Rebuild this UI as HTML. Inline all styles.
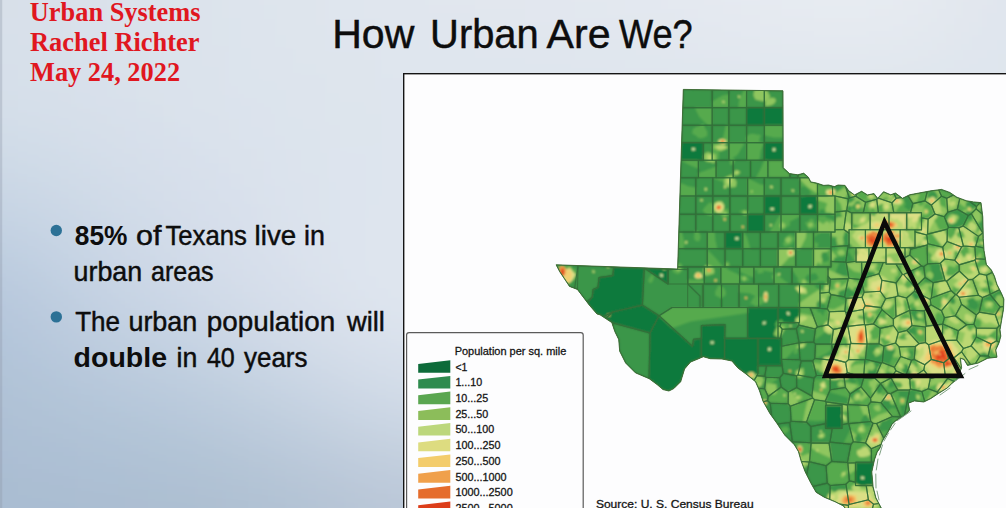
<!DOCTYPE html>
<html><head><meta charset="utf-8"><title>How Urban Are We?</title>
<style>
html,body{margin:0;padding:0;}
body{width:1006px;height:508px;overflow:hidden;position:relative;font-family:"Liberation Sans",sans-serif;
background:#dde3ea;}
svg{position:absolute;left:0;top:0;}
</style></head><body>
<svg width="1006" height="508" viewBox="0 0 1006 508">
<defs><filter id="bgblur" filterUnits="userSpaceOnUse" x="-400" y="-400" width="1900" height="1400"><feGaussianBlur stdDeviation="48"/></filter></defs>
<g filter="url(#bgblur)">
<rect x="-350" y="-350" width="101" height="101" fill="rgb(216,224,233)"/>
<rect x="-250" y="-350" width="101" height="101" fill="rgb(216,224,233)"/>
<rect x="-150" y="-350" width="101" height="101" fill="rgb(216,224,233)"/>
<rect x="-50" y="-350" width="101" height="101" fill="rgb(216,224,233)"/>
<rect x="50" y="-350" width="101" height="101" fill="rgb(218,225,234)"/>
<rect x="150" y="-350" width="101" height="101" fill="rgb(220,227,236)"/>
<rect x="250" y="-350" width="101" height="101" fill="rgb(223,229,237)"/>
<rect x="350" y="-350" width="101" height="101" fill="rgb(225,230,238)"/>
<rect x="450" y="-350" width="101" height="101" fill="rgb(226,231,239)"/>
<rect x="550" y="-350" width="101" height="101" fill="rgb(227,232,240)"/>
<rect x="650" y="-350" width="101" height="101" fill="rgb(229,233,241)"/>
<rect x="750" y="-350" width="101" height="101" fill="rgb(232,236,242)"/>
<rect x="850" y="-350" width="101" height="101" fill="rgb(232,236,242)"/>
<rect x="950" y="-350" width="101" height="101" fill="rgb(224,229,237)"/>
<rect x="1050" y="-350" width="101" height="101" fill="rgb(224,229,237)"/>
<rect x="1150" y="-350" width="101" height="101" fill="rgb(224,229,237)"/>
<rect x="1250" y="-350" width="101" height="101" fill="rgb(224,229,237)"/>
<rect x="-350" y="-250" width="101" height="101" fill="rgb(216,224,233)"/>
<rect x="-250" y="-250" width="101" height="101" fill="rgb(216,224,233)"/>
<rect x="-150" y="-250" width="101" height="101" fill="rgb(216,224,233)"/>
<rect x="-50" y="-250" width="101" height="101" fill="rgb(216,224,233)"/>
<rect x="50" y="-250" width="101" height="101" fill="rgb(218,225,234)"/>
<rect x="150" y="-250" width="101" height="101" fill="rgb(220,227,236)"/>
<rect x="250" y="-250" width="101" height="101" fill="rgb(223,229,237)"/>
<rect x="350" y="-250" width="101" height="101" fill="rgb(225,230,238)"/>
<rect x="450" y="-250" width="101" height="101" fill="rgb(226,231,239)"/>
<rect x="550" y="-250" width="101" height="101" fill="rgb(227,232,240)"/>
<rect x="650" y="-250" width="101" height="101" fill="rgb(229,233,241)"/>
<rect x="750" y="-250" width="101" height="101" fill="rgb(232,236,242)"/>
<rect x="850" y="-250" width="101" height="101" fill="rgb(232,236,242)"/>
<rect x="950" y="-250" width="101" height="101" fill="rgb(224,229,237)"/>
<rect x="1050" y="-250" width="101" height="101" fill="rgb(224,229,237)"/>
<rect x="1150" y="-250" width="101" height="101" fill="rgb(224,229,237)"/>
<rect x="1250" y="-250" width="101" height="101" fill="rgb(224,229,237)"/>
<rect x="-350" y="-150" width="101" height="101" fill="rgb(216,224,233)"/>
<rect x="-250" y="-150" width="101" height="101" fill="rgb(216,224,233)"/>
<rect x="-150" y="-150" width="101" height="101" fill="rgb(216,224,233)"/>
<rect x="-50" y="-150" width="101" height="101" fill="rgb(216,224,233)"/>
<rect x="50" y="-150" width="101" height="101" fill="rgb(218,225,234)"/>
<rect x="150" y="-150" width="101" height="101" fill="rgb(220,227,236)"/>
<rect x="250" y="-150" width="101" height="101" fill="rgb(223,229,237)"/>
<rect x="350" y="-150" width="101" height="101" fill="rgb(225,230,238)"/>
<rect x="450" y="-150" width="101" height="101" fill="rgb(226,231,239)"/>
<rect x="550" y="-150" width="101" height="101" fill="rgb(227,232,240)"/>
<rect x="650" y="-150" width="101" height="101" fill="rgb(229,233,241)"/>
<rect x="750" y="-150" width="101" height="101" fill="rgb(232,236,242)"/>
<rect x="850" y="-150" width="101" height="101" fill="rgb(232,236,242)"/>
<rect x="950" y="-150" width="101" height="101" fill="rgb(224,229,237)"/>
<rect x="1050" y="-150" width="101" height="101" fill="rgb(224,229,237)"/>
<rect x="1150" y="-150" width="101" height="101" fill="rgb(224,229,237)"/>
<rect x="1250" y="-150" width="101" height="101" fill="rgb(224,229,237)"/>
<rect x="-350" y="-50" width="101" height="101" fill="rgb(216,224,233)"/>
<rect x="-250" y="-50" width="101" height="101" fill="rgb(216,224,233)"/>
<rect x="-150" y="-50" width="101" height="101" fill="rgb(216,224,233)"/>
<rect x="-50" y="-50" width="101" height="101" fill="rgb(216,224,233)"/>
<rect x="50" y="-50" width="101" height="101" fill="rgb(218,225,234)"/>
<rect x="150" y="-50" width="101" height="101" fill="rgb(220,227,236)"/>
<rect x="250" y="-50" width="101" height="101" fill="rgb(223,229,237)"/>
<rect x="350" y="-50" width="101" height="101" fill="rgb(225,230,238)"/>
<rect x="450" y="-50" width="101" height="101" fill="rgb(226,231,239)"/>
<rect x="550" y="-50" width="101" height="101" fill="rgb(227,232,240)"/>
<rect x="650" y="-50" width="101" height="101" fill="rgb(229,233,241)"/>
<rect x="750" y="-50" width="101" height="101" fill="rgb(232,236,242)"/>
<rect x="850" y="-50" width="101" height="101" fill="rgb(232,236,242)"/>
<rect x="950" y="-50" width="101" height="101" fill="rgb(224,229,237)"/>
<rect x="1050" y="-50" width="101" height="101" fill="rgb(224,229,237)"/>
<rect x="1150" y="-50" width="101" height="101" fill="rgb(224,229,237)"/>
<rect x="1250" y="-50" width="101" height="101" fill="rgb(224,229,237)"/>
<rect x="-350" y="50" width="101" height="101" fill="rgb(214,224,234)"/>
<rect x="-250" y="50" width="101" height="101" fill="rgb(214,224,234)"/>
<rect x="-150" y="50" width="101" height="101" fill="rgb(214,224,234)"/>
<rect x="-50" y="50" width="101" height="101" fill="rgb(214,224,234)"/>
<rect x="50" y="50" width="101" height="101" fill="rgb(217,225,235)"/>
<rect x="150" y="50" width="101" height="101" fill="rgb(219,227,236)"/>
<rect x="250" y="50" width="101" height="101" fill="rgb(221,228,237)"/>
<rect x="350" y="50" width="101" height="101" fill="rgb(222,229,237)"/>
<rect x="450" y="50" width="101" height="101" fill="rgb(222,229,237)"/>
<rect x="550" y="50" width="101" height="101" fill="rgb(222,229,237)"/>
<rect x="650" y="50" width="101" height="101" fill="rgb(222,229,237)"/>
<rect x="750" y="50" width="101" height="101" fill="rgb(222,229,237)"/>
<rect x="850" y="50" width="101" height="101" fill="rgb(222,229,237)"/>
<rect x="950" y="50" width="101" height="101" fill="rgb(222,229,237)"/>
<rect x="1050" y="50" width="101" height="101" fill="rgb(222,229,237)"/>
<rect x="1150" y="50" width="101" height="101" fill="rgb(222,229,237)"/>
<rect x="1250" y="50" width="101" height="101" fill="rgb(222,229,237)"/>
<rect x="-350" y="150" width="101" height="101" fill="rgb(200,213,228)"/>
<rect x="-250" y="150" width="101" height="101" fill="rgb(200,213,228)"/>
<rect x="-150" y="150" width="101" height="101" fill="rgb(200,213,228)"/>
<rect x="-50" y="150" width="101" height="101" fill="rgb(200,213,228)"/>
<rect x="50" y="150" width="101" height="101" fill="rgb(208,219,232)"/>
<rect x="150" y="150" width="101" height="101" fill="rgb(215,223,235)"/>
<rect x="250" y="150" width="101" height="101" fill="rgb(220,227,237)"/>
<rect x="350" y="150" width="101" height="101" fill="rgb(222,229,238)"/>
<rect x="450" y="150" width="101" height="101" fill="rgb(222,229,238)"/>
<rect x="550" y="150" width="101" height="101" fill="rgb(222,229,238)"/>
<rect x="650" y="150" width="101" height="101" fill="rgb(222,229,238)"/>
<rect x="750" y="150" width="101" height="101" fill="rgb(222,229,238)"/>
<rect x="850" y="150" width="101" height="101" fill="rgb(222,229,238)"/>
<rect x="950" y="150" width="101" height="101" fill="rgb(222,229,238)"/>
<rect x="1050" y="150" width="101" height="101" fill="rgb(222,229,238)"/>
<rect x="1150" y="150" width="101" height="101" fill="rgb(222,229,238)"/>
<rect x="1250" y="150" width="101" height="101" fill="rgb(222,229,238)"/>
<rect x="-350" y="250" width="101" height="101" fill="rgb(180,198,220)"/>
<rect x="-250" y="250" width="101" height="101" fill="rgb(180,198,220)"/>
<rect x="-150" y="250" width="101" height="101" fill="rgb(180,198,220)"/>
<rect x="-50" y="250" width="101" height="101" fill="rgb(180,198,220)"/>
<rect x="50" y="250" width="101" height="101" fill="rgb(197,210,227)"/>
<rect x="150" y="250" width="101" height="101" fill="rgb(208,218,232)"/>
<rect x="250" y="250" width="101" height="101" fill="rgb(218,225,236)"/>
<rect x="350" y="250" width="101" height="101" fill="rgb(225,231,240)"/>
<rect x="450" y="250" width="101" height="101" fill="rgb(225,231,240)"/>
<rect x="550" y="250" width="101" height="101" fill="rgb(225,231,240)"/>
<rect x="650" y="250" width="101" height="101" fill="rgb(225,231,240)"/>
<rect x="750" y="250" width="101" height="101" fill="rgb(225,231,240)"/>
<rect x="850" y="250" width="101" height="101" fill="rgb(225,231,240)"/>
<rect x="950" y="250" width="101" height="101" fill="rgb(225,231,240)"/>
<rect x="1050" y="250" width="101" height="101" fill="rgb(225,231,240)"/>
<rect x="1150" y="250" width="101" height="101" fill="rgb(225,231,240)"/>
<rect x="1250" y="250" width="101" height="101" fill="rgb(225,231,240)"/>
<rect x="-350" y="350" width="101" height="101" fill="rgb(175,193,213)"/>
<rect x="-250" y="350" width="101" height="101" fill="rgb(175,193,213)"/>
<rect x="-150" y="350" width="101" height="101" fill="rgb(175,193,213)"/>
<rect x="-50" y="350" width="101" height="101" fill="rgb(175,193,213)"/>
<rect x="50" y="350" width="101" height="101" fill="rgb(180,198,217)"/>
<rect x="150" y="350" width="101" height="101" fill="rgb(186,203,221)"/>
<rect x="250" y="350" width="101" height="101" fill="rgb(198,211,226)"/>
<rect x="350" y="350" width="101" height="101" fill="rgb(210,220,232)"/>
<rect x="450" y="350" width="101" height="101" fill="rgb(210,220,232)"/>
<rect x="550" y="350" width="101" height="101" fill="rgb(210,220,232)"/>
<rect x="650" y="350" width="101" height="101" fill="rgb(210,220,232)"/>
<rect x="750" y="350" width="101" height="101" fill="rgb(210,220,232)"/>
<rect x="850" y="350" width="101" height="101" fill="rgb(210,220,232)"/>
<rect x="950" y="350" width="101" height="101" fill="rgb(210,220,232)"/>
<rect x="1050" y="350" width="101" height="101" fill="rgb(210,220,232)"/>
<rect x="1150" y="350" width="101" height="101" fill="rgb(210,220,232)"/>
<rect x="1250" y="350" width="101" height="101" fill="rgb(210,220,232)"/>
<rect x="-350" y="450" width="101" height="101" fill="rgb(169,188,209)"/>
<rect x="-250" y="450" width="101" height="101" fill="rgb(169,188,209)"/>
<rect x="-150" y="450" width="101" height="101" fill="rgb(169,188,209)"/>
<rect x="-50" y="450" width="101" height="101" fill="rgb(169,188,209)"/>
<rect x="50" y="450" width="101" height="101" fill="rgb(170,189,209)"/>
<rect x="150" y="450" width="101" height="101" fill="rgb(172,190,208)"/>
<rect x="250" y="450" width="101" height="101" fill="rgb(177,193,211)"/>
<rect x="350" y="450" width="101" height="101" fill="rgb(185,198,215)"/>
<rect x="450" y="450" width="101" height="101" fill="rgb(185,198,215)"/>
<rect x="550" y="450" width="101" height="101" fill="rgb(185,198,215)"/>
<rect x="650" y="450" width="101" height="101" fill="rgb(185,198,215)"/>
<rect x="750" y="450" width="101" height="101" fill="rgb(185,198,215)"/>
<rect x="850" y="450" width="101" height="101" fill="rgb(185,198,215)"/>
<rect x="950" y="450" width="101" height="101" fill="rgb(185,198,215)"/>
<rect x="1050" y="450" width="101" height="101" fill="rgb(185,198,215)"/>
<rect x="1150" y="450" width="101" height="101" fill="rgb(185,198,215)"/>
<rect x="1250" y="450" width="101" height="101" fill="rgb(185,198,215)"/>
<rect x="-350" y="550" width="101" height="101" fill="rgb(169,188,209)"/>
<rect x="-250" y="550" width="101" height="101" fill="rgb(169,188,209)"/>
<rect x="-150" y="550" width="101" height="101" fill="rgb(169,188,209)"/>
<rect x="-50" y="550" width="101" height="101" fill="rgb(169,188,209)"/>
<rect x="50" y="550" width="101" height="101" fill="rgb(170,189,209)"/>
<rect x="150" y="550" width="101" height="101" fill="rgb(172,190,208)"/>
<rect x="250" y="550" width="101" height="101" fill="rgb(177,193,211)"/>
<rect x="350" y="550" width="101" height="101" fill="rgb(185,198,215)"/>
<rect x="450" y="550" width="101" height="101" fill="rgb(185,198,215)"/>
<rect x="550" y="550" width="101" height="101" fill="rgb(185,198,215)"/>
<rect x="650" y="550" width="101" height="101" fill="rgb(185,198,215)"/>
<rect x="750" y="550" width="101" height="101" fill="rgb(185,198,215)"/>
<rect x="850" y="550" width="101" height="101" fill="rgb(185,198,215)"/>
<rect x="950" y="550" width="101" height="101" fill="rgb(185,198,215)"/>
<rect x="1050" y="550" width="101" height="101" fill="rgb(185,198,215)"/>
<rect x="1150" y="550" width="101" height="101" fill="rgb(185,198,215)"/>
<rect x="1250" y="550" width="101" height="101" fill="rgb(185,198,215)"/>
<rect x="-350" y="650" width="101" height="101" fill="rgb(169,188,209)"/>
<rect x="-250" y="650" width="101" height="101" fill="rgb(169,188,209)"/>
<rect x="-150" y="650" width="101" height="101" fill="rgb(169,188,209)"/>
<rect x="-50" y="650" width="101" height="101" fill="rgb(169,188,209)"/>
<rect x="50" y="650" width="101" height="101" fill="rgb(170,189,209)"/>
<rect x="150" y="650" width="101" height="101" fill="rgb(172,190,208)"/>
<rect x="250" y="650" width="101" height="101" fill="rgb(177,193,211)"/>
<rect x="350" y="650" width="101" height="101" fill="rgb(185,198,215)"/>
<rect x="450" y="650" width="101" height="101" fill="rgb(185,198,215)"/>
<rect x="550" y="650" width="101" height="101" fill="rgb(185,198,215)"/>
<rect x="650" y="650" width="101" height="101" fill="rgb(185,198,215)"/>
<rect x="750" y="650" width="101" height="101" fill="rgb(185,198,215)"/>
<rect x="850" y="650" width="101" height="101" fill="rgb(185,198,215)"/>
<rect x="950" y="650" width="101" height="101" fill="rgb(185,198,215)"/>
<rect x="1050" y="650" width="101" height="101" fill="rgb(185,198,215)"/>
<rect x="1150" y="650" width="101" height="101" fill="rgb(185,198,215)"/>
<rect x="1250" y="650" width="101" height="101" fill="rgb(185,198,215)"/>
<rect x="-350" y="750" width="101" height="101" fill="rgb(169,188,209)"/>
<rect x="-250" y="750" width="101" height="101" fill="rgb(169,188,209)"/>
<rect x="-150" y="750" width="101" height="101" fill="rgb(169,188,209)"/>
<rect x="-50" y="750" width="101" height="101" fill="rgb(169,188,209)"/>
<rect x="50" y="750" width="101" height="101" fill="rgb(170,189,209)"/>
<rect x="150" y="750" width="101" height="101" fill="rgb(172,190,208)"/>
<rect x="250" y="750" width="101" height="101" fill="rgb(177,193,211)"/>
<rect x="350" y="750" width="101" height="101" fill="rgb(185,198,215)"/>
<rect x="450" y="750" width="101" height="101" fill="rgb(185,198,215)"/>
<rect x="550" y="750" width="101" height="101" fill="rgb(185,198,215)"/>
<rect x="650" y="750" width="101" height="101" fill="rgb(185,198,215)"/>
<rect x="750" y="750" width="101" height="101" fill="rgb(185,198,215)"/>
<rect x="850" y="750" width="101" height="101" fill="rgb(185,198,215)"/>
<rect x="950" y="750" width="101" height="101" fill="rgb(185,198,215)"/>
<rect x="1050" y="750" width="101" height="101" fill="rgb(185,198,215)"/>
<rect x="1150" y="750" width="101" height="101" fill="rgb(185,198,215)"/>
<rect x="1250" y="750" width="101" height="101" fill="rgb(185,198,215)"/>
</g>
<rect x="0" y="0" width="2.2" height="508" fill="#8e99a8" fill-opacity="0.35"/>
<text x="29.80" y="21.0" font-family="Liberation Serif, serif" font-weight="bold" font-size="27" fill="#e0171f" textLength="170.70" lengthAdjust="spacingAndGlyphs">Urban Systems</text>
<text x="30.00" y="50.8" font-family="Liberation Serif, serif" font-weight="bold" font-size="27" fill="#e0171f" textLength="169.48" lengthAdjust="spacingAndGlyphs">Rachel Richter</text>
<text x="30.00" y="80.8" font-family="Liberation Serif, serif" font-weight="bold" font-size="27" fill="#e0171f" textLength="150.09" lengthAdjust="spacingAndGlyphs">May 24, 2022</text>
<text x="332.23" y="48.2" font-family="Liberation Sans, sans-serif" font-weight="normal" font-size="41.5" fill="#0d0d0d" textLength="82.15" lengthAdjust="spacingAndGlyphs" stroke="#0d0d0d" stroke-width="0.45">How</text>
<text x="430.12" y="48.2" font-family="Liberation Sans, sans-serif" font-weight="normal" font-size="41.5" fill="#0d0d0d" textLength="108.58" lengthAdjust="spacingAndGlyphs" stroke="#0d0d0d" stroke-width="0.45">Urban</text>
<text x="546.60" y="48.2" font-family="Liberation Sans, sans-serif" font-weight="normal" font-size="41.5" fill="#0d0d0d" textLength="63.97" lengthAdjust="spacingAndGlyphs" stroke="#0d0d0d" stroke-width="0.45">Are</text>
<text x="619.00" y="48.2" font-family="Liberation Sans, sans-serif" font-weight="normal" font-size="41.5" fill="#0d0d0d" textLength="73.74" lengthAdjust="spacingAndGlyphs" stroke="#0d0d0d" stroke-width="0.45">We?</text>
<text x="74.80" y="245.0" font-family="Liberation Sans, sans-serif" font-weight="bold" font-size="27.2" fill="#0d0d0d" textLength="52.67" lengthAdjust="spacingAndGlyphs">85%</text>
<text x="136.08" y="245.0" font-family="Liberation Sans, sans-serif" font-weight="normal" font-size="27.2" fill="#0d0d0d" textLength="25.42" lengthAdjust="spacingAndGlyphs" stroke="#0d0d0d" stroke-width="0.45">of</text>
<text x="165.40" y="245.0" font-family="Liberation Sans, sans-serif" font-weight="normal" font-size="27.2" fill="#0d0d0d" textLength="81.46" lengthAdjust="spacingAndGlyphs" stroke="#0d0d0d" stroke-width="0.45">Texans</text>
<text x="254.58" y="245.0" font-family="Liberation Sans, sans-serif" font-weight="normal" font-size="27.2" fill="#0d0d0d" textLength="41.56" lengthAdjust="spacingAndGlyphs" stroke="#0d0d0d" stroke-width="0.45">live</text>
<text x="304.01" y="245.0" font-family="Liberation Sans, sans-serif" font-weight="normal" font-size="27.2" fill="#0d0d0d" textLength="20.89" lengthAdjust="spacingAndGlyphs" stroke="#0d0d0d" stroke-width="0.45">in</text>
<text x="73.61" y="280.8" font-family="Liberation Sans, sans-serif" font-weight="normal" font-size="27.2" fill="#0d0d0d" textLength="68.59" lengthAdjust="spacingAndGlyphs" stroke="#0d0d0d" stroke-width="0.45">urban</text>
<text x="150.98" y="280.8" font-family="Liberation Sans, sans-serif" font-weight="normal" font-size="27.2" fill="#0d0d0d" textLength="62.67" lengthAdjust="spacingAndGlyphs" stroke="#0d0d0d" stroke-width="0.45">areas</text>
<text x="75.20" y="330.8" font-family="Liberation Sans, sans-serif" font-weight="normal" font-size="27.2" fill="#0d0d0d" textLength="44.87" lengthAdjust="spacingAndGlyphs" stroke="#0d0d0d" stroke-width="0.45">The</text>
<text x="128.41" y="330.8" font-family="Liberation Sans, sans-serif" font-weight="normal" font-size="27.2" fill="#0d0d0d" textLength="68.90" lengthAdjust="spacingAndGlyphs" stroke="#0d0d0d" stroke-width="0.45">urban</text>
<text x="206.88" y="330.8" font-family="Liberation Sans, sans-serif" font-weight="normal" font-size="27.2" fill="#0d0d0d" textLength="128.27" lengthAdjust="spacingAndGlyphs" stroke="#0d0d0d" stroke-width="0.45">population</text>
<text x="347.00" y="330.8" font-family="Liberation Sans, sans-serif" font-weight="normal" font-size="27.2" fill="#0d0d0d" textLength="37.84" lengthAdjust="spacingAndGlyphs" stroke="#0d0d0d" stroke-width="0.45">will</text>
<text x="73.55" y="366.6" font-family="Liberation Sans, sans-serif" font-weight="bold" font-size="27.2" fill="#0d0d0d" textLength="93.58" lengthAdjust="spacingAndGlyphs">double</text>
<text x="176.52" y="366.6" font-family="Liberation Sans, sans-serif" font-weight="normal" font-size="27.2" fill="#0d0d0d" textLength="20.78" lengthAdjust="spacingAndGlyphs" stroke="#0d0d0d" stroke-width="0.45">in</text>
<text x="206.90" y="366.6" font-family="Liberation Sans, sans-serif" font-weight="normal" font-size="27.2" fill="#0d0d0d" textLength="27.91" lengthAdjust="spacingAndGlyphs" stroke="#0d0d0d" stroke-width="0.45">40</text>
<text x="244.00" y="366.6" font-family="Liberation Sans, sans-serif" font-weight="normal" font-size="27.2" fill="#0d0d0d" textLength="63.47" lengthAdjust="spacingAndGlyphs" stroke="#0d0d0d" stroke-width="0.45">years</text>
<circle cx="56.3" cy="230.5" r="5.7" fill="#2c7196"/><circle cx="56.3" cy="316.9" r="5.7" fill="#2c7196"/>
<rect x="403.7" y="73.7" width="620" height="460" fill="#fdfdfe" stroke="#141414" stroke-width="1.4"/>
<defs><filter id="soft" x="-5%" y="-5%" width="110%" height="110%"><feGaussianBlur stdDeviation="0.45"/></filter><filter id="soft2" x="-5%" y="-5%" width="110%" height="110%"><feGaussianBlur stdDeviation="1.0"/></filter></defs><defs><clipPath id="tx"><polygon points="683.3,89.4 783.0,90.8 783.2,167.7 789.5,173.6 797.8,174.8 803.7,173.2 808.4,177.2 810.8,181.9 816.7,183.1 823.8,185.4 828.5,185.0 834.4,186.6 838.0,185.0 845.0,185.4 848.6,190.6 854.5,194.9 861.6,191.3 867.5,194.9 874.0,193.6 877.7,198.3 883.6,191.7 890.7,194.8 895.4,193.0 902.5,198.3 909.6,194.8 919.0,193.0 930.9,190.8 941.5,189.4 949.8,192.4 956.9,197.2 966.3,200.7 973.4,201.9 981.0,202.6 982.8,217.0 983.3,238.5 984.0,250.3 986.4,264.5 991.4,270.0 994.5,276.3 996.9,284.2 1001.6,293.6 1003.9,299.1 1003.5,309.4 1001.6,320.4 1000.0,329.8 1000.8,336.1 999.2,342.4 995.8,350.0 997.0,357.2 987.6,358.3 978.1,363.1 967.5,365.4 964.0,359.5 960.4,358.3 961.6,367.8 956.9,379.6 952.1,383.2 947.4,387.9 938.0,393.8 930.9,398.5 923.8,402.0 914.3,400.9 908.4,403.2 909.6,410.3 904.9,415.0 895.4,421.0 891.9,424.5 888.3,431.6 882.4,441.0 880.0,448.0 877.2,452.0 874.5,459.7 871.8,471.9 873.1,486.8 875.9,497.7 881.3,508.0 884.0,520.0 840.0,520.0 845.0,508.0 843.3,505.9 835.1,501.8 824.2,497.2 816.1,492.3 810.7,482.8 805.2,471.9 801.1,461.0 798.4,451.5 794.3,444.7 784.8,435.2 776.7,423.0 769.9,413.5 763.0,401.3 759.4,390.5 755.5,381.7 745.7,373.8 737.8,367.9 731.9,361.0 722.0,359.0 710.2,358.7 703.3,356.7 700.4,358.0 690.6,362.0 684.6,368.9 680.7,381.7 673.8,388.6 668.9,391.0 663.0,389.6 657.1,384.6 649.2,378.7 635.4,372.8 625.6,363.0 619.7,351.2 618.7,339.4 614.8,331.5 611.8,322.6 600.0,314.8 597.0,314.0 589.2,305.0 577.4,289.4 569.5,286.4 559.7,271.7 556.1,264.8 677.6,269.0 680.7,170.0"/></clipPath></defs>
<polygon points="683.3,89.4 783.0,90.8 783.2,167.7 789.5,173.6 797.8,174.8 803.7,173.2 808.4,177.2 810.8,181.9 816.7,183.1 823.8,185.4 828.5,185.0 834.4,186.6 838.0,185.0 845.0,185.4 848.6,190.6 854.5,194.9 861.6,191.3 867.5,194.9 874.0,193.6 877.7,198.3 883.6,191.7 890.7,194.8 895.4,193.0 902.5,198.3 909.6,194.8 919.0,193.0 930.9,190.8 941.5,189.4 949.8,192.4 956.9,197.2 966.3,200.7 973.4,201.9 981.0,202.6 982.8,217.0 983.3,238.5 984.0,250.3 986.4,264.5 991.4,270.0 994.5,276.3 996.9,284.2 1001.6,293.6 1003.9,299.1 1003.5,309.4 1001.6,320.4 1000.0,329.8 1000.8,336.1 999.2,342.4 995.8,350.0 997.0,357.2 987.6,358.3 978.1,363.1 967.5,365.4 964.0,359.5 960.4,358.3 961.6,367.8 956.9,379.6 952.1,383.2 947.4,387.9 938.0,393.8 930.9,398.5 923.8,402.0 914.3,400.9 908.4,403.2 909.6,410.3 904.9,415.0 895.4,421.0 891.9,424.5 888.3,431.6 882.4,441.0 880.0,448.0 877.2,452.0 874.5,459.7 871.8,471.9 873.1,486.8 875.9,497.7 881.3,508.0 884.0,520.0 840.0,520.0 845.0,508.0 843.3,505.9 835.1,501.8 824.2,497.2 816.1,492.3 810.7,482.8 805.2,471.9 801.1,461.0 798.4,451.5 794.3,444.7 784.8,435.2 776.7,423.0 769.9,413.5 763.0,401.3 759.4,390.5 755.5,381.7 745.7,373.8 737.8,367.9 731.9,361.0 722.0,359.0 710.2,358.7 703.3,356.7 700.4,358.0 690.6,362.0 684.6,368.9 680.7,381.7 673.8,388.6 668.9,391.0 663.0,389.6 657.1,384.6 649.2,378.7 635.4,372.8 625.6,363.0 619.7,351.2 618.7,339.4 614.8,331.5 611.8,322.6 600.0,314.8 597.0,314.0 589.2,305.0 577.4,289.4 569.5,286.4 559.7,271.7 556.1,264.8 677.6,269.0 680.7,170.0" fill="#3a9648"/>
<g clip-path="url(#tx)">
<g filter="url(#soft2)">
<rect x="540" y="80" width="470" height="440" fill="#3a9648"/>
<g stroke="#33703a" stroke-width="0.85" stroke-linejoin="round">
<polygon points="712.2,107.6 712.2,89.8 683.3,89.4 682.7,107.6" fill="#3a9648"/>
<polygon points="712.2,107.6 728.9,107.6 728.9,90.0 712.2,89.8" fill="#3a9648"/>
<polygon points="728.9,107.6 746.6,107.6 746.6,90.3 728.9,90.0" fill="#3a9648"/>
<polygon points="746.6,107.6 764.3,107.6 764.3,90.5 746.6,90.3" fill="#3a9648"/>
<polygon points="764.3,107.6 783.0,107.6 783.0,90.8 764.3,90.5" fill="#3a9648"/>
<polygon points="712.2,125.3 712.2,107.6 682.7,107.6 682.1,125.3" fill="#3a9648"/>
<polygon points="712.2,107.6 712.2,125.3 728.9,125.3 728.9,107.6" fill="#3a9648"/>
<polygon points="728.9,107.6 728.9,125.3 746.6,125.3 746.6,107.6" fill="#3a9648"/>
<polygon points="746.6,107.6 746.6,125.3 764.3,125.3 764.3,107.6" fill="#0e7a3c"/>
<polygon points="764.3,107.6 764.3,125.3 783.1,125.3 783.0,107.6" fill="#0e7a3c"/>
<polygon points="712.2,142.6 712.2,125.3 682.1,125.3 681.6,142.6" fill="#3a9648"/>
<polygon points="712.2,125.3 712.2,142.6 728.9,142.6 728.9,125.3" fill="#3a9648"/>
<polygon points="728.9,125.3 728.9,142.6 746.6,142.6 746.6,125.3" fill="#3a9648"/>
<polygon points="746.6,125.3 746.6,142.6 764.3,142.6 764.3,125.3" fill="#3a9648"/>
<polygon points="764.3,125.3 764.3,142.6 783.1,142.6 783.1,125.3" fill="#3a9648"/>
<polygon points="703.3,160.3 703.3,142.6 681.6,142.6 681.0,160.3" fill="#0e7a3c"/>
<polygon points="703.3,142.6 703.3,160.3 712.2,160.3 712.2,142.6" fill="#3a9648"/>
<polygon points="712.2,142.6 712.2,160.3 728.9,160.3 728.9,142.6" fill="#3a9648"/>
<polygon points="728.9,142.6 728.9,160.3 746.6,160.3 746.6,142.6" fill="#3a9648"/>
<polygon points="746.6,142.6 746.6,160.3 764.3,160.3 764.3,142.6" fill="#3a9648"/>
<polygon points="764.3,142.6 764.3,160.3 783.2,160.3 783.1,142.6" fill="#0e7a3c"/>
<polygon points="698.4,177.8 698.4,160.3 681.0,160.3 680.7,170.0 680.5,177.8" fill="#3a9648"/>
<polygon points="698.4,160.3 698.4,177.8 716.1,177.8 716.1,160.3" fill="#3a9648"/>
<polygon points="716.1,160.3 716.1,177.8 733.2,177.8 733.2,160.3" fill="#3a9648"/>
<polygon points="733.2,160.3 733.2,177.8 750.5,177.8 750.5,160.3" fill="#3a9648"/>
<polygon points="750.5,160.3 750.5,177.8 767.9,177.8 767.9,160.3" fill="#3a9648"/>
<polygon points="767.9,160.3 767.9,177.8 790.0,177.8 790.0,173.7 789.5,173.6 783.2,167.7 783.2,160.3" fill="#56aa4e"/>
<polygon points="695.8,196.0 695.8,177.8 680.5,177.8 679.9,196.0" fill="#3a9648"/>
<polygon points="695.8,177.8 695.8,196.0 712.8,196.0 712.8,177.8" fill="#3a9648"/>
<polygon points="712.8,177.8 712.8,196.0 729.9,196.0 729.9,177.8" fill="#3a9648"/>
<polygon points="729.9,177.8 729.9,196.0 747.6,196.0 747.6,177.8" fill="#3a9648"/>
<polygon points="747.6,177.8 747.6,196.0 764.3,196.0 764.3,177.8" fill="#3a9648"/>
<polygon points="764.3,177.8 764.3,196.0 781.0,196.0 781.0,177.8" fill="#3a9648"/>
<polygon points="781.0,177.8 781.0,196.0 799.8,196.0 799.8,177.8" fill="#3a9648"/>
<polygon points="799.8,177.8 799.8,196.0 817.5,196.0 817.5,183.4 816.7,183.1 810.8,181.9 808.7,177.8" fill="#56aa4e"/>
<polygon points="695.8,214.3 695.8,196.0 679.9,196.0 679.3,214.3" fill="#3a9648"/>
<polygon points="695.8,196.0 695.8,214.3 712.8,214.3 712.8,196.0" fill="#3a9648"/>
<polygon points="712.8,196.0 712.8,214.3 729.9,214.3 729.9,196.0" fill="#3a9648"/>
<polygon points="729.9,196.0 729.9,214.3 747.6,214.3 747.6,196.0" fill="#3a9648"/>
<polygon points="747.6,196.0 747.6,214.3 764.3,214.3 764.3,196.0" fill="#3a9648"/>
<polygon points="764.3,196.0 764.3,214.3 781.0,214.3 781.0,196.0" fill="#0e7a3c"/>
<polygon points="781.0,196.0 781.0,214.3 799.8,214.3 799.8,196.0" fill="#3a9648"/>
<polygon points="799.8,196.0 799.8,214.3 817.5,214.3 817.5,196.0" fill="#0e7a3c"/>
<polygon points="817.5,196.0 817.5,214.3 835.0,214.3 835.0,196.0" fill="#56aa4e"/>
<polygon points="695.8,232.0 695.8,214.3 679.3,214.3 678.8,232.0" fill="#3a9648"/>
<polygon points="695.8,214.3 695.8,232.0 712.8,232.0 712.8,214.3" fill="#3a9648"/>
<polygon points="712.8,214.3 712.8,232.0 729.9,232.0 729.9,214.3" fill="#3a9648"/>
<polygon points="729.9,214.3 729.9,232.0 747.6,232.0 747.6,214.3" fill="#3a9648"/>
<polygon points="747.6,214.3 747.6,232.0 764.3,232.0 764.3,214.3" fill="#0e7a3c"/>
<polygon points="764.3,214.3 764.3,232.0 781.0,232.0 781.0,214.3" fill="#3a9648"/>
<polygon points="781.0,214.3 781.0,232.0 799.8,232.0 799.8,214.3" fill="#3a9648"/>
<polygon points="799.8,214.3 799.8,232.0 817.5,232.0 817.5,214.3" fill="#3a9648"/>
<polygon points="817.5,214.3 817.5,232.0 835.0,232.0 835.0,214.3" fill="#56aa4e"/>
<polygon points="707.2,248.7 707.2,232.0 678.8,232.0 678.2,248.7" fill="#3a9648"/>
<polygon points="707.2,232.0 707.2,248.7 725.0,248.7 725.0,232.0" fill="#3a9648"/>
<polygon points="725.0,232.0 725.0,248.7 742.7,248.7 742.7,232.0" fill="#0e7a3c"/>
<polygon points="742.7,232.0 742.7,248.7 760.4,248.7 760.4,232.0" fill="#3a9648"/>
<polygon points="760.4,232.0 760.4,248.7 778.1,248.7 778.1,232.0" fill="#3a9648"/>
<polygon points="778.1,232.0 778.1,248.7 795.8,248.7 795.8,232.0" fill="#3a9648"/>
<polygon points="795.8,232.0 795.8,248.7 813.5,248.7 813.5,232.0" fill="#56aa4e"/>
<polygon points="813.5,232.0 813.5,248.7 831.0,248.7 831.0,232.0" fill="#56aa4e"/>
<polygon points="707.2,266.9 707.2,248.7 678.2,248.7 677.7,266.9" fill="#3a9648"/>
<polygon points="707.2,248.7 707.2,266.9 725.0,266.9 725.0,248.7" fill="#3a9648"/>
<polygon points="725.0,248.7 725.0,266.9 742.7,266.9 742.7,248.7" fill="#3a9648"/>
<polygon points="742.7,248.7 742.7,266.9 760.4,266.9 760.4,248.7" fill="#3a9648"/>
<polygon points="760.4,248.7 760.4,266.9 778.1,266.9 778.1,248.7" fill="#3a9648"/>
<polygon points="778.1,248.7 778.1,266.9 795.8,266.9 795.8,248.7" fill="#56aa4e"/>
<polygon points="795.8,248.7 795.8,266.9 813.5,266.9 813.5,248.7" fill="#3a9648"/>
<polygon points="813.5,248.7 813.5,266.9 831.0,266.9 831.0,248.7" fill="#56aa4e"/>
<polygon points="668.0,284.0 687.7,284.0 687.7,266.9 677.7,266.9 677.6,269.0 668.0,268.7" fill="#3a9648"/>
<polygon points="687.7,266.9 687.7,284.0 704.3,284.0 704.3,266.9" fill="#3a9648"/>
<polygon points="704.3,266.9 704.3,284.0 720.8,284.0 720.8,266.9" fill="#3a9648"/>
<polygon points="720.8,266.9 720.8,284.0 739.7,284.0 739.7,266.9" fill="#3a9648"/>
<polygon points="739.7,266.9 739.7,284.0 753.9,284.0 753.9,266.9" fill="#3a9648"/>
<polygon points="753.9,266.9 753.9,284.0 774.0,284.0 774.0,266.9" fill="#3a9648"/>
<polygon points="774.0,266.9 774.0,284.0 792.0,284.0 792.0,266.9" fill="#3a9648"/>
<polygon points="792.0,266.9 792.0,284.0 810.0,284.0 810.0,266.9" fill="#3a9648"/>
<polygon points="810.0,266.9 810.0,284.0 828.0,284.0 828.0,266.9" fill="#56aa4e"/>
<polygon points="687.7,284.0 687.7,307.5 703.1,307.5 703.1,284.0" fill="#3a9648"/>
<polygon points="703.1,284.0 703.1,307.5 721.5,307.5 721.5,284.0" fill="#3a9648"/>
<polygon points="721.5,284.0 721.5,307.5 739.0,307.5 739.0,284.0" fill="#3a9648"/>
<polygon points="739.0,284.0 739.0,307.5 758.6,307.5 758.6,284.0" fill="#3a9648"/>
<polygon points="758.6,284.0 758.6,307.5 778.7,307.5 778.7,284.0" fill="#3a9648"/>
<polygon points="778.7,284.0 778.7,307.5 799.5,307.5 799.5,284.0" fill="#3a9648"/>
<polygon points="799.5,284.0 799.5,307.5 820.0,307.5 820.0,284.0" fill="#56aa4e"/>
<polygon points="578.0,265.6 556.1,264.8 559.7,271.7 569.5,286.4 577.4,289.4 577.5,289.5" fill="#3a9648"/>
<polygon points="574.6,288.3 577.4,289.4 587.9,303.3 592.2,297.2 593.1,289.4 598.0,287.4 599.0,277.6 612.8,275.6 613.8,267.0 578.0,265.6" fill="#3a9648"/>
<polygon points="612.8,275.6 599.0,277.6 598.0,287.4 593.1,289.4 592.2,297.2 586.7,301.7 589.2,305.0 597.0,314.0 600.0,314.8 602.9,316.7 613.0,312.0 642.4,305.1 644.3,268.0 613.8,267.0" fill="#0e7a3c"/>
<polygon points="668.0,284.0 668.0,269.3 644.3,268.0" fill="#0e7a3c"/>
<polygon points="642.4,305.1 659.0,315.7 672.0,307.5 700.0,307.5 700.0,296.0 687.7,284.0 687.7,269.5 668.0,269.3 668.0,284.0 644.3,268.0" fill="#3a9648"/>
<polygon points="613.0,312.0 606.0,318.0 613.0,323.0 650.0,333.0 659.0,315.7 642.4,305.1" fill="#0e7a3c"/>
<polygon points="612.8,325.5 614.8,331.5 618.7,339.4 619.7,351.2 625.6,363.0 635.4,372.8 649.1,378.6 650.0,333.0 613.0,323.0" fill="#3a9648"/>
<polygon points="649.1,378.6 649.2,378.7 657.1,384.6 663.0,389.6 668.9,391.0 673.8,388.6 680.7,381.7 684.6,368.9 690.6,362.0 700.4,358.0 701.4,357.6 701.4,338.4 693.5,339.4 692.5,346.3 659.0,315.7 650.0,333.0" fill="#0e7a3c"/>
<polygon points="692.5,346.3 693.5,339.4 701.4,338.4 701.4,325.6 725.0,324.6 724.5,338.4 747.6,338.4 747.6,307.5 672.0,307.5 659.0,315.7" fill="#3a9648"/>
<polygon points="701.4,357.6 703.3,356.7 710.2,358.7 722.0,359.0 724.5,359.5 725.0,324.6 701.4,325.6" fill="#0e7a3c"/>
<polygon points="724.5,359.5 731.9,361.0 737.8,367.9 745.7,373.8 754.0,380.5 757.9,374.0 757.9,338.4 724.5,338.4" fill="#0e7a3c"/>
<polygon points="757.9,365.6 781.5,365.6 781.5,338.4 757.9,338.4" fill="#0e7a3c"/>
<polygon points="747.6,338.4 778.0,338.4 778.0,307.5 747.6,307.5" fill="#0e7a3c"/>
<polygon points="778.0,322.6 799.5,322.6 799.5,307.5 778.0,307.5" fill="#0e7a3c"/>
<polygon points="825.6,428.4 842.0,428.4 842.0,405.3 825.6,405.3" fill="#0e7a3c"/>
<polygon points="851.8,229.8 870.1,229.8 870.1,212.7 851.8,212.7" fill="#8fc65e"/>
<polygon points="870.1,229.8 889.0,229.8 889.0,212.7 870.1,212.7" fill="#dcdf85"/>
<polygon points="889.0,229.8 906.7,229.8 906.7,212.7 889.0,212.7" fill="#dcdf85"/>
<polygon points="906.7,229.8 921.5,229.8 921.5,212.7 906.7,212.7" fill="#bcd873"/>
<polygon points="849.0,247.6 865.4,247.6 865.4,229.8 849.0,229.8" fill="#bcd873"/>
<polygon points="865.4,247.6 882.5,247.6 882.5,229.8 865.4,229.8" fill="#dcdf85"/>
<polygon points="882.5,247.6 900.2,247.6 900.2,229.8 882.5,229.8" fill="#dcdf85"/>
<polygon points="900.2,247.6 915.0,247.6 915.0,229.8 900.2,229.8" fill="#bcd873"/>
<polygon points="856.0,262.0 869.0,262.0 869.0,247.6 856.0,247.6" fill="#bcd873"/>
<polygon points="869.0,262.5 886.0,262.5 886.0,247.6 869.0,247.6" fill="#bcd873"/>
<polygon points="886.0,264.0 905.0,264.0 905.0,247.6 886.0,247.6" fill="#bcd873"/>
<polygon points="855.5,485.5 873.0,485.5 871.8,471.9 873.9,462.4 855.5,462.4" fill="#0e7a3c"/>
<polygon points="798.2,174.7 797.8,174.8 790.0,173.7 790.0,177.8 797.7,177.8" fill="#3a9648"/>
<polygon points="797.7,177.8 808.7,177.8 808.4,177.2 803.7,173.2 798.2,174.7" fill="#56aa4e"/>
<polygon points="832.7,195.5 832.4,186.1 828.5,185.0 823.8,185.4 817.5,183.4 817.5,195.9 832.2,195.9" fill="#56aa4e"/>
<polygon points="834.6,195.9 835.0,195.9 835.0,196.0 835.0,196.0 835.0,196.0 835.0,196.0 835.0,196.0 835.0,196.0 835.0,196.0 835.0,196.0 835.0,196.0 835.0,196.0 835.0,196.0 835.0,196.0 835.0,196.0 835.0,196.0 835.0,196.0 835.0,196.0 835.0,196.0 848.5,198.9 849.3,198.0 845.5,186.1 845.0,185.4 838.0,185.0 834.4,186.6 832.4,186.1 832.7,195.5" fill="#56aa4e"/>
<polygon points="855.8,196.2 857.2,193.5 854.5,194.9 848.6,190.6 845.5,186.1 849.3,198.0" fill="#56aa4e"/>
<polygon points="877.6,198.2 874.0,193.6 867.5,194.9 861.6,191.3 857.2,193.5 855.8,196.2 865.6,202.3 876.7,199.3" fill="#8fc65e"/>
<polygon points="891.9,202.8 896.2,198.3 893.9,193.6 890.7,194.8 883.6,191.7 878.0,197.9" fill="#56aa4e"/>
<polygon points="896.2,198.3 901.4,197.5 895.4,193.0 893.9,193.6" fill="#8fc65e"/>
<polygon points="908.3,196.3 912.8,203.6 924.9,200.9 927.2,191.5 919.0,193.0 909.6,194.8 908.3,195.4" fill="#8fc65e"/>
<polygon points="938.7,189.8 930.9,190.8 927.2,191.5 924.9,200.9 931.4,205.2 941.6,196.2" fill="#56aa4e"/>
<polygon points="946.7,198.2 953.4,194.9 949.8,192.4 941.5,189.4 938.7,189.8 941.6,196.2" fill="#56aa4e"/>
<polygon points="976.5,206.5 980.0,202.5 973.4,201.9 969.1,201.2" fill="#56aa4e"/>
<polygon points="846.3,210.9 846.7,210.6 848.5,198.9 835.0,196.0 835.0,212.0" fill="#56aa4e"/>
<polygon points="865.6,202.3 855.8,196.2 849.3,198.0 848.5,198.9 846.7,210.6 851.8,212.9 851.8,212.7 851.8,212.7 851.8,212.7 851.8,212.7 851.8,212.7 851.8,212.7 851.8,212.7 851.8,212.7 851.8,212.7 851.8,212.7 851.8,212.7 851.8,212.7 851.8,212.7 851.8,212.7 851.8,212.7 851.8,212.7 851.8,212.6 863.3,212.6" fill="#56aa4e"/>
<polygon points="876.7,199.3 865.6,202.3 863.3,212.6 876.6,212.6 878.4,212.1" fill="#8fc65e"/>
<polygon points="891.9,202.8 878.0,197.9 877.7,198.3 877.6,198.2 876.7,199.3 878.4,212.1 878.9,212.6 893.8,212.6" fill="#8fc65e"/>
<polygon points="912.8,203.6 908.3,196.3 905.6,196.8 902.5,198.3 901.4,197.5 896.2,198.3 891.9,202.8 893.8,212.6 910.5,212.6" fill="#56aa4e"/>
<polygon points="924.9,200.9 912.8,203.6 910.5,212.6 921.5,212.6 921.5,212.7 921.5,212.7 921.5,212.7 921.5,212.7 921.5,212.7 921.5,212.7 921.5,212.7 921.5,212.7 921.5,212.7 921.5,212.7 921.5,212.7 921.5,212.7 921.5,212.7 921.5,212.7 921.5,212.7 921.5,212.7 921.5,217.9 928.1,219.0 934.9,214.0 931.4,205.2" fill="#56aa4e"/>
<polygon points="931.4,205.2 934.9,214.0 944.3,216.8 947.7,212.3 946.7,198.2 941.6,196.2" fill="#8fc65e"/>
<polygon points="947.7,212.3 957.4,209.2 959.8,198.3 956.9,197.2 953.4,194.9 946.7,198.2" fill="#8fc65e"/>
<polygon points="976.1,208.8 976.5,206.5 969.1,201.2 966.3,200.7 959.8,198.3 957.4,209.2 968.3,215.4 971.3,213.7" fill="#56aa4e"/>
<polygon points="982.4,214.1 981.0,202.6 980.0,202.5 976.5,206.5 976.1,208.8" fill="#56aa4e"/>
<polygon points="843.8,229.5 846.3,210.9 835.0,212.0 835.0,229.7" fill="#56aa4e"/>
<polygon points="843.8,229.5 849.0,233.2 849.0,229.8 849.0,229.8 849.0,229.8 849.0,229.8 849.0,229.8 849.0,229.8 849.0,229.8 849.0,229.8 849.0,229.8 849.0,229.8 849.0,229.8 849.0,229.8 849.0,229.8 849.0,229.8 849.0,229.8 849.0,229.8 849.0,229.8 851.8,229.8 851.8,212.9 846.7,210.6 846.3,210.9" fill="#8fc65e"/>
<polygon points="927.6,234.1 928.1,219.0 921.5,217.9 921.5,229.8 921.5,229.8 921.5,229.8 921.5,229.8 921.5,229.8 921.5,229.8 921.5,229.8 921.5,229.8 921.5,229.8 921.5,229.8 921.5,229.8 921.5,229.8 921.5,229.8 921.5,229.8 921.5,229.8 921.5,229.8 921.5,229.9 915.0,229.9 915.0,231.9 926.8,235.0" fill="#8fc65e"/>
<polygon points="947.4,229.1 948.5,227.3 944.3,216.8 934.9,214.0 928.1,219.0 927.6,234.1" fill="#8fc65e"/>
<polygon points="944.3,216.8 948.5,227.3 958.8,227.7 963.1,225.9 968.3,215.4 957.4,209.2 947.7,212.3" fill="#56aa4e"/>
<polygon points="968.3,215.4 963.1,225.9 978.5,236.4 982.8,232.9 971.3,213.7" fill="#8fc65e"/>
<polygon points="982.8,232.9 983.2,232.7 982.8,217.0 982.4,214.1 976.1,208.8 971.3,213.7" fill="#56aa4e"/>
<polygon points="848.1,245.6 849.0,244.8 849.0,233.2 843.8,229.5 835.0,229.7 835.0,232.0 835.0,232.0 835.0,232.0 835.0,232.0 835.0,232.0 835.0,232.0 835.0,232.0 835.0,232.0 835.0,232.0 835.0,232.0 835.0,232.0 835.0,232.0 835.0,232.0 835.0,232.0 835.0,232.0 835.0,232.0 835.0,232.1 831.0,232.1 831.0,246.8" fill="#56aa4e"/>
<polygon points="927.1,245.1 927.9,243.8 926.8,235.0 915.0,231.9 915.0,247.6 915.0,247.6 915.0,247.6 915.0,247.6 915.0,247.6 915.0,247.6 915.0,247.6 915.0,247.6 915.0,247.6 915.0,247.6 915.0,247.6 915.0,247.6 915.0,247.6 915.0,247.6 915.0,247.6 915.0,247.6 915.0,247.7 909.9,247.7 910.7,249.1" fill="#8fc65e"/>
<polygon points="947.1,241.5 947.4,229.1 927.6,234.1 926.8,235.0 927.9,243.8 942.7,247.2" fill="#8fc65e"/>
<polygon points="961.6,246.9 963.4,246.0 958.8,227.7 948.5,227.3 947.4,229.1 947.1,241.5" fill="#8fc65e"/>
<polygon points="975.7,246.1 978.5,236.4 963.1,225.9 958.8,227.7 963.4,246.0 974.9,246.9" fill="#8fc65e"/>
<polygon points="982.8,232.9 978.5,236.4 975.7,246.1 983.9,248.0 983.3,238.5 983.2,232.7" fill="#8fc65e"/>
<polygon points="845.8,262.1 848.1,245.6 831.0,246.8 831.0,261.4" fill="#56aa4e"/>
<polygon points="848.1,245.6 845.8,262.1 846.2,262.5 856.0,261.3 856.0,247.7 849.0,247.7 849.0,247.6 849.0,247.6 849.0,247.6 849.0,247.6 849.0,247.6 849.0,247.6 849.0,247.6 849.0,247.6 849.0,247.6 849.0,247.6 849.0,247.6 849.0,247.6 849.0,247.6 849.0,247.6 849.0,247.6 849.0,247.6 849.0,244.8" fill="#56aa4e"/>
<polygon points="909.9,247.7 905.0,247.7 905.0,257.6 909.8,254.9 910.7,249.1" fill="#8fc65e"/>
<polygon points="909.8,254.9 921.6,266.0 923.8,266.6 927.5,263.9 927.1,245.1 910.7,249.1" fill="#56aa4e"/>
<polygon points="944.8,259.0 942.7,247.2 927.9,243.8 927.1,245.1 927.5,263.9 940.4,263.2" fill="#8fc65e"/>
<polygon points="954.7,260.3 961.6,246.9 947.1,241.5 942.7,247.2 944.8,259.0" fill="#8fc65e"/>
<polygon points="959.1,264.9 975.1,260.1 975.7,258.8 974.9,246.9 963.4,246.0 961.6,246.9 954.7,260.3" fill="#8fc65e"/>
<polygon points="975.7,246.1 974.9,246.9 975.7,258.8 985.5,259.3 984.0,250.3 983.9,248.0" fill="#8fc65e"/>
<polygon points="619.5,267.0 602.8,266.4 602.8,266.5 613.8,267.0 619.5,267.1" fill="#3a9648"/>
<polygon points="637.2,267.6 619.5,267.0 619.5,267.1 637.1,267.7" fill="#3a9648"/>
<polygon points="650.8,268.3 668.0,269.2 668.0,268.7 650.8,268.1" fill="#3a9648"/>
<polygon points="845.8,262.1 831.0,261.4 831.0,266.9 831.0,266.9 831.0,266.9 831.0,266.9 831.0,266.9 831.0,266.9 831.0,266.9 831.0,266.9 831.0,266.9 831.0,266.9 831.0,266.9 831.0,266.9 831.0,266.9 831.0,266.9 831.0,266.9 831.0,266.9 831.0,266.9 828.0,266.9 828.0,276.4 830.3,279.2 848.2,278.6 848.8,278.2 846.2,262.5" fill="#56aa4e"/>
<polygon points="862.0,278.5 861.6,262.4 861.3,262.1 856.0,262.1 856.0,262.0 856.0,262.0 856.0,262.0 856.0,262.0 856.0,262.0 856.0,262.0 856.0,262.0 856.0,262.0 856.0,262.0 856.0,262.0 856.0,262.0 856.0,262.0 856.0,262.0 856.0,262.0 856.0,262.0 856.0,262.0 856.0,261.3 846.2,262.5 848.8,278.2 860.9,279.6" fill="#8fc65e"/>
<polygon points="883.2,262.6 869.0,262.6 869.0,262.5 869.0,262.5 869.0,262.5 869.0,262.5 869.0,262.5 869.0,262.5 869.0,262.5 869.0,262.5 869.0,262.5 869.0,262.5 869.0,262.5 869.0,262.5 869.0,262.5 869.0,262.5 869.0,262.5 869.0,262.5 869.0,262.1 866.5,262.1 861.6,262.4 862.0,278.5 878.9,273.8" fill="#56aa4e"/>
<polygon points="881.9,280.2 896.1,282.9 902.3,274.2 896.0,264.1 886.0,264.1 886.0,264.0 886.0,264.0 886.0,264.0 886.0,264.0 886.0,264.0 886.0,264.0 886.0,264.0 886.0,264.0 886.0,264.0 886.0,264.0 886.0,264.0 886.0,264.0 886.0,264.0 886.0,264.0 886.0,264.0 886.0,264.0 886.0,262.6 883.2,262.6 878.9,273.8" fill="#56aa4e"/>
<polygon points="905.0,257.6 905.0,264.0 905.0,264.0 905.0,264.0 905.0,264.0 905.0,264.0 905.0,264.0 905.0,264.0 905.0,264.0 905.0,264.0 905.0,264.0 905.0,264.0 905.0,264.0 905.0,264.0 905.0,264.0 905.0,264.0 905.0,264.0 905.0,264.1 896.0,264.1 902.3,274.2 903.6,274.5 921.6,266.0 909.8,254.9" fill="#56aa4e"/>
<polygon points="921.6,266.0 903.6,274.5 915.0,287.4 925.1,277.5 923.8,266.6" fill="#56aa4e"/>
<polygon points="940.4,263.2 927.5,263.9 923.8,266.6 925.1,277.5 933.2,282.6 945.0,280.4" fill="#56aa4e"/>
<polygon points="959.3,271.0 959.1,264.9 954.7,260.3 944.8,259.0 940.4,263.2 945.0,280.4 946.6,281.3" fill="#8fc65e"/>
<polygon points="968.5,279.6 972.6,279.4 979.4,273.8 975.1,260.1 959.1,264.9 959.3,271.0" fill="#8fc65e"/>
<polygon points="992.5,272.3 991.4,270.0 986.4,264.5 985.5,259.3 975.7,258.8 975.1,260.1 979.4,273.8 986.5,275.3" fill="#8fc65e"/>
<polygon points="830.3,279.2 828.0,276.4 828.0,284.0 828.0,284.0 828.0,284.0 828.0,284.0 828.0,284.0 828.0,284.0 828.0,284.0 828.0,284.0 828.0,284.0 828.0,284.0 828.0,284.0 828.0,284.0 828.0,284.0 828.0,284.0 828.0,284.0 828.0,284.0 828.0,284.1 820.0,284.1 820.0,293.1 829.3,292.3" fill="#56aa4e"/>
<polygon points="844.6,296.9 848.2,278.6 830.3,279.2 829.3,292.3 830.9,294.6" fill="#56aa4e"/>
<polygon points="864.1,292.2 860.9,279.6 848.8,278.2 848.2,278.6 844.6,296.9 846.0,298.4 862.0,297.2" fill="#56aa4e"/>
<polygon points="862.0,278.5 860.9,279.6 864.1,292.2 880.3,291.2 881.9,280.2 878.9,273.8" fill="#8fc65e"/>
<polygon points="880.3,291.2 885.6,298.8 895.3,297.0 898.1,295.8 896.1,282.9 881.9,280.2" fill="#8fc65e"/>
<polygon points="896.1,282.9 898.1,295.8 906.6,298.0 914.4,291.3 915.0,287.4 903.6,274.5 902.3,274.2" fill="#8fc65e"/>
<polygon points="925.1,277.5 915.0,287.4 914.4,291.3 930.3,299.5 931.3,298.1 933.2,282.6" fill="#56aa4e"/>
<polygon points="945.0,280.4 933.2,282.6 931.3,298.1 951.1,290.7 946.6,281.3" fill="#8fc65e"/>
<polygon points="951.1,290.7 955.5,294.5 956.4,294.6 968.5,279.6 959.3,271.0 946.6,281.3" fill="#8fc65e"/>
<polygon points="956.4,294.6 959.2,297.3 978.5,295.2 972.6,279.4 968.5,279.6" fill="#8fc65e"/>
<polygon points="990.0,294.4 990.2,294.2 986.5,275.3 979.4,273.8 972.6,279.4 978.5,295.2 982.6,297.6" fill="#8fc65e"/>
<polygon points="990.2,294.2 999.6,289.7 996.9,284.2 994.5,276.3 992.5,272.3 986.5,275.3" fill="#8fc65e"/>
<polygon points="827.2,308.9 830.9,294.6 829.3,292.3 820.0,293.1 820.0,307.5 820.0,307.5 820.0,307.5 820.0,307.5 820.0,307.5 820.0,307.5 820.0,307.5 820.0,307.5 820.0,307.5 820.0,307.5 820.0,307.5 820.0,307.5 820.0,307.5 820.0,307.5 820.0,307.5 820.0,307.5 820.0,307.6 809.8,307.6 810.1,307.8" fill="#56aa4e"/>
<polygon points="846.0,298.4 844.6,296.9 830.9,294.6 827.2,308.9 829.4,311.8 844.9,311.1" fill="#56aa4e"/>
<polygon points="865.2,305.6 862.0,297.2 846.0,298.4 844.9,311.1 846.0,312.5 863.2,309.5" fill="#8fc65e"/>
<polygon points="881.2,307.6 885.6,298.8 880.3,291.2 864.1,292.2 862.0,297.2 865.2,305.6" fill="#8fc65e"/>
<polygon points="893.3,319.1 896.0,316.8 895.3,297.0 885.6,298.8 881.2,307.6 881.9,309.7" fill="#8fc65e"/>
<polygon points="909.8,310.2 906.6,298.0 898.1,295.8 895.3,297.0 896.0,316.8" fill="#8fc65e"/>
<polygon points="931.0,304.7 930.3,299.5 914.4,291.3 906.6,298.0 909.8,310.2 909.8,310.2 924.3,310.9" fill="#56aa4e"/>
<polygon points="951.1,290.7 931.3,298.1 930.3,299.5 931.0,304.7 941.5,310.7 955.5,294.5" fill="#8fc65e"/>
<polygon points="955.5,294.5 941.5,310.7 944.4,317.7 955.3,315.7 961.5,304.2 959.2,297.3 956.4,294.6" fill="#56aa4e"/>
<polygon points="982.6,297.6 978.5,295.2 959.2,297.3 961.5,304.2 976.3,314.9 979.3,312.1" fill="#56aa4e"/>
<polygon points="995.3,314.7 1000.1,306.9 990.0,294.4 982.6,297.6 979.3,312.1" fill="#56aa4e"/>
<polygon points="1003.6,306.5 1003.9,299.1 1001.6,293.6 999.6,289.7 990.2,294.2 990.0,294.4 1000.1,306.9" fill="#56aa4e"/>
<polygon points="612.7,325.4 612.9,323.0 606.0,318.0 606.0,318.0 606.0,318.0 606.0,318.0 606.0,318.0 606.0,318.0 606.0,318.0 606.0,318.0 606.0,318.0 606.0,318.0 606.0,318.0 606.0,318.0 606.0,318.0 606.0,318.0 606.0,318.0 606.0,318.0 606.0,318.0 606.0,318.0 606.0,318.0 612.7,312.2 602.9,316.7 611.8,322.6" fill="#3a9648"/>
<polygon points="780.0,326.3 781.1,322.7 778.0,322.7 778.0,326.0" fill="#3a9648"/>
<polygon points="780.0,326.3 782.2,329.2 796.3,328.7 798.8,325.1 798.7,322.7 781.1,322.7" fill="#3a9648"/>
<polygon points="809.8,307.6 799.5,307.6 799.5,322.6 799.5,322.6 799.5,322.6 799.5,322.6 799.5,322.6 799.5,322.6 799.5,322.6 799.5,322.6 799.5,322.6 799.5,322.6 799.5,322.6 799.5,322.6 799.5,322.6 799.5,322.6 799.5,322.6 799.5,322.6 799.5,322.7 798.7,322.7 798.8,325.1 815.4,329.0 817.4,327.0 810.1,307.8" fill="#56aa4e"/>
<polygon points="817.4,327.0 827.9,324.9 829.4,311.8 827.2,308.9 810.1,307.8" fill="#56aa4e"/>
<polygon points="844.9,311.1 829.4,311.8 827.9,324.9 833.4,329.4 847.9,326.5 847.9,326.4 846.0,312.5" fill="#8fc65e"/>
<polygon points="846.0,312.5 847.9,326.4 864.5,324.5 863.2,309.5" fill="#8fc65e"/>
<polygon points="864.5,324.5 865.3,325.0 873.5,323.9 881.9,309.7 881.2,307.6 865.2,305.6 863.2,309.5" fill="#8fc65e"/>
<polygon points="873.5,323.9 880.1,328.4 893.4,325.5 893.3,319.1 881.9,309.7" fill="#8fc65e"/>
<polygon points="906.9,330.4 912.0,325.5 909.8,310.2 909.8,310.2 896.0,316.8 893.3,319.1 893.4,325.5 898.3,332.5" fill="#8fc65e"/>
<polygon points="924.3,310.9 909.8,310.2 912.0,325.5 925.4,327.0 926.2,326.1" fill="#56aa4e"/>
<polygon points="942.7,324.0 944.4,317.7 941.5,310.7 931.0,304.7 924.3,310.9 926.2,326.1 942.7,324.1" fill="#8fc65e"/>
<polygon points="966.7,324.8 955.3,315.7 944.4,317.7 942.7,324.0 958.3,330.8" fill="#8fc65e"/>
<polygon points="961.5,304.2 955.3,315.7 966.7,324.8 973.9,324.3 976.3,314.9" fill="#8fc65e"/>
<polygon points="976.3,314.9 973.9,324.3 976.3,328.0 996.9,328.3 999.1,325.9 995.3,314.7 979.3,312.1" fill="#8fc65e"/>
<polygon points="999.1,325.9 1000.7,325.8 1001.6,320.4 1003.5,309.4 1003.6,306.5 1000.1,306.9 995.3,314.7" fill="#8fc65e"/>
<polygon points="780.0,326.3 778.0,326.0 778.0,338.3 780.5,338.3 782.2,329.2" fill="#3a9648"/>
<polygon points="796.3,328.7 782.2,329.2 780.5,338.3 781.5,338.3 781.5,338.4 781.5,338.4 781.5,338.4 781.5,338.4 781.5,338.4 781.5,338.4 781.5,338.4 781.5,338.4 781.5,338.4 781.5,338.4 781.5,338.4 781.5,338.4 781.5,338.4 781.5,338.4 781.5,338.4 781.5,338.4 781.5,346.2 799.0,342.7 799.1,342.6" fill="#3a9648"/>
<polygon points="796.3,328.7 799.1,342.6 813.7,342.1 815.4,329.0 798.8,325.1" fill="#3a9648"/>
<polygon points="815.4,329.0 813.7,342.1 815.5,344.1 831.5,344.0 833.4,329.4 827.9,324.9 817.4,327.0" fill="#56aa4e"/>
<polygon points="831.8,344.3 850.1,344.4 851.0,343.4 847.9,326.5 833.4,329.4 831.5,344.0" fill="#8fc65e"/>
<polygon points="847.9,326.4 847.9,326.5 851.0,343.4 867.1,344.0 867.1,344.0 865.3,325.0 864.5,324.5" fill="#bcd873"/>
<polygon points="865.3,325.0 867.1,344.0 879.0,343.7 880.1,328.4 873.5,323.9" fill="#8fc65e"/>
<polygon points="898.3,332.5 893.4,325.5 880.1,328.4 879.0,343.7 883.9,346.2 895.6,343.0" fill="#8fc65e"/>
<polygon points="915.3,346.5 919.0,343.6 906.9,330.4 898.3,332.5 895.6,343.0 899.1,346.9" fill="#8fc65e"/>
<polygon points="912.0,325.5 906.9,330.4 919.0,343.6 925.4,342.5 925.4,327.0" fill="#56aa4e"/>
<polygon points="942.7,324.1 926.2,326.1 925.4,327.0 925.4,342.5 928.6,344.7 942.4,340.1" fill="#8fc65e"/>
<polygon points="942.9,340.5 956.7,340.1 958.3,330.8 942.7,324.0 942.7,324.1 942.4,340.1" fill="#8fc65e"/>
<polygon points="963.4,348.4 971.1,345.9 976.4,337.0 976.3,328.0 973.9,324.3 966.7,324.8 958.3,330.8 956.7,340.1" fill="#8fc65e"/>
<polygon points="976.4,337.0 991.1,344.0 996.7,340.8 996.9,328.3 976.3,328.0" fill="#8fc65e"/>
<polygon points="996.7,340.8 999.2,342.2 1000.8,336.1 1000.0,329.8 1000.7,325.8 999.1,325.9 996.9,328.3" fill="#8fc65e"/>
<polygon points="799.0,342.7 781.5,346.2 781.5,359.3 799.9,359.7" fill="#3a9648"/>
<polygon points="812.7,360.7 814.7,358.5 815.5,344.1 813.7,342.1 799.1,342.6 799.0,342.7 799.9,359.7 801.2,360.9" fill="#3a9648"/>
<polygon points="833.2,359.1 831.8,344.3 831.5,344.0 815.5,344.1 814.7,358.5 831.7,360.1" fill="#56aa4e"/>
<polygon points="845.6,362.4 848.5,359.6 850.1,344.4 831.8,344.3 833.2,359.1" fill="#56aa4e"/>
<polygon points="851.0,343.4 850.1,344.4 848.5,359.6 864.9,359.8 865.5,359.2 867.1,344.0" fill="#8fc65e"/>
<polygon points="879.0,343.7 867.1,344.0 867.1,344.0 865.5,359.2 881.3,363.1 882.3,362.6 883.9,346.2" fill="#56aa4e"/>
<polygon points="895.6,343.0 883.9,346.2 882.3,362.6 894.4,367.2 900.6,356.4 899.1,346.9" fill="#56aa4e"/>
<polygon points="900.6,356.4 911.6,360.2 914.2,359.4 915.3,346.5 899.1,346.9" fill="#56aa4e"/>
<polygon points="924.8,364.7 931.3,359.4 928.6,344.7 925.4,342.5 919.0,343.6 915.3,346.5 914.2,359.4" fill="#bcd873"/>
<polygon points="928.6,344.7 931.3,359.4 943.7,362.7 948.7,358.6 942.9,340.5 942.4,340.1" fill="#dcdf85"/>
<polygon points="948.7,358.6 954.0,357.7 961.6,351.8 963.4,348.4 956.7,340.1 942.9,340.5" fill="#bcd873"/>
<polygon points="961.6,351.8 970.7,364.7 975.2,363.7 980.3,355.7 971.1,345.9 963.4,348.4" fill="#8fc65e"/>
<polygon points="980.3,355.7 988.2,356.0 991.1,344.0 976.4,337.0 971.1,345.9" fill="#8fc65e"/>
<polygon points="988.2,356.0 990.1,358.0 997.0,357.2 995.8,350.0 999.2,342.4 999.2,342.2 996.7,340.8 991.1,344.0" fill="#8fc65e"/>
<polygon points="766.5,365.7 757.9,365.7 757.9,374.0 757.9,374.0 757.9,374.0 757.9,374.0 757.9,374.0 757.9,374.0 757.0,375.6 764.8,376.2" fill="#3a9648"/>
<polygon points="781.5,361.5 781.5,365.6 781.5,365.6 781.5,365.6 781.5,365.6 781.5,365.6 781.5,365.6 781.5,365.6 781.5,365.6 781.5,365.6 781.5,365.6 781.5,365.6 781.5,365.6 781.5,365.6 781.5,365.6 781.5,365.6 781.5,365.6 781.5,365.7 766.5,365.7 764.8,376.2 765.9,377.3 779.7,377.8 783.3,373.3" fill="#3a9648"/>
<polygon points="796.6,375.9 798.0,375.0 801.2,360.9 799.9,359.7 781.5,359.3 781.5,361.5 783.3,373.3" fill="#3a9648"/>
<polygon points="812.7,360.7 801.2,360.9 798.0,375.0 814.0,378.0 816.4,375.5" fill="#3a9648"/>
<polygon points="827.0,375.5 831.7,360.1 814.7,358.5 812.7,360.7 816.4,375.5" fill="#56aa4e"/>
<polygon points="845.6,362.4 833.2,359.1 831.7,360.1 827.0,375.5 830.1,378.5 844.0,376.7 847.3,372.5" fill="#bcd873"/>
<polygon points="864.9,359.8 848.5,359.6 845.6,362.4 847.3,372.5 863.6,377.8" fill="#56aa4e"/>
<polygon points="874.8,378.2 881.3,363.1 865.5,359.2 864.9,359.8 863.6,377.8 863.7,377.9" fill="#56aa4e"/>
<polygon points="891.0,377.9 895.9,370.7 894.4,367.2 882.3,362.6 881.3,363.1 874.8,378.2 880.5,383.6" fill="#56aa4e"/>
<polygon points="894.4,367.2 895.9,370.7 905.9,375.3 911.6,360.2 900.6,356.4" fill="#56aa4e"/>
<polygon points="924.8,364.7 914.2,359.4 911.6,360.2 905.9,375.3 909.8,379.4 923.8,369.9" fill="#8fc65e"/>
<polygon points="930.3,378.5 945.2,375.3 943.7,362.7 931.3,359.4 924.8,364.7 923.8,369.9" fill="#bcd873"/>
<polygon points="948.7,358.6 943.7,362.7 945.2,375.3 947.7,378.4 954.5,381.4 956.9,379.6 961.2,368.8 954.0,357.7" fill="#bcd873"/>
<polygon points="961.2,368.8 961.6,367.8 960.4,358.3 964.0,359.5 967.5,365.4 970.7,364.7 961.6,351.8 954.0,357.7" fill="#8fc65e"/>
<polygon points="975.2,363.7 978.1,363.1 987.6,358.3 990.1,358.0 988.2,356.0 980.3,355.7" fill="#56aa4e"/>
<polygon points="764.8,376.2 757.0,375.6 754.1,380.6 755.5,381.7 758.4,388.3 764.6,388.8 765.9,377.3" fill="#3a9648"/>
<polygon points="779.7,377.8 765.9,377.3 764.6,388.8 768.2,396.5 781.1,387.0" fill="#3a9648"/>
<polygon points="796.6,375.9 783.3,373.3 779.7,377.8 781.1,387.0 788.3,392.0 796.7,387.4" fill="#3a9648"/>
<polygon points="814.0,378.0 798.0,375.0 796.6,375.9 796.7,387.4 811.8,396.0" fill="#3a9648"/>
<polygon points="814.6,399.7 825.2,401.2 830.2,389.8 830.1,378.5 827.0,375.5 816.4,375.5 814.0,378.0 811.8,396.0 812.7,398.1" fill="#56aa4e"/>
<polygon points="830.1,378.5 830.2,389.8 845.4,387.5 844.0,376.7" fill="#56aa4e"/>
<polygon points="863.7,377.9 863.6,377.8 847.3,372.5 844.0,376.7 845.4,387.5 850.1,394.0 861.1,386.8" fill="#56aa4e"/>
<polygon points="880.5,383.6 874.8,378.2 863.7,377.9 861.1,386.8 870.5,398.1 880.6,383.9" fill="#56aa4e"/>
<polygon points="890.8,393.5 897.7,390.1 891.0,377.9 880.5,383.6 880.6,383.9 887.7,393.1" fill="#56aa4e"/>
<polygon points="905.9,375.3 895.9,370.7 891.0,377.9 897.7,390.1 909.6,390.0 910.5,389.1 909.8,379.4" fill="#8fc65e"/>
<polygon points="909.8,379.4 910.5,389.1 922.0,391.6 928.3,388.7 930.3,378.5 923.8,369.9" fill="#8fc65e"/>
<polygon points="928.3,388.7 937.2,392.1 947.7,378.4 945.2,375.3 930.3,378.5" fill="#8fc65e"/>
<polygon points="947.7,378.4 937.2,392.1 938.1,393.8 947.4,387.9 952.1,383.2 954.5,381.4" fill="#8fc65e"/>
<polygon points="881.2,402.8 892.5,416.5 900.7,417.0 890.8,393.5 887.7,393.1" fill="#56aa4e"/>
<polygon points="900.7,417.0 901.4,417.2 904.5,415.2 909.6,390.0 897.7,390.1 890.8,393.5" fill="#56aa4e"/>
<polygon points="910.5,389.1 909.6,390.0 904.5,415.2 904.9,415.0 909.6,410.3 908.4,403.2 914.3,400.9 923.8,402.0 924.7,401.6 922.0,391.6" fill="#56aa4e"/>
<polygon points="924.7,401.6 930.9,398.5 938.0,393.8 938.1,393.8 937.2,392.1 928.3,388.7 922.0,391.6" fill="#8fc65e"/>
<polygon points="876.6,423.5 883.9,438.6 888.3,431.6 891.9,424.5 895.4,421.0 901.4,417.2 900.7,417.0 892.5,416.5" fill="#56aa4e"/>
<polygon points="764.6,388.8 758.4,388.3 759.4,390.5 763.0,401.3 763.3,401.8 767.6,400.6 768.2,396.5" fill="#56aa4e"/>
<polygon points="781.1,387.0 768.2,396.5 767.6,400.6 770.2,403.2 788.1,403.7 788.3,392.0" fill="#56aa4e"/>
<polygon points="811.8,396.0 796.7,387.4 788.3,392.0 788.1,403.7 790.3,406.3 812.7,398.1" fill="#56aa4e"/>
<polygon points="850.1,394.0 845.4,387.5 830.2,389.8 825.2,401.2 826.0,401.9 847.5,404.9 848.0,404.5" fill="#56aa4e"/>
<polygon points="870.9,401.9 870.5,398.1 861.1,386.8 850.1,394.0 848.0,404.5 868.0,405.5" fill="#56aa4e"/>
<polygon points="880.6,383.9 870.5,398.1 870.9,401.9 881.2,402.8 887.7,393.1" fill="#56aa4e"/>
<polygon points="767.6,400.6 763.3,401.8 769.9,413.5 771.6,415.8 770.2,403.2" fill="#3a9648"/>
<polygon points="790.3,406.3 788.1,403.7 770.2,403.2 771.6,415.8 776.7,423.0 777.3,424.0 789.7,422.5 791.0,421.3" fill="#3a9648"/>
<polygon points="814.6,399.7 812.7,398.1 790.3,406.3 791.0,421.3 806.5,422.1" fill="#56aa4e"/>
<polygon points="826.0,401.9 825.2,401.2 814.6,399.7 806.5,422.1 810.9,426.5 825.6,423.6 825.6,405.3 825.6,405.3 825.6,405.3 825.6,405.3 825.6,405.3 825.6,405.3 825.6,405.3 825.6,405.3 825.6,405.3 825.6,405.3 825.6,405.3 825.6,405.3 825.6,405.3 825.6,405.3 825.6,405.3 825.6,405.3 825.6,405.2 826.2,405.2" fill="#3a9648"/>
<polygon points="847.5,404.9 826.0,401.9 826.2,405.2 842.0,405.2 842.0,405.3 842.0,405.3 842.0,405.3 842.0,405.3 842.0,405.3 842.0,405.3 842.0,405.3 842.0,405.3 842.0,405.3 842.0,405.3 842.0,405.3 842.0,405.3 842.0,405.3 842.0,405.3 842.0,405.3 842.0,405.3 842.0,424.8 848.4,423.4" fill="#56aa4e"/>
<polygon points="848.0,404.5 847.5,404.9 848.4,423.4 848.7,423.6 870.8,421.5 868.0,405.5" fill="#56aa4e"/>
<polygon points="870.8,421.5 873.0,423.2 876.6,423.5 892.5,416.5 881.2,402.8 870.9,401.9 868.0,405.5" fill="#56aa4e"/>
<polygon points="789.7,422.5 777.3,424.0 784.8,435.2 791.9,442.3 792.4,441.8" fill="#3a9648"/>
<polygon points="810.9,426.5 806.5,422.1 791.0,421.3 789.7,422.5 792.4,441.8 811.0,442.7" fill="#3a9648"/>
<polygon points="810.9,426.5 811.0,442.7 811.1,442.9 829.1,443.1 830.0,442.1 832.2,428.4 825.6,428.4 825.6,428.4 825.6,428.4 825.6,428.4 825.6,428.4 825.6,428.4 825.6,428.4 825.6,428.4 825.6,428.4 825.6,428.4 825.6,428.4 825.6,428.4 825.6,428.4 825.6,428.4 825.6,428.4 825.6,428.4 825.6,428.4 825.6,423.6" fill="#3a9648"/>
<polygon points="842.0,424.8 842.0,428.4 842.0,428.4 842.0,428.4 842.0,428.4 842.0,428.4 842.0,428.4 842.0,428.4 842.0,428.4 842.0,428.4 842.0,428.4 842.0,428.4 842.0,428.4 842.0,428.4 842.0,428.4 842.0,428.4 842.0,428.4 842.0,428.4 832.2,428.4 830.0,442.1 850.9,444.3 853.3,441.7 848.7,423.6 848.4,423.4" fill="#56aa4e"/>
<polygon points="848.7,423.6 853.3,441.7 865.5,443.0 873.0,423.2 870.8,421.5" fill="#56aa4e"/>
<polygon points="873.0,423.2 865.5,443.0 871.4,448.8 881.2,444.5 882.4,441.0 883.9,438.6 876.6,423.5" fill="#8fc65e"/>
<polygon points="792.4,441.8 791.9,442.3 794.3,444.7 798.4,451.5 801.1,461.0 801.3,461.5 809.2,462.0 809.6,461.8 811.1,442.9 811.0,442.7" fill="#56aa4e"/>
<polygon points="811.1,442.9 809.6,461.8 826.1,465.8 831.8,461.4 829.1,443.1" fill="#56aa4e"/>
<polygon points="829.1,443.1 831.8,461.4 847.4,462.5 850.9,444.3 830.0,442.1" fill="#3a9648"/>
<polygon points="847.4,462.5 847.8,463.0 855.5,462.8 855.5,462.4 855.5,462.4 855.5,462.4 855.5,462.4 855.5,462.4 855.5,462.4 855.5,462.4 855.5,462.4 855.5,462.4 855.5,462.4 855.5,462.4 855.5,462.4 855.5,462.4 855.5,462.4 855.5,462.4 855.5,462.4 855.5,462.3 871.4,462.3 871.4,448.8 865.5,443.0 853.3,441.7 850.9,444.3" fill="#56aa4e"/>
<polygon points="871.4,448.8 871.4,462.3 873.9,462.3 874.5,459.7 877.2,452.0 880.0,448.0 881.2,444.5" fill="#56aa4e"/>
<polygon points="801.3,461.5 805.2,471.9 806.7,474.9 809.2,462.0" fill="#3a9648"/>
<polygon points="826.1,465.8 809.6,461.8 809.2,462.0 806.7,474.9 810.7,482.8 812.8,486.5 827.2,483.1" fill="#3a9648"/>
<polygon points="849.4,480.9 847.8,463.0 847.4,462.5 831.8,461.4 826.1,465.8 827.2,483.1 830.2,485.5 845.9,484.2" fill="#56aa4e"/>
<polygon points="847.8,463.0 849.4,480.9 855.5,482.1 855.5,462.8" fill="#56aa4e"/>
<polygon points="830.2,485.5 827.2,483.1 812.8,486.5 816.1,492.3 824.2,497.2 829.7,499.5" fill="#3a9648"/>
<polygon points="845.9,484.2 830.2,485.5 829.7,499.5 835.1,501.8 839.5,504.0 848.4,505.4 849.1,504.5" fill="#56aa4e"/>
<polygon points="868.4,499.8 866.2,485.6 855.5,485.6 855.5,485.5 855.5,485.5 855.5,485.5 855.5,485.5 855.5,485.5 855.5,485.5 855.5,485.5 855.5,485.5 855.5,485.5 855.5,485.5 855.5,485.5 855.5,485.5 855.5,485.5 855.5,485.5 855.5,485.5 855.5,485.5 855.5,482.1 849.4,480.9 845.9,484.2 849.1,504.5" fill="#8fc65e"/>
<polygon points="868.4,499.8 873.5,504.2 878.9,503.5 875.9,497.7 873.1,486.8 873.0,485.6 866.2,485.6" fill="#8fc65e"/>
<polygon points="839.5,504.0 843.3,505.9 845.0,508.0 840.0,520.0 848.6,520.0 848.4,505.4" fill="#56aa4e"/>
<polygon points="848.4,505.4 848.6,520.0 869.6,520.0 873.5,504.2 868.4,499.8 849.1,504.5" fill="#56aa4e"/>
<polygon points="873.5,504.2 869.6,520.0 884.0,520.0 881.3,508.0 878.9,503.5" fill="#56aa4e"/>
</g>
<g><polygon points="712.2,107.6 728.9,107.6 728.9,94.3 722.5,95.5 712.2,101.5" fill="#56aa4e"/>
<polygon points="738.3,107.6 746.6,107.6 746.6,90.3 743.8,90.2 739.2,100.1" fill="#56aa4e"/>
<polygon points="712.2,125.3 712.2,107.6 694.7,107.6 699.2,116.7 707.7,125.3" fill="#56aa4e"/>
<polygon points="721.3,142.6 728.9,142.6 728.9,125.3 725.8,125.3 723.8,134.2" fill="#56aa4e"/>
<polygon points="764.3,125.3 764.3,135.5 774.0,137.6 783.1,137.4 783.1,125.3" fill="#56aa4e"/>
<polygon points="712.2,142.6 712.2,160.3 718.7,160.3 719.4,149.8 719.4,142.6" fill="#56aa4e"/>
<polygon points="728.9,142.6 728.9,160.3 729.2,160.3 737.4,155.1 744.9,142.6" fill="#56aa4e"/>
<polygon points="746.6,142.6 746.6,160.3 759.4,160.3 760.8,150.5 764.3,142.6" fill="#56aa4e"/>
<polygon points="698.4,168.8 698.4,160.3 681.0,160.3 681.0,160.7 691.2,165.7" fill="#56aa4e"/>
<polygon points="698.4,173.1 698.4,177.8 716.1,177.8 716.1,166.5 705.6,170.5" fill="#56aa4e"/>
<polygon points="755.8,177.8 767.9,177.8 767.9,160.3 764.3,160.3 760.7,168.8" fill="#56aa4e"/>
<polygon points="695.8,196.0 695.8,187.4 688.1,186.3 680.3,182.8 679.9,196.0" fill="#56aa4e"/>
<polygon points="712.8,177.8 712.8,178.1 723.2,182.1 729.9,185.8 729.9,177.8" fill="#56aa4e"/>
<polygon points="747.6,178.0 747.6,196.0 764.3,196.0 764.3,184.7 760.3,184.4" fill="#56aa4e"/>
<polygon points="799.8,177.8 799.8,179.6 808.0,187.3 817.5,193.7 817.5,183.4 816.7,183.1 810.8,181.9 808.7,177.8" fill="#8fc65e"/>
<polygon points="817.5,196.0 817.5,200.2 825.3,202.5 835.0,208.8 835.0,196.0" fill="#8fc65e"/>
<polygon points="825.8,214.3 835.0,214.3 835.0,196.0 830.5,196.0 825.6,208.1" fill="#8fc65e"/>
<polygon points="769.9,232.0 781.0,232.0 781.0,214.3 780.4,214.3 772.2,227.5" fill="#56aa4e"/>
<polygon points="781.0,214.3 781.0,226.6 784.4,224.5 799.8,216.4 799.8,214.3" fill="#56aa4e"/>
<polygon points="823.5,232.0 835.0,232.0 835.0,214.3 834.5,214.3 828.6,226.2" fill="#8fc65e"/>
<polygon points="817.5,220.5 817.5,232.0 832.7,232.0 826.5,225.9" fill="#8fc65e"/>
<polygon points="681.9,232.0 678.8,232.0 678.2,248.7 683.5,248.7 684.5,242.7" fill="#56aa4e"/>
<polygon points="707.2,232.0 707.2,248.7 717.4,248.7 715.4,240.6 714.7,232.0" fill="#56aa4e"/>
<polygon points="742.7,232.0 742.7,248.7 750.3,248.7 747.0,236.9 743.6,232.0" fill="#56aa4e"/>
<polygon points="795.8,232.0 795.8,248.7 800.2,248.7 805.7,238.1 806.3,232.0" fill="#8fc65e"/>
<polygon points="816.9,248.7 831.0,248.7 831.0,232.0 820.3,232.0 819.5,239.4" fill="#3a9648"/>
<polygon points="707.2,249.2 707.2,266.9 723.3,266.9 715.4,257.8" fill="#56aa4e"/>
<polygon points="778.1,248.7 778.1,266.9 780.4,266.9 788.7,258.1 795.0,248.7" fill="#8fc65e"/>
<polygon points="813.5,248.7 813.5,266.9 815.1,266.9 823.1,253.7 831.0,248.8 831.0,248.7" fill="#8fc65e"/>
<polygon points="687.7,279.2 687.7,284.0 704.3,284.0 704.3,279.8 694.0,280.1" fill="#56aa4e"/>
<polygon points="720.8,266.9 720.8,284.0 739.7,284.0 739.7,275.0 729.6,270.6 724.3,266.9" fill="#56aa4e"/>
<polygon points="739.7,266.9 739.7,271.7 749.0,276.0 753.9,277.6 753.9,266.9" fill="#56aa4e"/>
<polygon points="753.9,266.9 753.9,269.5 765.8,270.9 774.0,272.4 774.0,266.9" fill="#56aa4e"/>
<polygon points="774.0,271.7 774.0,284.0 789.2,284.0 782.8,279.3" fill="#56aa4e"/>
<polygon points="792.0,266.9 792.0,269.7 798.7,279.5 800.8,284.0 810.0,284.0 810.0,266.9" fill="#56aa4e"/>
<polygon points="739.0,284.0 739.0,292.4 749.7,293.2 758.6,298.1 758.6,284.0" fill="#56aa4e"/>
<polygon points="799.5,303.0 799.5,307.5 820.0,307.5 820.0,289.0 812.3,294.1" fill="#8fc65e"/>
<polygon points="571.9,265.4 556.1,264.8 559.7,271.7 569.2,286.0 571.5,276.1" fill="#56aa4e"/>
<polygon points="747.6,312.9 747.6,307.5 672.0,307.5 659.0,315.7 672.5,328.0 690.7,321.5" fill="#56aa4e"/>
<polygon points="851.8,229.8 870.1,229.8 870.1,224.7 861.3,226.8 851.8,223.2" fill="#56aa4e"/>
<polygon points="851.8,229.8 870.1,229.8 870.1,224.2 863.4,226.7 851.8,228.7" fill="#bcd873"/>
<polygon points="921.5,216.4 921.5,212.7 906.7,212.7 906.7,217.6 913.5,217.6" fill="#dcdf85"/>
<polygon points="849.0,247.6 860.0,247.6 859.0,236.9 859.4,229.8 849.0,229.8" fill="#8fc65e"/>
<polygon points="865.4,247.6 882.5,247.6 882.5,232.2 873.4,237.5 865.4,240.5" fill="#bcd873"/>
<polygon points="900.2,247.6 901.3,247.6 910.4,243.7 915.0,240.1 915.0,229.8 900.2,229.8" fill="#8fc65e"/>
<polygon points="900.2,247.6 908.6,247.6 907.7,238.7 902.8,229.8 900.2,229.8" fill="#dcdf85"/>
<polygon points="856.0,262.0 869.0,262.0 869.0,254.1 857.5,254.9 856.0,255.4" fill="#dcdf85"/>
<polygon points="869.0,257.3 869.0,247.6 856.0,247.6 856.0,249.8 863.6,252.6" fill="#dcdf85"/>
<polygon points="886.0,256.6 886.0,247.6 869.0,247.6 869.0,250.9 878.9,255.0" fill="#8fc65e"/>
<polygon points="886.0,264.0 905.0,264.0 905.0,252.1 897.7,252.8 886.0,249.9" fill="#8fc65e"/>
<polygon points="886.0,264.0 905.0,264.0 905.0,254.9 895.9,257.2 886.0,257.2" fill="#dcdf85"/>
<polygon points="834.6,195.9 835.0,195.9 835.0,196.0 835.0,196.0 835.0,196.0 835.0,196.0 835.0,196.0 835.0,196.0 835.0,196.0 835.0,196.0 835.0,196.0 835.0,196.0 835.0,196.0 835.0,196.0 835.0,196.0 835.0,196.0 835.0,196.0 835.0,196.0 835.0,196.0 848.5,198.9 849.3,198.0 845.7,186.8 841.1,189.9 832.6,194.4 832.7,195.5" fill="#8fc65e"/>
<polygon points="844.2,185.4 838.0,185.0 834.4,186.6 832.4,186.1 832.6,193.8 836.8,191.6" fill="#3a9648"/>
<polygon points="873.3,193.7 867.5,194.9 861.6,191.3 857.2,193.5 855.8,196.2 863.7,201.1 867.6,197.7" fill="#56aa4e"/>
<polygon points="894.6,195.1 893.9,193.6 890.7,194.8 883.6,191.7 878.0,197.9 881.2,199.0 892.9,195.2" fill="#8fc65e"/>
<polygon points="891.9,202.8 896.2,198.3 893.9,193.6 892.2,194.2 886.3,199.7 885.9,200.7" fill="#8fc65e"/>
<polygon points="914.5,203.2 924.9,200.9 927.2,191.5 920.7,192.7 918.6,198.4" fill="#56aa4e"/>
<polygon points="926.7,193.6 924.9,200.9 929.5,203.9 928.3,196.5" fill="#8fc65e"/>
<polygon points="938.7,189.8 931.3,190.7 933.7,196.3 933.2,203.5 941.6,196.2" fill="#8fc65e"/>
<polygon points="847.5,205.1 848.5,198.9 835.0,196.0 835.0,197.3 839.1,200.8" fill="#8fc65e"/>
<polygon points="846.3,210.9 846.7,210.6 848.5,198.9 840.1,197.1 840.0,200.4 842.4,211.3" fill="#8fc65e"/>
<polygon points="854.3,196.6 849.3,198.0 848.5,198.9 846.7,210.6 850.3,212.2 851.3,208.7" fill="#3a9648"/>
<polygon points="865.6,202.3 855.8,196.2 849.3,198.0 848.5,198.9 847.5,205.5 855.6,207.0 864.2,208.5" fill="#8fc65e"/>
<polygon points="869.9,201.1 865.6,202.3 863.3,212.6 870.1,212.6 868.6,206.7" fill="#56aa4e"/>
<polygon points="881.2,199.0 878.0,197.9 877.7,198.3 877.6,198.2 876.7,199.3 878.4,212.1 878.9,212.6 883.7,212.6 881.3,206.2" fill="#56aa4e"/>
<polygon points="891.9,202.8 878.0,197.9 877.7,198.3 877.6,198.2 876.7,199.3 878.2,210.8 882.4,207.2 891.9,202.9" fill="#bcd873"/>
<polygon points="905.8,196.7 905.6,196.8 902.5,198.3 901.4,197.5 896.2,198.3 891.9,202.8 893.8,212.6 894.8,212.6 899.6,206.0" fill="#8fc65e"/>
<polygon points="912.8,203.6 908.3,196.3 905.6,196.8 902.5,198.3 901.4,197.5 898.4,198.0 906.1,203.7 911.6,208.5" fill="#3a9648"/>
<polygon points="924.3,201.1 912.8,203.6 910.5,212.6 921.5,212.6 921.5,212.7 921.5,212.7 921.5,212.7 921.5,212.7 921.5,212.7 921.5,212.7 921.5,212.7 921.5,212.7 921.5,212.7 921.5,212.7 921.5,212.7 921.5,212.7 921.5,212.7 921.5,212.7 921.5,212.7 921.5,212.7 921.5,217.1 923.2,212.5" fill="#8fc65e"/>
<polygon points="924.9,200.9 912.8,203.6 910.5,212.6 917.4,212.6 921.2,208.0 926.9,202.2" fill="#8fc65e"/>
<polygon points="947.4,208.9 946.7,198.2 941.6,196.2 934.5,202.4 944.4,207.3" fill="#56aa4e"/>
<polygon points="931.4,205.2 934.9,214.0 944.2,216.7 941.0,211.0 938.9,198.5" fill="#bcd873"/>
<polygon points="950.3,196.4 946.7,198.2 947.4,208.7 949.7,199.6" fill="#bcd873"/>
<polygon points="976.1,208.8 976.3,207.9 965.2,209.7 961.6,211.6 968.3,215.4 971.3,213.7" fill="#8fc65e"/>
<polygon points="976.1,208.8 976.5,206.5 969.1,201.2 966.3,200.7 959.8,198.3 958.7,203.1 967.7,208.9 972.5,212.5" fill="#8fc65e"/>
<polygon points="843.8,229.5 845.7,215.4 838.5,218.2 835.0,218.2 835.0,229.7" fill="#8fc65e"/>
<polygon points="843.8,229.5 846.3,210.9 840.9,211.4 842.5,216.9 843.2,229.6" fill="#8fc65e"/>
<polygon points="843.8,229.5 849.0,233.2 849.0,229.8 849.0,229.8 849.0,229.8 849.0,229.8 849.0,229.8 849.0,229.8 849.0,229.8 849.0,229.8 849.0,229.8 849.0,229.8 849.0,229.8 849.0,229.8 849.0,229.8 849.0,229.8 849.0,229.8 849.0,229.8 849.0,229.8 851.8,229.8 851.8,225.1 847.0,222.0 844.9,221.3" fill="#bcd873"/>
<polygon points="927.6,234.1 927.6,232.9 925.8,232.4 915.0,230.6 915.0,231.9 926.8,235.0" fill="#56aa4e"/>
<polygon points="927.7,231.6 928.1,219.0 921.5,217.9 921.5,229.2 922.8,230.0" fill="#bcd873"/>
<polygon points="937.0,214.6 934.9,214.0 928.1,219.0 927.7,232.4 934.4,220.5" fill="#bcd873"/>
<polygon points="945.1,218.8 944.3,216.8 934.9,214.0 928.1,219.0 928.1,219.5 936.8,218.6" fill="#bcd873"/>
<polygon points="959.5,227.4 963.1,225.9 968.3,215.4 957.9,209.5 956.4,214.7" fill="#3a9648"/>
<polygon points="944.3,216.8 948.5,227.3 958.8,227.7 960.1,227.1 959.0,222.4 958.1,209.6 957.4,209.2 947.7,212.3" fill="#3a9648"/>
<polygon points="968.3,215.4 963.1,225.9 965.0,227.2 969.7,222.5 974.3,218.7 971.3,213.7" fill="#56aa4e"/>
<polygon points="980.3,234.9 982.8,232.9 975.8,221.1 977.8,228.3" fill="#bcd873"/>
<polygon points="982.8,232.9 983.2,232.7 982.8,217.0 982.4,214.1 981.2,213.0 981.0,213.9 978.2,225.2" fill="#3a9648"/>
<polygon points="982.8,218.2 982.8,217.0 982.4,214.1 976.1,208.8 973.7,211.3 981.3,216.9" fill="#8fc65e"/>
<polygon points="849.0,236.1 849.0,233.2 843.8,229.5 835.0,229.7 835.0,232.0 835.0,232.0 835.0,232.0 835.0,232.0 835.0,232.0 835.0,232.0 835.0,232.0 835.0,232.0 835.0,232.0 835.0,232.0 835.0,232.0 835.0,232.0 835.0,232.0 835.0,232.0 835.0,232.0 835.0,232.0 835.0,232.1 831.0,232.1 831.0,235.9 841.0,237.9" fill="#8fc65e"/>
<polygon points="848.1,245.6 849.0,244.8 849.0,233.2 845.2,230.5 843.3,237.1 838.7,246.3" fill="#3a9648"/>
<polygon points="926.9,235.5 926.8,235.0 915.0,231.9 915.0,245.9 917.4,244.6" fill="#bcd873"/>
<polygon points="941.8,230.5 927.6,234.1 926.8,235.0 927.9,243.8 942.7,247.2 943.8,245.8 942.2,239.1" fill="#56aa4e"/>
<polygon points="947.1,241.5 947.4,229.1 931.7,233.0 934.9,237.1 942.8,247.1" fill="#bcd873"/>
<polygon points="961.6,246.9 963.4,246.0 961.9,240.2 954.8,238.6 947.3,235.3 947.1,241.5" fill="#bcd873"/>
<polygon points="961.6,246.9 963.4,246.0 958.8,227.7 951.2,227.4 953.6,236.2 952.2,243.4" fill="#bcd873"/>
<polygon points="976.0,244.9 978.5,236.4 963.1,225.9 958.8,227.7 959.4,230.0 966.6,237.4" fill="#bcd873"/>
<polygon points="975.7,246.1 978.5,236.4 973.6,233.1 970.8,234.8 961.6,239.0 963.4,246.0 974.9,246.9" fill="#bcd873"/>
<polygon points="845.8,262.1 846.8,254.6 838.5,259.7 836.9,261.7" fill="#3a9648"/>
<polygon points="831.0,250.3 831.0,261.4 841.1,261.9 838.6,258.9" fill="#8fc65e"/>
<polygon points="846.6,256.3 845.8,262.1 846.2,262.5 853.2,261.6 849.7,259.3" fill="#8fc65e"/>
<polygon points="847.6,249.2 845.8,262.1 846.2,262.5 854.5,261.4 848.4,250.7" fill="#3a9648"/>
<polygon points="944.8,259.0 944.7,258.5 937.9,258.3 927.3,254.9 927.5,263.9 940.4,263.2" fill="#bcd873"/>
<polygon points="927.2,250.4 927.5,263.9 939.1,263.2 930.5,253.5" fill="#56aa4e"/>
<polygon points="954.7,260.3 960.3,249.4 954.3,249.6 943.6,252.1 944.8,259.0" fill="#bcd873"/>
<polygon points="954.7,260.3 961.6,246.9 958.6,245.8 950.0,249.0 943.9,253.9 944.8,259.0" fill="#bcd873"/>
<polygon points="959.1,264.9 970.8,261.4 968.4,251.3 968.4,246.4 963.4,246.0 961.6,246.9 954.7,260.3" fill="#56aa4e"/>
<polygon points="959.1,264.9 967.6,262.4 964.6,259.0 959.4,251.2 954.7,260.3" fill="#bcd873"/>
<polygon points="975.7,246.1 974.9,246.9 975.7,258.8 976.3,258.8 977.4,256.2 983.6,247.9" fill="#56aa4e"/>
<polygon points="982.0,259.1 985.5,259.3 984.0,250.3 983.9,248.0 978.0,246.6 980.8,251.2" fill="#56aa4e"/>
<polygon points="845.8,262.1 839.9,261.8 835.6,271.7 833.4,279.1 848.2,278.6 848.8,278.2 846.2,262.5" fill="#3a9648"/>
<polygon points="828.0,269.4 828.0,276.4 830.3,279.2 848.2,278.6 848.8,278.2 848.6,277.1 842.9,276.0" fill="#8fc65e"/>
<polygon points="862.0,278.5 861.9,272.9 853.9,271.2 846.7,265.5 848.8,278.2 860.9,279.6" fill="#56aa4e"/>
<polygon points="870.6,262.6 869.0,262.6 869.0,262.5 869.0,262.5 869.0,262.5 869.0,262.5 869.0,262.5 869.0,262.5 869.0,262.5 869.0,262.5 869.0,262.5 869.0,262.5 869.0,262.5 869.0,262.5 869.0,262.5 869.0,262.5 869.0,262.5 869.0,262.5 869.0,262.1 866.5,262.1 861.6,262.4 862.0,278.5 865.1,277.7 868.4,271.5" fill="#8fc65e"/>
<polygon points="866.9,262.1 866.5,262.1 861.6,262.4 862.0,278.5 878.9,273.8 879.5,272.5 871.3,265.4" fill="#8fc65e"/>
<polygon points="899.6,269.8 896.0,264.1 886.0,264.1 886.0,264.0 886.0,264.0 886.0,264.0 886.0,264.0 886.0,264.0 886.0,264.0 886.0,264.0 886.0,264.0 886.0,264.0 886.0,264.0 886.0,264.0 886.0,264.0 886.0,264.0 886.0,264.0 886.0,264.0 886.0,264.0 886.0,262.6 883.2,262.6 880.3,270.3 885.1,270.7" fill="#3a9648"/>
<polygon points="881.9,280.2 894.5,282.6 895.5,275.6 897.6,266.6 896.0,264.1 886.0,264.1 886.0,264.0 886.0,264.0 886.0,264.0 886.0,264.0 886.0,264.0 886.0,264.0 886.0,264.0 886.0,264.0 886.0,264.0 886.0,264.0 886.0,264.0 886.0,264.0 886.0,264.0 886.0,264.0 886.0,264.0 886.0,264.0 886.0,262.6 883.2,262.6 878.9,273.8" fill="#8fc65e"/>
<polygon points="905.0,257.6 905.0,264.0 905.0,264.0 905.0,264.0 905.0,264.0 905.0,264.0 905.0,264.0 905.0,264.0 905.0,264.0 905.0,264.0 905.0,264.0 905.0,264.0 905.0,264.0 905.0,264.0 905.0,264.0 905.0,264.0 905.0,264.0 905.0,264.1 902.1,264.1 902.1,266.0 900.6,271.4 902.3,274.2 903.6,274.5 921.6,266.0 909.8,254.9" fill="#8fc65e"/>
<polygon points="904.3,274.2 921.6,266.0 913.8,258.6 911.2,262.8" fill="#8fc65e"/>
<polygon points="905.6,276.8 915.0,287.4 925.1,277.5 924.8,274.9 913.5,276.8" fill="#8fc65e"/>
<polygon points="921.6,266.0 903.6,274.5 905.5,276.7 914.3,273.0 924.0,267.7 923.8,266.6" fill="#3a9648"/>
<polygon points="940.4,263.2 929.1,263.8 931.2,268.7 931.4,281.5 933.2,282.6 945.0,280.4" fill="#3a9648"/>
<polygon points="929.8,280.5 933.2,282.6 945.0,280.4 941.8,268.5 934.9,276.6" fill="#3a9648"/>
<polygon points="959.3,271.0 959.1,264.9 957.4,263.1 952.9,270.5 943.7,275.9 945.0,280.4 946.6,281.3" fill="#56aa4e"/>
<polygon points="943.1,260.6 940.4,263.2 945.0,280.4 946.6,281.3 952.6,276.4 949.1,270.0" fill="#bcd873"/>
<polygon points="972.4,279.4 972.6,279.4 979.4,273.8 976.2,263.4 972.7,274.5" fill="#bcd873"/>
<polygon points="968.5,279.6 972.6,279.4 979.4,273.8 978.8,271.7 967.7,274.6 961.2,272.8" fill="#bcd873"/>
<polygon points="988.0,266.3 986.4,264.5 985.5,259.3 975.7,258.8 975.1,260.1 979.4,273.8 986.5,275.3 987.0,275.0" fill="#56aa4e"/>
<polygon points="820.0,287.9 820.0,293.1 829.3,292.3 829.5,289.7 827.4,289.1" fill="#8fc65e"/>
<polygon points="844.6,296.9 847.6,281.9 837.8,288.7 829.4,290.6 829.3,292.3 830.9,294.6" fill="#8fc65e"/>
<polygon points="853.9,278.8 848.8,278.2 848.2,278.6 844.6,296.9 846.0,298.4 852.7,297.9 853.3,290.4" fill="#8fc65e"/>
<polygon points="846.8,286.0 844.6,296.9 846.0,298.4 861.2,297.3 849.9,288.5" fill="#3a9648"/>
<polygon points="869.7,291.8 880.3,291.2 881.9,280.2 880.5,277.2 874.6,286.4" fill="#56aa4e"/>
<polygon points="885.6,298.8 895.3,297.0 898.1,295.8 896.1,282.9 889.6,281.7 888.7,292.6" fill="#bcd873"/>
<polygon points="911.1,294.1 914.4,291.3 915.0,287.4 903.6,274.5 902.3,274.2 900.0,277.5 909.2,291.8" fill="#bcd873"/>
<polygon points="917.3,285.2 915.0,287.4 914.4,291.3 928.2,298.5 924.4,291.8" fill="#8fc65e"/>
<polygon points="914.8,289.0 914.4,291.3 930.3,299.5 931.3,298.1 933.2,282.6 929.7,280.4 922.9,285.3" fill="#8fc65e"/>
<polygon points="945.0,280.4 941.7,281.0 941.5,283.8 938.0,295.6 951.1,290.7 946.6,281.3" fill="#bcd873"/>
<polygon points="945.0,280.4 938.1,281.7 943.2,288.7 944.0,293.4 951.1,290.7 946.6,281.3" fill="#bcd873"/>
<polygon points="965.3,283.6 968.5,279.6 959.3,271.0 951.4,277.4 955.0,278.6" fill="#bcd873"/>
<polygon points="956.4,294.6 959.2,297.3 970.5,296.1 966.4,286.3 965.7,283.1" fill="#bcd873"/>
<polygon points="990.0,294.4 990.2,294.2 990.1,294.0 979.1,291.4 976.8,290.6 978.5,295.2 982.6,297.6" fill="#bcd873"/>
<polygon points="987.7,281.8 986.5,275.3 979.4,273.8 973.2,278.8 979.2,281.7" fill="#bcd873"/>
<polygon points="990.2,294.2 998.0,290.5 993.0,287.3 987.7,281.4" fill="#bcd873"/>
<polygon points="992.3,293.2 999.6,289.7 996.9,284.2 995.4,279.4 995.0,280.1" fill="#bcd873"/>
<polygon points="830.4,293.9 829.3,292.3 820.0,293.1 820.0,300.9 822.6,300.2" fill="#8fc65e"/>
<polygon points="827.3,308.7 827.2,308.9 829.4,311.8 844.9,311.1 845.5,303.7 833.7,309.5" fill="#8fc65e"/>
<polygon points="856.2,297.7 846.0,298.4 844.9,311.1 846.0,312.5 852.5,311.3 853.1,304.2" fill="#56aa4e"/>
<polygon points="872.9,291.6 864.1,292.2 862.0,297.2 865.2,305.6 879.3,307.3 874.8,298.1" fill="#bcd873"/>
<polygon points="893.3,319.1 896.0,316.8 895.5,302.6 888.6,309.5 885.2,312.4" fill="#56aa4e"/>
<polygon points="909.8,310.2 906.6,298.0 898.1,295.8 896.4,296.5 900.2,302.4 906.7,311.7" fill="#bcd873"/>
<polygon points="909.8,310.2 909.3,308.1 903.7,307.9 895.6,306.9 896.0,316.8" fill="#bcd873"/>
<polygon points="922.4,295.4 914.4,291.3 906.6,298.0 908.4,304.8 914.4,302.1" fill="#8fc65e"/>
<polygon points="931.0,304.7 930.3,299.5 924.0,296.2 917.3,304.2 915.5,310.5 924.3,310.9" fill="#8fc65e"/>
<polygon points="932.8,305.8 941.5,310.7 945.7,305.8 945.5,305.9" fill="#bcd873"/>
<polygon points="949.7,291.3 931.3,298.1 930.3,299.5 931.0,304.7 939.7,309.7 948.4,296.1" fill="#56aa4e"/>
<polygon points="948.2,302.9 941.5,310.7 944.4,317.7 953.4,316.0 951.7,313.7" fill="#8fc65e"/>
<polygon points="955.5,294.5 947.5,303.7 950.1,306.5 956.1,314.1 961.5,304.2 959.2,297.3 956.4,294.6" fill="#8fc65e"/>
<polygon points="979.9,296.0 978.5,295.2 959.2,297.3 960.9,302.5 968.0,300.6" fill="#8fc65e"/>
<polygon points="982.6,297.6 978.5,295.2 959.2,297.3 961.5,304.2 964.5,306.4 974.8,300.5 982.2,299.3" fill="#8fc65e"/>
<polygon points="999.6,307.7 1000.1,306.9 990.0,294.4 982.6,297.6 982.4,298.6 993.2,302.9" fill="#3a9648"/>
<polygon points="1000.9,292.1 999.6,289.7 990.2,294.2 990.0,294.4 995.8,301.5 999.5,296.4" fill="#3a9648"/>
<polygon points="1003.6,306.5 1003.9,299.1 1003.3,297.7 999.3,298.9 994.3,299.7 1000.1,306.9" fill="#8fc65e"/>
<polygon points="780.0,326.3 782.2,329.2 788.9,328.9 788.4,327.0 787.0,322.7 781.1,322.7" fill="#56aa4e"/>
<polygon points="799.5,313.2 799.5,322.6 799.5,322.6 799.5,322.6 799.5,322.6 799.5,322.6 799.5,322.6 799.5,322.6 799.5,322.6 799.5,322.6 799.5,322.6 799.5,322.6 799.5,322.6 799.5,322.6 799.5,322.6 799.5,322.6 799.5,322.6 799.5,322.7 798.7,322.7 798.8,325.1 815.4,329.0 817.4,327.0 813.1,315.7 812.5,315.8" fill="#8fc65e"/>
<polygon points="844.9,311.1 829.4,311.8 828.7,317.9 839.4,321.2 846.9,319.5 846.0,312.5" fill="#bcd873"/>
<polygon points="835.6,311.5 829.4,311.8 828.7,318.1 834.1,313.9" fill="#bcd873"/>
<polygon points="846.0,312.5 846.8,318.3 853.8,316.8 863.8,316.6 863.2,309.5" fill="#bcd873"/>
<polygon points="880.4,312.2 881.9,309.7 881.2,307.6 865.2,305.6 863.2,309.5 863.6,313.6 869.3,313.3" fill="#56aa4e"/>
<polygon points="864.5,324.5 865.3,325.0 868.8,324.6 873.1,311.9 873.0,306.5 865.2,305.6 863.2,309.5" fill="#56aa4e"/>
<polygon points="873.5,323.9 880.1,328.4 887.8,326.7 886.5,319.2 887.4,314.2 881.9,309.7" fill="#56aa4e"/>
<polygon points="889.9,316.3 881.9,309.7 876.3,319.1 880.0,319.3" fill="#bcd873"/>
<polygon points="898.9,315.4 896.0,316.8 893.3,319.1 893.4,325.5 898.3,332.5 898.9,332.4 900.1,329.3" fill="#bcd873"/>
<polygon points="906.9,330.4 912.0,325.5 910.6,315.5 906.5,317.2 895.9,329.0 898.3,332.5" fill="#56aa4e"/>
<polygon points="916.3,310.5 909.8,310.2 912.0,325.5 919.5,326.3 918.8,315.5" fill="#8fc65e"/>
<polygon points="910.5,314.6 912.0,325.5 925.4,327.0 926.2,326.1 926.0,324.5 914.4,316.9" fill="#8fc65e"/>
<polygon points="957.5,311.5 955.3,315.7 960.3,319.7 960.0,317.4" fill="#bcd873"/>
<polygon points="998.1,322.9 995.3,314.7 979.3,312.1 976.4,314.8 985.2,319.7" fill="#56aa4e"/>
<polygon points="976.3,314.9 975.9,316.4 986.6,320.4 998.7,326.3 999.1,325.9 995.3,314.7 979.3,312.1" fill="#bcd873"/>
<polygon points="999.1,325.9 1000.7,325.8 1001.6,320.4 1002.0,318.0 999.9,319.6 997.5,321.0" fill="#bcd873"/>
<polygon points="813.8,340.7 813.7,342.1 815.5,344.1 831.5,344.0 833.4,329.4 832.1,328.3 825.4,332.3" fill="#3a9648"/>
<polygon points="849.8,337.2 847.9,326.5 834.7,329.1 840.6,331.7" fill="#bcd873"/>
<polygon points="831.8,344.3 838.8,344.3 843.1,337.8 848.8,331.7 847.9,326.5 833.4,329.4 831.5,344.0" fill="#bcd873"/>
<polygon points="848.7,330.9 851.0,343.4 867.1,344.0 867.1,344.0 866.5,338.3 864.7,337.2" fill="#8fc65e"/>
<polygon points="847.9,326.4 847.9,326.5 851.0,343.4 853.9,343.6 856.0,337.1 860.6,324.9" fill="#8fc65e"/>
<polygon points="865.3,325.0 866.5,337.7 874.2,332.9 879.9,330.5 880.1,328.4 873.5,323.9" fill="#bcd873"/>
<polygon points="865.3,325.0 866.3,335.5 871.6,332.6 879.7,328.1 873.5,323.9" fill="#bcd873"/>
<polygon points="880.0,329.9 879.0,343.7 883.9,346.2 888.6,344.9 885.4,340.7" fill="#bcd873"/>
<polygon points="898.3,332.5 894.2,326.7 890.3,332.6 883.6,346.1 883.9,346.2 895.6,343.0" fill="#bcd873"/>
<polygon points="915.3,346.5 919.0,343.6 906.9,330.4 898.3,332.5 897.5,335.6 900.5,343.3 900.2,346.9" fill="#bcd873"/>
<polygon points="913.2,337.3 906.9,330.4 898.3,332.5 895.6,343.0 899.1,346.9 899.9,346.9 908.0,341.6" fill="#bcd873"/>
<polygon points="942.7,324.1 926.2,326.1 925.4,327.0 925.4,336.2 932.2,337.0 942.5,336.4" fill="#bcd873"/>
<polygon points="925.4,329.2 925.4,342.5 928.6,344.7 939.6,341.0 931.8,337.7" fill="#bcd873"/>
<polygon points="951.7,340.3 956.7,340.1 958.3,330.8 957.1,330.3 952.2,338.1" fill="#56aa4e"/>
<polygon points="956.7,340.0 958.3,330.8 942.7,324.0 942.7,324.1 942.5,332.4 953.6,337.7" fill="#56aa4e"/>
<polygon points="976.4,336.0 976.3,328.0 973.9,324.3 966.7,324.8 958.3,330.8 967.8,333.5" fill="#bcd873"/>
<polygon points="963.4,348.4 971.1,345.9 976.4,337.0 976.3,328.0 973.9,324.3 967.1,324.8 962.7,341.4 961.6,346.1" fill="#bcd873"/>
<polygon points="995.6,341.4 996.7,340.8 996.9,328.3 976.3,328.0 976.4,333.9 985.3,338.5" fill="#bcd873"/>
<polygon points="984.4,340.8 991.1,344.0 996.7,340.8 996.9,328.4 988.2,335.8" fill="#56aa4e"/>
<polygon points="799.0,342.7 781.5,346.2 781.5,359.3 785.2,359.4 793.7,350.2 799.1,345.7" fill="#56aa4e"/>
<polygon points="833.2,359.1 832.3,349.2 826.5,353.2 815.9,358.6 831.7,360.1" fill="#3a9648"/>
<polygon points="845.6,362.4 848.5,359.6 849.6,349.1 842.7,352.2 832.7,354.1 833.2,359.1" fill="#8fc65e"/>
<polygon points="849.5,350.6 848.5,359.6 864.9,359.8 865.5,359.2 865.7,356.8 859.5,356.7" fill="#56aa4e"/>
<polygon points="851.0,343.4 850.1,344.4 848.5,359.6 859.1,359.7 857.3,353.4 855.7,343.6" fill="#bcd873"/>
<polygon points="865.7,357.3 865.5,359.2 881.3,363.1 882.3,362.6 883.9,346.2 880.4,344.5 871.7,351.8" fill="#3a9648"/>
<polygon points="879.0,343.7 867.1,344.0 867.1,344.0 865.5,359.2 876.4,361.9 879.2,357.7 881.0,344.8" fill="#3a9648"/>
<polygon points="895.6,343.0 883.9,346.2 882.5,361.2 893.4,357.1 900.2,357.2 900.6,356.4 899.1,346.9" fill="#8fc65e"/>
<polygon points="893.1,343.7 883.9,346.2 882.3,362.6 888.9,365.1 893.2,356.2" fill="#3a9648"/>
<polygon points="900.6,356.4 904.6,357.8 906.9,353.0 907.7,346.7 899.1,346.9" fill="#8fc65e"/>
<polygon points="928.6,345.0 928.6,344.7 925.4,342.5 919.0,343.6 915.3,346.5 914.4,357.8 920.7,350.1" fill="#8fc65e"/>
<polygon points="930.5,360.0 931.3,359.4 928.6,344.7 925.4,342.5 919.0,343.6 915.3,346.5 915.2,347.9 924.3,354.2" fill="#dcdf85"/>
<polygon points="948.7,358.6 954.0,357.7 961.6,351.8 963.4,348.4 960.5,344.7 952.0,348.3 945.4,348.4" fill="#dcdf85"/>
<polygon points="948.7,358.6 954.0,357.7 958.6,354.1 953.0,349.8 944.9,346.6" fill="#8fc65e"/>
<polygon points="976.9,361.1 980.3,355.7 971.1,345.9 963.6,348.3 971.1,356.9" fill="#bcd873"/>
<polygon points="980.3,355.7 988.2,356.0 989.7,349.7 980.0,347.9 971.7,344.9 971.1,345.9" fill="#bcd873"/>
<polygon points="986.0,341.6 976.4,337.0 971.1,345.9 975.7,350.8 978.7,347.7" fill="#bcd873"/>
<polygon points="988.2,356.0 990.1,358.0 997.0,357.2 995.8,350.0 996.5,348.4 993.4,347.0 990.4,346.7" fill="#56aa4e"/>
<polygon points="827.0,375.5 828.4,371.0 824.0,367.6 813.1,362.0 816.4,375.5" fill="#8fc65e"/>
<polygon points="837.0,377.6 844.0,376.7 847.3,372.5 845.9,363.8 838.4,375.3" fill="#dcdf85"/>
<polygon points="846.5,367.9 847.3,372.5 863.6,377.8 864.6,363.4 857.6,365.6" fill="#8fc65e"/>
<polygon points="873.0,361.1 865.5,359.2 864.9,359.8 863.6,377.8 863.7,377.9 868.6,378.0 872.9,368.0" fill="#8fc65e"/>
<polygon points="874.8,378.2 881.3,363.1 867.7,359.8 868.9,367.7 866.3,378.0" fill="#3a9648"/>
<polygon points="891.0,377.9 895.9,370.7 894.4,367.2 890.1,365.5 886.5,373.6 883.3,382.1" fill="#8fc65e"/>
<polygon points="888.1,364.8 882.3,362.6 881.3,363.1 874.8,378.2 880.5,383.6 882.8,382.4 887.0,369.0" fill="#8fc65e"/>
<polygon points="908.4,368.7 911.6,360.2 900.6,356.4 895.8,364.8 900.3,365.1" fill="#8fc65e"/>
<polygon points="894.9,368.3 895.9,370.7 905.9,375.3 909.6,365.6 903.1,368.4" fill="#8fc65e"/>
<polygon points="917.9,361.3 914.2,359.4 911.6,360.2 905.9,375.3 909.8,379.4 917.8,373.9 917.4,371.7" fill="#56aa4e"/>
<polygon points="908.8,367.7 905.9,375.3 909.8,379.4 911.1,378.5 909.8,371.7" fill="#56aa4e"/>
<polygon points="930.3,378.5 945.2,375.3 943.7,362.7 940.8,361.9 933.2,368.1 926.9,374.0" fill="#dcdf85"/>
<polygon points="936.1,360.6 931.3,359.4 924.8,364.7 923.8,369.9 928.0,375.4 931.3,367.7" fill="#dcdf85"/>
<polygon points="945.7,376.0 947.7,378.4 954.5,381.4 956.9,379.6 961.2,368.8 956.2,361.0 951.1,369.3" fill="#8fc65e"/>
<polygon points="948.7,358.6 943.7,362.7 944.3,367.7 952.8,371.0 960.6,370.4 961.2,368.8 954.0,357.7" fill="#8fc65e"/>
<polygon points="960.9,362.6 960.4,358.3 964.0,359.5 965.6,362.2 968.8,362.0 961.6,351.8 954.0,357.7 957.6,363.3 960.7,362.6" fill="#bcd873"/>
<polygon points="955.2,356.8 954.0,357.7 960.7,368.0 958.9,361.3" fill="#56aa4e"/>
<polygon points="778.8,377.8 765.9,377.3 764.6,388.8 765.0,389.6 772.1,383.5" fill="#56aa4e"/>
<polygon points="814.6,399.7 825.2,401.2 827.2,396.6 823.1,394.3 812.4,390.9 811.8,396.0 812.7,398.1" fill="#8fc65e"/>
<polygon points="830.1,378.5 830.2,389.8 839.7,388.4 837.3,383.6 833.1,378.1" fill="#3a9648"/>
<polygon points="863.7,377.9 863.6,377.8 854.1,374.7 854.3,375.2 860.7,387.0 861.1,386.8" fill="#3a9648"/>
<polygon points="844.8,382.7 845.4,387.5 850.1,394.0 860.5,387.2 853.9,384.0" fill="#8fc65e"/>
<polygon points="880.5,383.6 874.8,378.2 873.3,378.2 871.6,390.7 873.1,394.5 880.6,383.9" fill="#8fc65e"/>
<polygon points="894.9,385.0 891.0,377.9 880.5,383.6 880.6,383.9 882.8,386.8 889.4,385.9" fill="#8fc65e"/>
<polygon points="893.0,381.6 891.0,377.9 880.5,383.6 880.6,383.9 883.0,387.1 888.1,383.4" fill="#8fc65e"/>
<polygon points="905.9,375.3 895.9,370.7 891.6,377.0 896.3,384.1 898.0,390.0 909.6,390.0 910.5,389.1 909.8,379.4" fill="#bcd873"/>
<polygon points="909.8,379.4 910.5,389.1 919.7,391.1 918.8,387.7 915.0,375.9" fill="#bcd873"/>
<polygon points="915.1,390.1 922.0,391.6 928.3,388.7 930.3,378.5 923.8,369.9 916.2,375.0 915.3,389.0" fill="#bcd873"/>
<polygon points="928.3,388.7 937.2,392.1 943.5,383.8 937.1,384.2 928.6,387.1" fill="#56aa4e"/>
<polygon points="893.1,399.0 890.8,393.5 887.7,393.1 883.0,400.1 889.8,400.1" fill="#8fc65e"/>
<polygon points="881.2,402.8 884.4,406.6 892.2,408.1 897.1,408.4 890.8,393.5 887.7,393.1" fill="#3a9648"/>
<polygon points="901.6,417.1 904.5,415.2 909.6,390.0 898.4,390.0 899.9,403.5" fill="#3a9648"/>
<polygon points="918.2,401.3 923.8,402.0 924.7,401.6 922.0,391.6 910.8,389.1 916.7,397.1" fill="#8fc65e"/>
<polygon points="910.5,389.1 909.6,390.0 908.3,396.2 909.0,403.0 914.3,400.9 923.8,402.0 924.7,401.6 922.0,391.6" fill="#3a9648"/>
<polygon points="924.7,401.6 930.2,398.8 927.5,396.4 922.5,393.3" fill="#bcd873"/>
<polygon points="924.7,401.6 930.9,398.5 931.8,397.9 928.9,393.7 926.5,389.5 922.0,391.6" fill="#bcd873"/>
<polygon points="876.6,423.5 880.9,432.3 887.0,425.5 895.4,416.7 892.5,416.5" fill="#3a9648"/>
<polygon points="876.6,423.5 878.1,426.5 883.7,422.0 887.9,418.5" fill="#8fc65e"/>
<polygon points="790.6,390.8 788.3,392.0 788.1,403.7 790.3,406.3 798.6,403.3 796.5,398.7" fill="#8fc65e"/>
<polygon points="829.3,391.9 825.2,401.2 826.0,401.9 847.5,404.9 848.0,404.5 849.2,398.4 845.4,396.7" fill="#3a9648"/>
<polygon points="868.5,395.7 861.1,386.8 850.1,394.0 848.2,403.3 861.9,400.8" fill="#8fc65e"/>
<polygon points="876.8,389.2 870.5,398.1 870.9,401.9 881.2,402.8 885.1,396.9 881.3,394.4" fill="#8fc65e"/>
<polygon points="814.6,399.7 812.7,398.1 807.7,400.0 805.2,410.8 803.1,421.9 806.5,422.1" fill="#8fc65e"/>
<polygon points="826.0,401.9 825.2,401.2 814.6,399.7 807.2,420.2 816.3,421.1 825.6,420.6 825.6,405.3 825.6,405.3 825.6,405.3 825.6,405.3 825.6,405.3 825.6,405.3 825.6,405.3 825.6,405.3 825.6,405.3 825.6,405.3 825.6,405.3 825.6,405.3 825.6,405.3 825.6,405.3 825.6,405.3 825.6,405.3 825.6,405.2 826.2,405.2" fill="#56aa4e"/>
<polygon points="847.5,404.9 826.0,401.9 826.2,405.2 842.0,405.2 842.0,405.3 842.0,405.3 842.0,405.3 842.0,405.3 842.0,405.3 842.0,405.3 842.0,405.3 842.0,405.3 842.0,405.3 842.0,405.3 842.0,405.3 842.0,405.3 842.0,405.3 842.0,405.3 842.0,405.3 842.0,405.3 842.0,412.3 847.8,410.9" fill="#8fc65e"/>
<polygon points="865.8,422.0 870.8,421.5 868.0,405.5 859.7,405.1 864.4,416.5" fill="#8fc65e"/>
<polygon points="870.8,421.5 873.0,423.2 876.6,423.5 892.5,416.5 888.5,411.7 878.4,415.1 870.7,420.8" fill="#8fc65e"/>
<polygon points="842.0,424.8 842.0,428.4 842.0,428.4 842.0,428.4 842.0,428.4 842.0,428.4 842.0,428.4 842.0,428.4 842.0,428.4 842.0,428.4 842.0,428.4 842.0,428.4 842.0,428.4 842.0,428.4 842.0,428.4 842.0,428.4 842.0,428.4 842.0,428.4 832.2,428.4 830.0,442.1 843.5,443.5 847.5,435.3 850.3,430.0 848.7,423.6 848.4,423.4" fill="#3a9648"/>
<polygon points="850.2,429.5 853.3,441.7 865.5,443.0 865.6,442.6 856.3,434.9" fill="#8fc65e"/>
<polygon points="868.7,434.4 865.5,443.0 871.4,448.8 881.2,444.5 882.3,441.3 875.3,440.1" fill="#bcd873"/>
<polygon points="799.9,456.7 801.1,461.0 801.3,461.5 809.2,462.0 809.6,461.8 810.3,452.7 809.8,453.0" fill="#8fc65e"/>
<polygon points="811.1,442.9 810.7,447.8 820.5,453.6 831.4,458.5 829.1,443.1" fill="#8fc65e"/>
<polygon points="847.8,463.0 848.8,474.3 849.3,474.0 855.5,470.1 855.5,462.8" fill="#8fc65e"/>
<polygon points="839.2,484.8 830.2,485.5 829.7,499.5 834.0,501.3 838.1,491.4" fill="#8fc65e"/>
<polygon points="845.9,484.2 830.2,485.5 830.0,489.5 843.5,497.2 848.7,505.0 849.1,504.5" fill="#3a9648"/>
<polygon points="846.7,483.5 845.9,484.2 849.1,504.5 860.5,501.7 854.4,493.6" fill="#56aa4e"/>
<polygon points="855.5,485.6 855.5,485.6 855.5,485.5 855.5,485.5 855.5,485.5 855.5,485.5 855.5,485.5 855.5,485.5 855.5,485.5 855.5,485.5 855.5,485.5 855.5,485.5 855.5,485.5 855.5,485.5 855.5,485.5 855.5,485.5 855.5,485.5 855.5,485.5 855.5,482.1 849.4,480.9 845.9,484.2 849.1,504.5 852.6,503.7 854.9,491.6" fill="#56aa4e"/>
<polygon points="868.4,499.8 873.5,504.2 878.9,503.5 875.9,497.7 875.4,495.7 871.4,498.0 868.4,499.6" fill="#56aa4e"/>
<polygon points="878.4,502.4 875.9,497.7 873.1,486.8 873.0,485.6 866.2,485.6 867.9,496.6 869.8,497.1" fill="#bcd873"/>
<polygon points="873.2,505.5 869.6,520.0 875.5,520.0 875.3,516.3" fill="#8fc65e"/>
<polygon points="873.5,504.2 869.6,520.0 876.0,520.0 879.7,510.6 880.4,506.3 878.9,503.5" fill="#8fc65e"/>
<polygon points="724.0,101.1 725.0,101.9 724.4,103.0 723.2,103.1 722.3,102.4 722.1,101.4 722.9,100.6" fill="#bcd873"/>
<polygon points="739.4,97.9 738.3,97.7 737.8,96.8 737.8,95.6 739.2,95.6 740.5,96.2 740.3,97.3" fill="#bcd873"/>
<polygon points="770.3,96.3 768.0,99.7 764.2,101.5 760.1,100.7 755.3,99.5 753.3,94.9 754.4,90.2 759.6,89.6 762.9,87.6 767.3,88.5 768.1,92.7" fill="#8fc65e"/>
<polygon points="776.0,101.0 774.2,103.6 771.4,105.2 768.6,105.7 765.3,106.2 765.2,103.8 765.4,101.5 767.3,99.0 770.5,98.0 773.3,97.7 775.4,98.8" fill="#8fc65e"/>
<polygon points="692.1,133.5 692.9,129.1 696.2,126.7 699.3,125.7 703.8,123.5 705.1,128.2 707.2,131.5 707.1,136.1 702.8,137.9 698.9,138.3 696.1,135.7" fill="#56aa4e"/>
<polygon points="759.4,142.7 754.5,142.8 750.4,144.8 747.0,142.4 746.1,139.0 746.8,135.6 750.4,134.1 753.4,133.8 756.1,134.4 760.9,135.0 759.5,138.7" fill="#56aa4e"/>
<polygon points="692.0,148.0 693.8,147.7 694.8,148.5 695.5,149.8 693.8,150.5 692.2,150.6 691.7,149.4" fill="#d6eaa6"/>
<polygon points="715.7,160.6 714.2,163.6 710.2,162.1 707.0,161.8 703.9,159.4 703.5,156.0 705.1,153.3 708.1,152.1 711.3,153.6 715.5,154.1 716.2,157.6" fill="#8fc65e"/>
<polygon points="711.9,155.1 712.8,157.4 712.1,159.3 710.6,160.9 708.4,160.1 707.3,157.9 707.3,155.3 709.6,154.7" fill="#bcd873"/>
<polygon points="718.5,146.8 717.2,148.1 715.1,148.5 712.7,149.2 711.2,148.3 711.5,147.0 712.9,145.9 714.2,145.2 715.8,144.9 718.2,144.4 717.8,145.8" fill="#56aa4e"/>
<polygon points="714.1,145.4 715.1,144.5 716.4,145.2 716.7,146.6 716.1,147.8 715.0,148.6 713.8,147.9 713.7,146.5" fill="#8fc65e"/>
<polygon points="717.3,146.0 718.0,146.9 718.1,148.0 717.2,148.7 716.0,148.4 715.5,147.0 716.1,145.8" fill="#bcd873"/>
<circle cx="717.0" cy="147.2" r="0.9" fill="#f0a450"/>
<polygon points="772.9,148.3 774.5,148.1 775.4,148.8 775.6,150.0 774.4,151.3 772.8,151.1 772.5,149.8" fill="#d6eaa6"/>
<polygon points="732.8,158.9 734.4,158.4 735.0,160.4 734.2,162.4 733.5,163.9 732.5,164.5 731.1,165.2 730.0,164.1 729.6,162.0 730.7,160.3 731.3,158.0" fill="#56aa4e"/>
<polygon points="738.3,174.5 736.8,175.2 734.7,175.4 733.3,173.9 733.7,172.1 734.9,171.2 735.8,169.7 737.5,170.3 738.9,170.9 740.8,172.0 739.4,173.5" fill="#8fc65e"/>
<polygon points="736.6,173.7 735.6,173.5 735.3,172.4 736.1,171.6 737.0,171.3 737.8,171.6 738.0,172.6 737.6,173.7" fill="#bcd873"/>
<polygon points="706.4,187.7 707.1,188.9 706.9,190.2 705.8,190.9 704.7,190.2 704.5,188.9 705.1,187.6" fill="#bcd873"/>
<polygon points="724.1,182.6 724.2,179.5 725.7,177.2 728.2,175.9 732.0,174.4 734.4,178.1 736.7,182.1 735.9,186.7 731.7,187.6 728.4,186.9 724.1,187.3" fill="#8fc65e"/>
<polygon points="730.9,183.0 729.4,184.2 727.3,184.1 726.7,181.8 726.5,179.3 728.6,178.0 730.7,178.9 732.1,180.9" fill="#bcd873"/>
<polygon points="726.2,187.4 725.6,188.3 724.6,188.8 723.9,187.8 723.7,186.6 724.6,186.0 725.7,186.3" fill="#bcd873"/>
<polygon points="750.6,193.6 748.9,193.1 748.6,191.1 749.6,189.3 751.0,187.6 753.0,188.0 754.1,189.3 755.5,190.7 754.1,192.5 753.0,193.5 751.7,194.5" fill="#56aa4e"/>
<polygon points="752.4,190.3 753.2,190.9 753.1,192.0 752.4,192.9 751.2,193.0 750.5,192.1 750.6,190.8 751.5,190.3" fill="#8fc65e"/>
<polygon points="771.7,188.4 770.6,188.1 769.8,187.0 770.3,185.7 771.6,185.6 772.8,186.6 772.9,188.0" fill="#bcd873"/>
<polygon points="793.0,189.4 794.3,189.9 794.1,191.2 793.3,192.0 792.2,191.6 791.3,190.5 791.8,189.2" fill="#bcd873"/>
<polygon points="796.5,190.9 800.6,189.1 801.9,186.2 805.4,186.8 807.6,188.6 809.6,190.6 811.5,193.8 807.3,195.0 804.7,196.6 800.7,196.9 800.0,193.3" fill="#3a9648"/>
<polygon points="714.0,213.3 711.7,216.1 708.1,215.0 705.2,213.5 702.6,210.6 704.5,207.4 706.6,205.4 709.1,202.6 713.0,203.6 713.4,207.7 716.2,210.4" fill="#56aa4e"/>
<polygon points="699.9,200.4 700.6,199.2 702.1,198.7 702.7,199.7 703.0,200.9 701.8,201.4 700.8,201.2" fill="#bcd873"/>
<polygon points="723.1,218.6 721.2,216.3 721.3,213.6 719.7,210.4 722.2,208.2 725.2,209.1 728.2,208.5 729.0,211.4 729.7,214.0 727.8,215.9 725.8,217.0" fill="#56aa4e"/>
<polygon points="727.2,214.1 725.7,215.5 723.9,215.4 723.1,214.0 722.9,212.3 724.3,210.9 725.8,211.4 726.7,212.4" fill="#8fc65e"/>
<polygon points="748.2,211.0 748.7,212.7 748.4,213.9 746.9,214.5 745.2,215.7 742.7,214.3 741.5,213.0 739.0,211.4 741.2,210.5 743.2,210.2 745.6,209.9" fill="#56aa4e"/>
<polygon points="744.3,210.3 745.7,210.9 746.6,212.1 746.6,214.0 745.0,214.4 743.6,214.3 742.8,212.9 743.1,211.3" fill="#8fc65e"/>
<polygon points="771.6,207.7 773.2,207.7 774.3,208.8 773.5,209.9 772.1,210.2 770.6,209.9 770.1,208.4" fill="#d6eaa6"/>
<polygon points="811.8,206.6 810.7,208.0 809.3,207.9 808.1,207.1 808.8,205.5 810.3,204.8 811.6,205.2" fill="#d6eaa6"/>
<polygon points="822.7,209.2 824.0,209.7 825.4,211.3 823.9,213.8 823.1,216.3 821.4,216.3 820.1,215.9 817.8,215.8 818.7,212.6 819.6,210.2 821.3,209.5" fill="#3a9648"/>
<polygon points="724.0,220.6 723.2,219.3 723.8,218.2 724.9,218.0 726.1,218.6 725.9,219.8 725.3,220.9" fill="#bcd873"/>
<circle cx="724.8" cy="219.3" r="0.9" fill="#f0a450"/>
<polygon points="741.9,228.0 741.6,226.8 741.8,225.6 742.9,225.6 744.0,226.3 743.8,227.5 743.1,228.4" fill="#bcd873"/>
<circle cx="742.7" cy="226.9" r="0.9" fill="#f0a450"/>
<polygon points="770.9,226.6 769.9,226.4 769.6,225.3 770.2,224.1 771.5,224.0 772.1,224.9 771.8,226.0" fill="#bcd873"/>
<polygon points="775.1,230.0 774.6,226.5 777.6,223.7 779.7,221.3 783.2,220.3 787.5,219.7 789.8,222.2 789.9,225.6 785.9,227.8 783.1,229.5 778.7,231.9" fill="#56aa4e"/>
<polygon points="781.9,221.9 783.7,223.1 785.4,224.5 784.9,227.2 782.7,228.5 780.7,227.7 779.3,225.9 780.3,223.7" fill="#8fc65e"/>
<polygon points="809.1,230.2 807.8,227.4 806.5,225.5 805.0,222.4 808.5,221.5 810.6,218.6 813.7,219.8 814.3,222.8 816.8,225.2 815.0,228.2 811.9,228.7" fill="#56aa4e"/>
<polygon points="813.0,223.9 812.8,226.0 811.0,226.9 809.1,227.2 808.0,225.6 808.6,223.4 810.3,222.4 811.9,222.7" fill="#8fc65e"/>
<polygon points="826.4,217.5 824.1,215.8 824.8,214.2 824.9,212.4 827.9,212.8 831.0,213.0 832.5,215.1 833.4,216.7 832.6,217.8 832.1,219.5 829.1,218.8" fill="#3a9648"/>
<polygon points="826.9,229.5 825.2,227.6 822.6,227.6 821.8,225.3 824.0,223.9 824.8,222.3 826.7,221.4 829.0,222.0 829.6,224.3 830.3,226.4 828.4,227.7" fill="#8fc65e"/>
<polygon points="693.9,237.3 694.5,234.4 694.5,231.2 696.1,230.8 697.8,231.0 699.6,232.9 700.7,236.6 699.9,239.7 698.6,241.6 696.9,241.3 695.0,240.6" fill="#56aa4e"/>
<polygon points="687.4,241.6 687.5,242.7 687.0,243.6 685.8,243.9 684.8,242.7 685.1,241.4 686.2,240.7" fill="#bcd873"/>
<polygon points="734.9,239.2 735.2,237.7 736.9,237.0 738.5,237.5 738.6,238.8 738.0,240.0 736.4,239.8" fill="#d6eaa6"/>
<polygon points="791.7,244.5 788.4,245.7 784.9,246.7 783.0,244.5 784.1,240.9 784.9,238.0 787.4,236.0 790.4,233.9 792.1,236.1 795.2,237.2 794.0,241.0" fill="#56aa4e"/>
<polygon points="790.0,241.9 788.2,243.5 786.3,242.3 785.2,240.1 786.5,237.7 789.0,237.0 791.2,237.9 791.1,240.2" fill="#8fc65e"/>
<polygon points="822.0,236.6 820.7,239.1 819.8,241.5 817.5,243.2 815.3,242.7 814.7,240.5 814.3,238.6 815.1,236.5 816.7,235.0 818.9,233.6 820.4,235.1" fill="#3a9648"/>
<polygon points="727.3,267.3 725.8,267.2 725.2,265.6 724.6,264.1 725.2,262.8 726.0,261.6 727.6,261.0 728.8,262.5 729.8,264.1 729.9,266.1 728.2,266.4" fill="#56aa4e"/>
<polygon points="728.1,263.8 728.5,264.7 727.7,265.5 726.7,265.8 725.7,265.5 725.6,264.4 726.4,263.7 727.3,263.4" fill="#8fc65e"/>
<polygon points="826.8,253.1 828.2,256.2 829.2,259.5 827.6,261.3 826.1,261.7 824.6,261.8 822.4,261.5 822.5,258.3 821.3,255.2 822.2,252.4 824.5,252.3" fill="#3a9648"/>
<polygon points="821.5,264.5 820.0,264.1 819.1,262.7 818.0,261.9 817.9,260.0 818.1,258.0 819.3,257.4 820.4,257.4 821.8,258.0 822.4,260.2 821.6,262.0" fill="#8fc65e"/>
<polygon points="672.5,271.6 672.9,268.0 673.5,264.8 675.9,262.2 679.3,263.0 682.2,264.2 682.3,267.4 682.9,270.2 680.8,271.9 678.6,274.2 675.5,273.5" fill="#56aa4e"/>
<polygon points="679.3,271.3 677.2,271.1 676.2,269.2 675.5,267.0 677.1,265.7 679.0,266.1 680.2,267.6 680.6,269.6" fill="#8fc65e"/>
<polygon points="716.1,281.7 714.7,281.6 714.2,280.6 714.5,279.7 715.5,278.9 716.9,279.5 717.1,280.8" fill="#bcd873"/>
<circle cx="715.4" cy="280.4" r="0.9" fill="#f0a450"/>
<polygon points="739.4,279.2 739.4,277.7 739.8,276.1 742.7,275.6 746.0,276.0 748.0,277.5 749.0,278.9 749.0,280.4 746.9,281.3 744.2,280.7 741.6,280.5" fill="#56aa4e"/>
<polygon points="744.1,276.5 745.5,277.0 746.0,278.5 745.5,279.9 744.5,281.3 742.9,280.5 742.5,278.9 742.6,277.1" fill="#8fc65e"/>
<polygon points="762.9,273.2 760.6,272.9 759.1,273.7 757.1,273.2 757.4,271.1 758.0,269.8 758.1,267.7 760.1,267.6 762.2,267.7 762.2,269.9 763.6,271.3" fill="#56aa4e"/>
<polygon points="772.0,274.5 774.8,275.3 776.8,275.7 779.7,276.6 779.1,278.2 779.3,279.8 776.9,279.8 774.7,280.5 772.4,279.1 772.1,277.5 771.5,276.1" fill="#56aa4e"/>
<polygon points="780.2,274.9 779.4,275.6 778.0,275.5 777.3,274.4 778.1,273.4 779.3,273.0 780.5,273.7" fill="#bcd873"/>
<polygon points="808.8,280.8 808.4,283.4 806.4,285.2 803.8,287.8 800.4,287.0 799.8,283.6 797.1,280.6 800.1,277.9 803.2,276.9 806.5,275.4 808.5,278.0" fill="#56aa4e"/>
<polygon points="806.0,280.3 806.7,282.0 805.8,283.4 804.1,284.4 802.1,283.2 801.6,281.1 802.7,279.7 804.4,279.4" fill="#8fc65e"/>
<polygon points="807.3,275.0 810.8,273.9 815.4,272.9 817.1,275.3 818.8,277.4 817.1,279.9 813.0,281.0 809.5,281.8 806.2,281.1 805.0,279.2 805.8,277.1" fill="#3a9648"/>
<polygon points="721.0,298.8 718.6,296.9 715.3,295.4 715.3,291.2 717.0,288.6 718.3,285.1 721.4,286.1 724.0,288.1 725.8,291.6 725.6,295.6 723.0,297.0" fill="#56aa4e"/>
<polygon points="750.0,303.5 752.0,300.5 753.4,298.1 756.4,295.8 759.4,296.9 762.6,297.1 764.4,299.1 764.3,302.4 760.3,304.8 755.9,306.7 753.5,304.4" fill="#56aa4e"/>
<polygon points="747.0,299.2 745.8,299.1 744.6,298.6 744.8,297.4 745.4,296.6 746.7,296.7 747.2,298.0" fill="#bcd873"/>
<circle cx="745.9" cy="298.0" r="0.9" fill="#f0a450"/>
<polygon points="798.4,291.7 796.5,290.0 794.9,287.6 797.1,286.7 799.1,285.6 802.5,286.8 805.8,288.6 806.4,291.0 807.0,293.6 803.6,293.4 800.9,293.5" fill="#bcd873"/>
<polygon points="798.2,290.6 798.3,288.5 800.1,287.7 801.9,288.0 803.0,289.4 803.2,291.2 801.7,292.2 799.6,292.4" fill="#dcdf85"/>
<polygon points="566.0,272.5 566.6,269.4 569.4,267.6 572.9,268.3 576.7,269.7 576.4,273.8 576.6,277.2 574.7,280.4 570.9,281.0 567.0,279.6 565.9,275.6" fill="#56aa4e"/>
<polygon points="569.0,275.9 568.4,274.0 568.6,271.5 571.3,270.2 573.3,271.7 574.8,273.7 573.2,276.0 570.8,277.5" fill="#8fc65e"/>
<polygon points="568.3,269.7 567.8,268.7 568.7,267.6 570.0,267.5 570.8,268.4 570.5,269.6 569.3,270.1" fill="#bcd873"/>
<circle cx="569.3" cy="268.9" r="0.9" fill="#f0a450"/>
<polygon points="593.3,270.3 594.4,270.8 594.7,271.9 594.3,272.9 593.2,272.9 592.5,272.0 592.1,270.7" fill="#bcd873"/>
<polygon points="661.0,273.7 662.5,274.3 663.3,275.8 662.6,276.8 661.4,277.0 660.2,276.0 659.9,274.6" fill="#d6eaa6"/>
<polygon points="653.4,278.4 653.1,280.6 651.8,282.4 650.1,283.1 648.8,282.2 648.2,280.3 649.5,278.1 650.3,276.6 651.6,274.5 652.9,275.2 654.1,276.1" fill="#56aa4e"/>
<polygon points="711.3,341.2 712.8,341.3 714.0,342.1 713.5,343.4 712.0,344.0 710.6,343.3 710.3,342.2" fill="#d6eaa6"/>
<polygon points="769.6,347.3 770.6,348.1 771.2,349.6 770.1,350.7 768.9,350.9 767.8,349.7 768.4,348.1" fill="#d6eaa6"/>
<polygon points="763.8,324.4 762.6,323.9 762.8,322.5 764.0,321.4 765.5,321.4 765.8,322.7 765.2,323.9" fill="#d6eaa6"/>
<polygon points="789.8,314.8 788.5,315.2 787.3,314.5 786.5,313.1 787.2,311.9 788.7,312.0 789.5,313.3" fill="#d6eaa6"/>
<polygon points="864.4,222.2 862.5,223.4 860.7,223.1 858.3,223.3 859.7,220.7 859.5,219.0 861.3,217.7 863.4,216.1 865.6,216.2 866.0,218.3 866.1,220.3" fill="#bcd873"/>
<polygon points="864.5,219.5 863.8,220.7 863.0,221.6 861.4,221.8 860.7,220.6 860.9,219.5 861.7,218.6 863.3,218.5" fill="#dcdf85"/>
<polygon points="877.0,228.5 876.5,224.8 878.8,222.6 881.1,220.1 883.5,222.7 886.1,224.5 885.5,228.2 885.7,232.3 883.3,235.3 879.8,235.4 877.8,231.8" fill="#bcd873"/>
<polygon points="875.0,221.5 874.4,220.2 875.2,219.2 876.6,218.6 878.0,219.4 878.6,220.6 877.9,221.8 876.4,221.9" fill="#dcdf85"/>
<polygon points="891.8,228.2 888.3,229.5 889.7,225.8 890.1,222.5 893.4,220.4 896.0,218.9 898.5,218.6 898.4,221.3 897.6,224.0 896.3,227.2 893.5,228.6" fill="#bcd873"/>
<polygon points="916.1,226.6 916.4,223.6 918.3,221.6 920.3,220.2 921.9,221.6 922.6,223.4 923.5,225.4 922.7,228.3 920.7,229.8 919.0,228.7 916.5,229.4" fill="#8fc65e"/>
<polygon points="919.2,217.1 917.7,219.0 917.0,220.4 915.4,221.3 913.5,222.4 912.2,221.5 911.9,220.0 913.0,218.3 914.5,217.2 916.1,216.4 917.1,217.0" fill="#dcdf85"/>
<polygon points="856.5,248.7 854.5,247.1 852.6,245.1 854.5,243.6 855.7,242.3 857.9,242.1 860.0,243.1 862.2,244.4 861.8,246.3 861.0,247.9 859.3,249.3" fill="#8fc65e"/>
<polygon points="874.1,234.2 876.5,235.5 877.9,237.2 879.4,239.3 878.1,240.8 875.2,240.9 872.6,239.1 869.9,238.0 868.9,236.1 870.0,234.8 870.9,233.0" fill="#bcd873"/>
<polygon points="892.8,239.5 890.1,239.1 888.6,239.5 886.4,239.2 884.9,236.9 885.6,234.8 886.2,233.2 887.4,231.1 890.0,232.0 891.3,234.7 892.8,236.9" fill="#bcd873"/>
<polygon points="917.0,234.2 915.4,234.1 913.7,234.1 912.0,232.3 910.6,230.3 910.5,228.6 910.3,226.4 912.3,226.7 914.1,228.9 916.1,230.1 917.6,232.5" fill="#8fc65e"/>
<polygon points="908.3,233.8 908.5,236.4 907.3,238.6 905.4,239.7 903.5,239.2 902.6,237.2 902.2,235.2 902.1,232.5 903.6,230.1 905.7,231.6 906.9,232.5" fill="#dcdf85"/>
<polygon points="863.8,255.2 863.5,256.7 862.5,257.8 860.9,257.9 859.3,257.8 858.5,256.5 858.5,255.2 858.5,253.6 859.7,252.1 861.8,252.3 863.3,253.6" fill="#dcdf85"/>
<polygon points="859.6,255.7 859.6,254.3 860.7,254.1 861.7,254.3 862.2,255.4 861.9,256.5 861.0,256.9 859.9,257.0" fill="#dcdf85"/>
<polygon points="890.1,255.2 888.0,256.7 886.0,258.1 882.6,258.2 878.1,257.6 875.2,254.9 877.9,252.6 880.2,251.3 883.1,250.9 887.6,249.8 889.6,252.8" fill="#8fc65e"/>
<polygon points="900.7,260.6 898.8,263.1 896.0,262.4 893.7,262.3 892.1,260.0 890.0,256.9 891.1,253.3 893.9,251.6 896.9,251.7 898.5,254.8 899.2,257.3" fill="#8fc65e"/>
<polygon points="861.4,476.5 862.9,476.6 864.3,477.5 864.1,478.9 862.6,479.3 861.1,478.7 860.8,477.5" fill="#d6eaa6"/>
<polygon points="852.0,192.3 854.5,192.1 856.7,193.6 856.9,196.9 854.3,199.7 851.7,202.0 848.3,203.2 846.3,200.8 846.0,197.8 847.2,194.7 849.8,193.0" fill="#3a9648"/>
<polygon points="849.9,192.6 850.5,190.6 852.7,190.1 855.2,190.2 857.1,192.2 857.0,194.6 857.5,197.4 854.9,198.0 852.7,197.6 851.0,196.1 850.4,194.4" fill="#8fc65e"/>
<polygon points="851.9,193.3 852.8,192.1 854.0,192.4 854.8,193.4 854.8,194.9 853.7,196.2 852.3,195.8 851.3,194.8" fill="#bcd873"/>
<circle cx="853.2" cy="194.1" r="1.1" fill="#f2cf72"/>
<polygon points="864.8,196.1 868.0,196.9 870.4,196.1 873.9,197.8 875.2,200.3 876.2,202.8 873.5,203.3 871.0,203.8 868.4,201.4 865.4,200.1 863.8,197.8" fill="#56aa4e"/>
<polygon points="867.1,197.9 868.3,196.2 868.0,194.5 869.6,193.2 871.4,194.1 873.2,194.6 873.9,196.1 873.2,197.6 872.6,199.5 870.5,198.7 869.2,198.4" fill="#bcd873"/>
<polygon points="890.7,193.1 892.6,193.1 893.9,193.7 893.7,195.1 892.8,196.4 891.9,198.1 889.9,198.3 888.4,198.0 887.3,197.2 888.4,195.7 888.6,194.1" fill="#8fc65e"/>
<polygon points="889.6,196.3 889.0,195.0 889.9,194.0 891.2,193.9 892.2,195.1 892.6,196.5 891.6,197.3 890.3,197.4" fill="#bcd873"/>
<polygon points="897.6,197.8 895.2,199.8 894.3,197.3 891.9,196.1 893.5,193.9 895.4,192.9 897.1,190.8 898.6,192.8 901.4,193.1 900.1,195.5 900.4,198.0" fill="#56aa4e"/>
<polygon points="924.0,203.9 921.6,206.2 919.4,205.6 917.6,203.6 917.8,199.5 918.8,196.0 920.4,193.0 922.8,191.2 923.9,194.4 924.8,196.6 925.7,200.1" fill="#56aa4e"/>
<polygon points="930.5,202.5 928.7,200.1 927.0,196.3 929.4,193.5 931.6,191.2 934.4,191.3 936.7,193.6 938.0,197.1 936.2,200.0 935.0,202.4 932.9,203.0" fill="#3a9648"/>
<polygon points="929.3,200.6 929.1,199.6 929.8,198.2 931.2,197.0 932.7,196.5 934.0,196.9 934.6,198.2 933.1,199.9 932.1,201.3 930.7,201.9 929.7,201.5" fill="#8fc65e"/>
<polygon points="973.9,196.3 976.7,198.8 979.1,201.4 977.1,204.6 975.9,207.7 972.5,209.3 968.3,209.6 965.8,206.7 965.8,203.1 968.5,200.9 969.9,197.5" fill="#3a9648"/>
<polygon points="842.9,204.8 841.0,204.5 840.2,202.9 837.8,201.0 840.2,198.8 842.3,197.2 845.2,196.4 846.2,198.9 847.2,200.6 847.4,203.1 845.1,204.5" fill="#8fc65e"/>
<polygon points="855.8,201.4 858.9,200.9 860.7,203.0 861.5,205.1 861.9,207.5 860.4,210.1 857.4,211.9 854.6,210.6 852.7,208.6 852.4,205.9 854.5,204.0" fill="#3a9648"/>
<polygon points="857.1,209.8 855.9,208.3 855.4,206.8 855.4,205.2 856.4,203.9 858.1,204.0 859.5,204.1 861.3,204.8 861.9,206.7 860.0,207.8 858.9,208.7" fill="#8fc65e"/>
<polygon points="859.3,205.4 859.7,206.3 859.1,207.4 857.9,207.8 856.8,207.4 856.4,206.3 857.2,205.3 858.4,204.8" fill="#bcd873"/>
<circle cx="858.1" cy="206.3" r="1.4" fill="#f2cf72"/>
<polygon points="872.4,207.5 874.3,209.0 875.8,211.1 876.8,213.7 875.6,215.1 874.6,216.5 872.6,216.2 871.0,214.1 869.5,211.8 870.7,210.3 870.7,208.0" fill="#56aa4e"/>
<polygon points="871.3,207.8 869.8,207.0 868.2,205.4 870.1,203.4 871.0,201.2 873.0,201.5 875.5,200.8 876.8,202.7 875.7,205.0 874.8,206.8 873.2,208.3" fill="#bcd873"/>
<polygon points="873.5,202.8 874.1,204.2 874.0,205.5 873.2,207.1 871.8,206.3 870.5,205.3 871.1,203.5 872.2,202.8" fill="#dcdf85"/>
<polygon points="877.2,206.0 879.7,204.7 881.3,203.8 882.8,203.8 884.4,204.6 884.0,207.7 882.3,210.8 880.1,211.4 878.3,212.2 877.0,211.5 876.8,209.1" fill="#56aa4e"/>
<polygon points="885.2,209.9 883.5,208.5 882.5,206.4 883.5,204.3 885.3,203.2 887.2,203.0 889.1,203.7 889.2,205.7 890.3,207.4 888.5,208.4 887.4,210.4" fill="#bcd873"/>
<polygon points="887.7,205.6 888.1,206.6 887.9,207.7 886.8,208.2 885.5,207.5 885.5,206.2 885.9,205.4 886.7,205.0" fill="#dcdf85"/>
<polygon points="914.4,205.9 912.7,208.0 911.0,209.1 909.0,210.5 906.8,208.7 903.8,206.6 906.1,203.9 906.3,201.0 908.6,199.3 911.1,201.2 913.8,202.7" fill="#3a9648"/>
<polygon points="897.5,199.8 899.0,198.5 901.3,196.7 902.7,199.2 904.1,201.3 902.8,203.6 901.6,205.4 899.7,205.6 896.9,207.1 896.5,203.9 896.0,201.6" fill="#8fc65e"/>
<polygon points="900.5,204.2 899.2,203.8 898.0,202.9 897.9,201.1 899.1,200.1 900.4,200.4 901.7,201.3 901.6,203.1" fill="#bcd873"/>
<polygon points="927.5,214.0 925.7,214.8 923.8,214.4 922.8,213.0 923.7,211.2 923.7,209.1 925.7,208.1 927.1,209.3 928.4,209.7 928.5,211.1 928.7,212.7" fill="#8fc65e"/>
<polygon points="924.9,210.7 925.7,210.1 926.6,210.3 927.2,211.1 927.6,212.4 926.6,213.0 925.6,213.0 925.1,211.9" fill="#bcd873"/>
<circle cx="926.2" cy="211.5" r="1.3" fill="#f2cf72"/>
<polygon points="952.2,207.0 950.6,206.4 949.8,205.3 949.0,204.0 949.3,202.3 951.1,201.9 952.5,201.2 954.6,201.0 955.1,202.8 955.5,204.7 953.4,205.5" fill="#bcd873"/>
<polygon points="973.8,216.4 970.8,219.3 967.4,218.6 963.5,219.8 961.7,217.9 965.1,214.8 965.8,212.1 969.3,210.5 972.4,210.3 974.1,211.6 973.6,213.9" fill="#3a9648"/>
<polygon points="972.4,210.8 971.0,211.6 969.7,211.8 968.6,210.9 967.3,210.2 967.3,208.7 967.0,206.8 968.5,206.3 970.0,206.4 970.9,207.8 971.5,209.0" fill="#8fc65e"/>
<polygon points="970.0,210.4 968.9,210.4 968.1,209.5 968.2,208.5 968.9,207.9 970.0,208.2 970.8,208.9 970.9,209.9" fill="#bcd873"/>
<circle cx="969.5" cy="209.2" r="1.3" fill="#f2cf72"/>
<polygon points="980.1,204.8 981.6,204.6 981.8,206.3 980.9,208.1 979.6,209.2 978.3,209.7 977.7,208.9 977.0,208.2 976.4,206.6 977.7,204.8 979.2,204.7" fill="#8fc65e"/>
<polygon points="838.5,221.4 835.9,222.2 833.1,222.2 831.7,220.0 832.0,217.3 832.9,214.5 836.1,214.9 838.3,213.9 840.2,214.9 841.5,216.9 839.5,219.0" fill="#3a9648"/>
<polygon points="837.2,217.0 840.6,216.9 843.8,217.2 846.2,219.1 846.3,221.9 844.8,224.4 841.4,224.9 838.8,224.5 836.3,223.8 835.1,221.8 835.6,219.4" fill="#8fc65e"/>
<polygon points="919.0,216.6 921.0,216.0 922.3,213.6 923.5,215.1 924.9,216.4 924.1,219.2 924.0,222.4 922.1,222.4 920.9,222.4 918.9,222.6 918.7,219.6" fill="#56aa4e"/>
<polygon points="921.1,234.1 917.6,233.4 919.1,230.1 918.9,226.9 922.0,226.0 924.8,225.5 926.9,227.1 927.6,229.4 928.4,232.2 927.0,235.4 923.4,235.2" fill="#bcd873"/>
<polygon points="922.4,228.6 924.1,228.3 925.9,228.8 926.3,230.8 924.6,232.5 922.5,232.9 920.8,231.9 920.6,229.9" fill="#dcdf85"/>
<polygon points="936.8,218.1 938.3,213.4 942.5,214.6 945.7,217.3 946.0,221.5 947.4,225.7 945.3,229.6 941.1,230.5 937.7,227.6 936.5,224.0 934.1,220.5" fill="#56aa4e"/>
<polygon points="956.8,223.8 957.7,226.9 955.9,229.5 954.8,233.6 952.6,233.6 950.2,232.9 949.3,229.0 950.9,225.1 952.4,223.0 954.0,219.7 956.2,220.3" fill="#3a9648"/>
<polygon points="954.2,223.5 951.8,221.4 948.6,220.0 948.2,216.6 950.2,214.5 952.5,214.0 954.6,214.7 957.3,215.1 959.1,217.8 957.3,219.9 956.6,222.2" fill="#8fc65e"/>
<polygon points="954.9,215.8 956.1,217.3 955.6,219.2 954.6,220.8 952.8,220.3 951.7,218.7 951.8,216.7 953.1,215.1" fill="#bcd873"/>
<polygon points="974.2,221.7 975.6,218.8 977.9,221.6 979.7,223.6 979.7,226.8 979.9,229.8 978.5,231.4 976.7,232.0 975.1,229.9 973.7,227.5 973.4,224.4" fill="#56aa4e"/>
<polygon points="971.5,221.9 973.7,223.2 976.3,224.0 976.9,227.3 976.5,230.3 973.9,230.6 972.2,231.0 970.0,230.7 968.1,228.4 968.8,225.6 969.2,222.7" fill="#bcd873"/>
<polygon points="975.2,210.8 979.2,212.7 982.5,212.6 984.4,215.6 986.5,218.2 985.8,220.3 983.7,221.7 979.9,220.1 976.0,218.5 975.0,215.5 972.6,212.1" fill="#3a9648"/>
<polygon points="976.5,222.8 973.4,221.3 973.0,217.9 972.1,215.3 972.5,211.9 975.6,211.1 979.0,210.7 981.1,213.9 981.0,217.0 981.4,220.0 979.6,222.5" fill="#8fc65e"/>
<polygon points="835.0,250.1 833.0,250.6 831.7,247.6 829.1,245.7 830.3,241.9 831.1,238.7 833.1,238.4 835.4,237.2 836.4,241.3 837.4,244.8 837.1,248.9" fill="#3a9648"/>
<polygon points="841.0,236.1 843.0,237.6 843.4,240.5 843.8,243.6 842.2,246.1 839.8,245.0 837.6,245.7 837.2,242.5 836.5,240.2 836.8,237.1 839.2,237.5" fill="#8fc65e"/>
<polygon points="931.2,246.5 928.1,247.2 925.2,246.6 922.0,245.1 922.9,241.5 922.9,238.8 924.5,236.7 927.2,235.2 930.7,236.2 932.3,239.9 931.1,242.9" fill="#56aa4e"/>
<polygon points="921.6,239.5 923.8,239.0 925.8,239.7 927.6,240.8 928.4,242.8 927.5,244.6 925.8,245.5 924.0,245.5 921.3,245.8 919.9,243.6 921.5,241.7" fill="#bcd873"/>
<polygon points="925.7,243.7 924.7,244.8 923.5,244.1 922.8,243.0 923.3,241.7 924.1,240.5 925.2,241.2 925.8,242.2" fill="#dcdf85"/>
<polygon points="931.5,247.5 929.5,246.8 929.8,244.9 931.2,242.9 934.1,241.7 936.3,242.4 939.1,242.2 938.4,244.1 939.1,245.9 935.9,246.7 933.8,247.5" fill="#56aa4e"/>
<polygon points="939.8,234.8 941.3,234.5 942.8,234.2 943.5,235.4 943.4,236.9 942.7,238.6 941.5,241.0 939.6,240.9 937.6,240.9 937.7,238.5 938.3,236.4" fill="#bcd873"/>
<polygon points="947.8,225.0 950.7,226.9 952.5,228.2 955.0,230.1 955.2,234.1 952.7,236.2 950.6,239.6 948.1,236.8 946.5,234.6 944.8,231.7 945.9,228.2" fill="#56aa4e"/>
<polygon points="963.0,231.7 963.3,233.4 964.3,235.8 962.2,237.2 960.4,237.7 958.6,237.6 957.3,236.2 956.5,234.0 958.1,231.9 959.9,231.0 961.5,231.2" fill="#56aa4e"/>
<polygon points="973.4,238.4 974.3,240.1 973.7,242.3 971.8,243.4 969.5,243.2 968.3,241.3 968.0,239.4 967.4,237.1 969.0,235.3 971.4,234.8 973.1,236.4" fill="#bcd873"/>
<polygon points="982.8,239.6 983.4,242.2 983.5,244.9 980.6,245.5 977.2,245.3 974.7,242.2 973.7,239.8 973.9,237.9 973.9,235.3 977.1,236.2 979.6,238.0" fill="#56aa4e"/>
<polygon points="982.7,245.8 981.2,246.9 979.4,246.5 977.2,246.3 976.7,244.6 977.8,243.0 979.8,242.4 981.6,241.3 983.1,242.2 984.5,243.1 983.8,244.7" fill="#bcd873"/>
<polygon points="982.7,244.9 981.5,245.8 980.2,245.5 978.7,245.1 979.3,243.7 980.4,243.0 981.6,242.8 982.3,243.7" fill="#dcdf85"/>
<circle cx="980.9" cy="244.2" r="1.3" fill="#f2cf72"/>
<polygon points="839.9,256.8 842.1,257.4 843.4,258.9 841.5,260.7 839.7,262.6 836.6,263.0 834.2,262.5 832.9,261.2 834.0,259.5 834.4,257.6 837.5,257.3" fill="#3a9648"/>
<polygon points="842.0,255.1 840.5,255.4 839.1,254.9 837.8,253.8 837.4,251.8 839.0,250.5 840.6,250.1 842.3,249.6 843.6,250.8 844.7,252.5 844.3,254.8" fill="#8fc65e"/>
<polygon points="844.2,244.6 844.5,242.8 846.0,242.2 848.2,243.1 850.5,244.3 852.0,246.6 851.0,248.0 850.5,249.1 849.2,250.2 846.8,249.0 845.8,246.6" fill="#3a9648"/>
<polygon points="937.4,255.4 938.5,257.4 938.6,259.6 936.9,260.7 935.1,261.5 932.8,261.0 931.0,259.3 931.1,257.0 932.7,255.9 933.6,254.4 935.7,253.7" fill="#bcd873"/>
<polygon points="954.3,255.8 953.9,253.0 955.4,250.9 957.2,250.3 957.9,252.8 959.3,254.0 957.8,256.5 957.5,259.3 955.9,259.6 954.5,259.7 953.0,258.8" fill="#56aa4e"/>
<polygon points="952.9,253.5 952.2,254.7 951.1,255.9 948.9,256.7 946.5,255.6 946.7,253.5 946.4,251.9 947.3,250.2 949.4,248.9 951.5,250.7 952.7,252.0" fill="#bcd873"/>
<polygon points="952.1,253.7 950.8,254.4 949.6,255.0 948.3,253.9 948.2,252.7 948.4,251.3 950.1,251.5 951.1,252.4" fill="#dcdf85"/>
<circle cx="949.8" cy="253.1" r="1.4" fill="#f2cf72"/>
<circle cx="949.8" cy="253.1" r="0.8" fill="#e8702e"/>
<polygon points="972.5,256.8 973.5,259.0 973.6,262.1 970.5,263.0 967.7,261.5 964.1,261.0 963.6,257.8 965.6,255.9 966.3,253.5 969.1,253.7 972.5,253.5" fill="#bcd873"/>
<polygon points="966.7,258.1 967.6,256.4 968.9,255.6 970.6,255.6 971.2,257.5 970.6,259.4 969.1,259.9 967.8,259.4" fill="#dcdf85"/>
<polygon points="976.9,250.3 976.8,246.6 979.0,243.0 983.8,245.0 988.5,243.4 990.0,247.3 990.2,250.6 989.6,254.3 985.4,255.0 982.1,254.2 979.7,252.5" fill="#56aa4e"/>
<polygon points="608.2,268.1 607.1,267.5 606.8,266.3 607.5,265.1 608.8,265.2 609.3,266.4 609.3,267.8" fill="#bcd873"/>
<polygon points="663.7,270.2 663.1,268.9 663.3,267.9 664.1,267.0 665.4,267.7 665.3,269.0 665.0,270.1" fill="#bcd873"/>
<polygon points="874.3,272.2 875.7,275.2 872.4,277.1 870.3,278.3 867.6,279.3 865.5,277.5 862.8,275.7 863.1,272.8 864.6,269.8 868.5,270.6 871.6,270.4" fill="#3a9648"/>
<polygon points="870.5,262.5 873.7,260.8 876.4,262.0 877.2,264.8 876.5,267.7 874.8,269.7 872.8,272.1 870.5,271.4 867.5,271.3 868.4,267.9 868.9,265.4" fill="#8fc65e"/>
<polygon points="874.7,267.0 873.9,268.4 872.4,269.2 870.5,269.1 869.7,267.4 870.6,265.7 872.5,264.7 874.2,265.5" fill="#bcd873"/>
<polygon points="898.2,272.6 897.6,276.3 893.9,276.3 890.6,275.8 889.3,273.0 889.1,270.3 888.8,267.1 891.4,264.4 895.2,264.8 898.4,266.4 897.8,270.0" fill="#8fc65e"/>
<polygon points="891.4,272.4 890.8,270.7 891.6,268.8 893.9,268.7 896.3,268.9 896.8,270.9 895.6,272.7 893.4,273.1" fill="#bcd873"/>
<polygon points="903.9,265.8 903.5,262.0 905.3,259.3 907.8,258.8 910.0,259.8 911.4,261.7 912.4,263.8 913.0,266.9 911.3,269.1 908.8,270.4 906.9,267.3" fill="#8fc65e"/>
<polygon points="922.2,275.1 920.7,277.3 918.2,277.3 915.9,277.9 915.1,275.5 914.3,273.8 914.8,272.0 916.0,270.5 917.9,269.7 919.6,270.9 921.1,272.5" fill="#8fc65e"/>
<polygon points="917.2,275.9 916.1,274.5 915.1,273.1 916.3,272.1 917.8,271.8 919.4,272.6 919.3,274.2 919.0,275.7" fill="#bcd873"/>
<polygon points="928.1,283.3 925.3,282.3 923.9,279.7 924.2,276.7 926.5,274.0 929.9,275.1 933.5,273.3 935.8,275.5 934.6,278.7 933.9,281.3 931.4,283.6" fill="#3a9648"/>
<polygon points="933.4,275.8 932.7,277.3 931.9,278.9 930.1,278.9 928.7,277.7 926.3,276.6 926.2,274.1 927.8,272.5 929.6,271.4 931.7,272.2 933.0,274.0" fill="#8fc65e"/>
<polygon points="955.6,272.6 953.1,275.1 949.7,276.1 946.5,275.4 945.8,272.4 946.6,269.8 947.2,266.7 950.4,265.9 952.7,266.7 954.3,267.8 957.3,269.4" fill="#56aa4e"/>
<polygon points="973.1,265.3 975.2,265.9 976.1,268.0 978.0,270.1 975.9,271.0 975.3,273.2 973.0,271.9 971.6,270.4 969.8,268.9 969.0,266.3 971.1,265.4" fill="#bcd873"/>
<polygon points="975.4,267.6 975.1,269.4 974.7,270.8 973.3,270.6 972.0,269.9 971.4,268.2 972.4,266.9 973.9,266.7" fill="#dcdf85"/>
<circle cx="973.5" cy="268.9" r="1.4" fill="#f2cf72"/>
<polygon points="980.3,270.0 977.3,268.5 975.1,265.9 974.9,262.4 975.6,259.0 978.9,259.3 981.5,257.4 982.7,261.0 986.0,262.7 983.8,265.5 982.3,267.1" fill="#56aa4e"/>
<polygon points="986.3,273.0 984.2,273.4 981.8,273.4 979.4,271.7 979.2,268.8 980.8,266.6 983.3,266.5 985.5,265.4 987.9,266.7 989.0,269.2 987.2,271.2" fill="#bcd873"/>
<polygon points="985.8,267.8 986.4,269.6 985.7,271.3 984.2,271.9 982.8,271.5 982.4,269.8 983.1,268.4 984.3,267.4" fill="#dcdf85"/>
<polygon points="826.6,287.0 825.7,289.4 822.9,290.7 819.7,290.1 817.4,288.2 814.6,285.9 815.7,282.9 818.8,281.5 822.1,280.9 825.5,281.9 827.2,284.4" fill="#3a9648"/>
<polygon points="828.8,284.8 829.4,286.8 829.4,288.8 829.0,291.2 827.4,293.2 825.3,292.8 824.5,290.4 823.4,288.5 824.5,286.4 825.3,283.9 827.4,282.1" fill="#8fc65e"/>
<polygon points="827.9,286.3 828.8,287.6 828.4,289.3 827.1,290.1 825.6,290.0 824.7,288.6 825.3,286.9 826.5,285.6" fill="#bcd873"/>
<polygon points="847.8,292.1 849.0,294.2 851.5,297.5 846.6,298.8 843.4,299.6 840.5,298.8 838.4,297.2 838.4,294.7 838.4,291.7 841.9,289.9 846.2,289.0" fill="#3a9648"/>
<polygon points="840.2,288.9 838.4,289.5 836.4,290.5 834.8,288.3 834.1,286.1 834.9,284.2 835.7,282.5 837.4,281.8 839.6,281.9 841.1,284.2 839.9,286.5" fill="#8fc65e"/>
<polygon points="835.8,285.8 835.7,284.2 837.1,283.6 838.4,284.6 839.1,285.8 838.8,287.1 837.7,287.6 836.5,287.0" fill="#bcd873"/>
<circle cx="837.5" cy="285.8" r="1.4" fill="#f2cf72"/>
<circle cx="837.5" cy="285.8" r="0.8" fill="#e8702e"/>
<polygon points="861.4,291.9 860.8,295.0 858.4,291.8 855.8,290.3 855.5,287.2 854.4,283.6 856.9,283.5 858.8,283.3 860.6,285.9 862.6,288.1 862.3,290.5" fill="#3a9648"/>
<polygon points="853.1,285.9 852.4,284.5 852.1,282.3 854.3,282.2 856.1,280.9 857.9,282.0 857.5,284.2 858.2,285.9 856.7,286.9 855.3,287.1 853.3,288.2" fill="#8fc65e"/>
<polygon points="859.7,278.0 861.4,275.5 864.2,274.8 867.4,275.1 868.7,278.6 871.5,281.9 868.5,284.0 867.8,288.7 864.0,286.9 861.0,284.9 859.5,281.4" fill="#56aa4e"/>
<polygon points="877.6,288.1 878.0,285.8 877.6,283.4 880.1,281.9 882.1,281.3 883.2,282.3 885.5,282.5 884.3,284.9 883.5,287.1 881.5,287.4 879.4,289.0" fill="#56aa4e"/>
<polygon points="911.6,286.9 909.3,287.4 907.1,289.2 905.0,287.7 904.3,285.3 905.1,283.0 906.4,281.1 908.5,279.2 910.4,281.0 912.9,281.8 912.7,284.5" fill="#56aa4e"/>
<polygon points="896.7,288.6 897.0,285.7 900.0,285.0 902.9,285.1 905.6,286.5 907.7,288.9 906.9,291.4 904.6,292.3 902.7,292.8 900.3,292.6 897.4,291.3" fill="#bcd873"/>
<polygon points="928.0,288.3 929.0,291.2 926.6,293.5 926.0,296.8 922.8,296.9 921.1,294.8 920.1,293.1 919.2,291.0 919.7,288.1 922.6,287.5 925.7,286.1" fill="#8fc65e"/>
<polygon points="924.6,289.6 925.5,291.0 925.0,292.7 923.8,293.8 922.4,293.6 921.4,292.5 921.6,290.7 923.0,289.9" fill="#bcd873"/>
<polygon points="931.3,296.3 930.1,292.9 929.0,290.7 928.3,287.9 929.3,285.3 932.0,287.6 934.2,287.7 936.2,290.2 936.7,293.3 936.0,295.9 933.8,296.4" fill="#56aa4e"/>
<polygon points="939.9,289.1 938.0,287.5 937.4,284.3 939.2,283.0 940.8,282.6 942.7,282.0 944.3,284.3 944.9,287.3 944.6,290.1 942.6,290.2 941.2,291.3" fill="#bcd873"/>
<polygon points="957.8,297.1 954.8,295.0 953.1,292.9 952.8,290.2 952.6,287.1 955.0,285.1 957.7,282.9 960.0,284.9 962.5,286.8 961.0,290.3 960.0,293.3" fill="#56aa4e"/>
<polygon points="964.7,282.3 964.8,284.7 965.0,288.2 961.3,289.3 958.0,288.6 954.9,287.3 953.7,284.2 956.6,282.0 958.2,280.3 960.7,280.0 963.6,279.9" fill="#bcd873"/>
<polygon points="960.8,280.9 962.5,281.9 962.5,283.9 961.8,286.1 959.7,286.4 958.5,285.2 957.8,283.7 959.1,282.2" fill="#dcdf85"/>
<circle cx="960.2" cy="283.8" r="1.4" fill="#f2cf72"/>
<circle cx="960.2" cy="283.8" r="0.8" fill="#e8702e"/>
<polygon points="972.8,289.9 972.3,292.3 972.8,295.2 969.8,295.9 967.2,294.1 965.3,293.1 962.5,291.2 963.1,288.7 965.6,287.8 967.9,287.7 970.3,288.2" fill="#bcd873"/>
<polygon points="966.4,292.0 966.5,290.4 967.3,288.7 969.0,289.0 969.7,290.5 969.9,292.2 968.7,293.3 967.3,293.3" fill="#dcdf85"/>
<polygon points="987.5,291.3 984.2,292.6 981.4,290.1 982.5,286.2 981.2,282.4 984.4,280.7 987.5,279.5 990.7,280.8 993.1,283.8 990.8,287.3 990.5,290.7" fill="#56aa4e"/>
<polygon points="987.0,287.5 984.1,287.3 982.0,288.1 980.5,286.5 978.8,285.3 979.5,283.7 980.0,282.0 982.3,281.1 985.0,281.9 986.8,283.5 986.8,285.4" fill="#bcd873"/>
<polygon points="989.6,288.4 992.2,288.3 993.6,290.5 995.1,292.8 993.9,294.6 992.0,295.8 989.1,294.5 987.6,292.4 985.1,290.7 985.9,288.9 987.8,288.5" fill="#56aa4e"/>
<polygon points="824.2,312.0 823.4,316.4 820.7,312.4 817.5,312.1 816.9,307.9 816.5,303.7 818.3,300.8 821.2,301.3 824.1,302.5 825.7,306.4 826.0,310.1" fill="#3a9648"/>
<polygon points="826.1,300.2 825.3,301.6 824.0,303.3 821.8,303.4 820.9,301.8 820.5,300.4 821.0,298.9 822.0,297.4 823.8,297.0 826.2,296.6 827.3,298.3" fill="#8fc65e"/>
<polygon points="822.2,298.2 823.5,298.1 824.7,299.0 824.9,300.3 824.4,301.3 823.3,301.9 821.9,301.1 821.5,299.5" fill="#bcd873"/>
<polygon points="876.5,294.0 877.5,296.4 876.9,299.0 876.0,302.3 873.3,303.1 871.0,302.1 869.2,300.2 869.4,297.2 870.4,294.5 872.1,291.5 875.4,289.7" fill="#56aa4e"/>
<polygon points="872.4,296.0 872.9,293.9 874.5,292.5 876.5,292.0 878.5,292.5 879.6,294.3 880.3,296.3 880.4,299.3 877.6,300.7 874.7,300.4 872.1,298.9" fill="#bcd873"/>
<polygon points="874.7,295.0 875.7,294.0 877.1,293.3 878.0,294.6 877.9,296.2 877.1,297.6 875.7,297.6 874.8,296.5" fill="#dcdf85"/>
<polygon points="883.0,305.6 885.0,303.7 887.0,303.3 888.0,304.8 887.6,307.2 888.3,309.9 885.8,311.0 884.3,312.1 882.6,312.5 880.8,311.6 881.8,308.4" fill="#56aa4e"/>
<polygon points="882.4,308.2 883.0,304.9 884.0,302.9 884.7,300.1 887.4,301.2 890.0,300.8 892.4,302.7 891.2,305.5 890.0,307.5 888.0,308.6 885.4,309.2" fill="#bcd873"/>
<polygon points="903.7,303.4 903.7,299.7 905.6,299.0 907.0,301.9 908.0,304.1 909.2,307.1 908.3,309.6 907.2,312.3 905.2,311.9 903.7,309.1 903.3,305.8" fill="#56aa4e"/>
<polygon points="904.7,308.4 904.9,310.3 903.7,311.1 902.9,313.3 901.2,311.4 898.9,310.9 899.7,308.5 900.1,307.2 900.7,305.7 902.3,305.6 904.3,305.9" fill="#bcd873"/>
<polygon points="911.6,292.0 913.8,290.8 917.0,292.7 919.9,295.0 920.4,298.0 921.0,300.6 919.9,302.2 917.3,301.4 915.1,299.9 913.7,297.7 911.5,294.9" fill="#3a9648"/>
<polygon points="919.6,305.8 918.1,308.8 916.1,307.4 914.6,306.7 914.0,304.8 913.9,302.1 915.8,300.2 917.8,298.8 920.3,298.3 920.4,301.4 921.5,303.5" fill="#8fc65e"/>
<polygon points="919.4,302.8 920.1,304.4 918.8,305.9 916.6,305.7 914.8,304.6 914.5,302.7 916.1,301.4 918.2,301.3" fill="#bcd873"/>
<polygon points="948.6,306.1 946.9,307.6 944.6,306.8 942.2,305.8 941.4,302.5 941.6,300.2 942.4,298.6 943.5,296.8 945.4,299.1 948.2,299.7 947.6,302.8" fill="#bcd873"/>
<polygon points="942.7,304.2 942.3,302.4 942.9,300.4 944.8,299.3 946.3,300.2 947.3,301.8 946.2,303.7 944.5,305.0" fill="#dcdf85"/>
<circle cx="944.6" cy="302.1" r="1.3" fill="#f2cf72"/>
<polygon points="951.6,296.4 952.9,297.5 954.8,298.5 955.4,301.4 954.9,303.6 953.6,304.2 952.3,304.1 950.8,303.2 948.9,301.1 949.9,298.7 950.5,297.1" fill="#3a9648"/>
<polygon points="966.7,300.2 969.9,298.5 973.2,297.6 975.8,300.5 977.6,302.7 979.3,305.6 977.6,308.0 975.5,310.2 972.3,309.1 968.8,307.7 968.3,304.2" fill="#3a9648"/>
<polygon points="984.4,303.1 986.9,301.6 988.8,301.1 990.5,301.4 992.7,301.7 994.0,303.9 992.7,306.1 992.1,309.1 989.4,307.8 986.5,308.7 984.7,306.2" fill="#8fc65e"/>
<polygon points="987.8,303.3 989.1,302.5 990.8,302.7 991.7,303.9 991.0,305.1 990.0,306.2 988.4,305.7 987.2,304.7" fill="#bcd873"/>
<polygon points="1003.2,296.1 1002.2,298.2 1001.3,300.1 999.4,301.8 997.4,301.4 996.4,300.2 995.6,298.9 996.1,296.8 997.8,295.0 999.8,295.2 1001.2,295.5" fill="#8fc65e"/>
<polygon points="610.5,315.0 609.9,316.1 608.7,316.7 607.8,315.8 607.4,314.8 608.3,313.9 609.5,314.2" fill="#bcd873"/>
<circle cx="608.8" cy="315.2" r="0.9" fill="#f0a450"/>
<polygon points="782.6,320.9 783.7,322.9 781.6,325.3 780.3,326.9 778.5,328.5 777.4,327.1 775.6,326.4 775.2,323.4 777.2,320.5 779.5,320.5 781.6,319.1" fill="#56aa4e"/>
<polygon points="791.3,325.1 791.9,326.1 791.3,327.0 790.1,327.0 789.3,326.1 789.2,325.1 790.3,324.8" fill="#bcd873"/>
<polygon points="803.2,321.3 800.3,322.7 796.9,322.7 795.2,320.9 796.0,318.4 798.6,316.7 801.4,316.3 803.9,315.7 805.5,316.7 807.8,317.9 805.2,319.9" fill="#bcd873"/>
<polygon points="836.8,326.6 833.5,326.9 833.3,324.1 833.0,321.6 835.2,319.7 837.6,317.4 839.7,319.7 843.0,319.7 841.7,322.5 842.6,325.3 839.7,327.1" fill="#bcd873"/>
<polygon points="839.0,325.0 837.2,324.9 836.2,323.3 835.7,321.6 836.8,320.5 838.5,320.8 839.8,321.9 840.5,323.9" fill="#dcdf85"/>
<circle cx="837.9" cy="322.7" r="1.0" fill="#f2cf72"/>
<polygon points="854.7,326.6 852.8,323.6 855.4,320.6 855.3,317.3 858.6,315.2 862.7,315.4 863.8,318.8 866.7,321.1 865.5,324.5 862.1,326.2 858.6,326.8" fill="#56aa4e"/>
<polygon points="857.2,312.6 857.8,315.8 858.0,318.1 858.4,321.6 855.2,321.0 853.1,320.8 850.1,320.1 850.4,317.0 849.6,313.9 851.3,311.2 854.4,311.8" fill="#bcd873"/>
<polygon points="864.7,307.7 868.2,308.2 870.5,312.1 873.0,314.8 874.5,319.0 872.5,321.6 869.9,323.6 866.3,321.2 864.1,317.6 863.7,314.2 863.5,310.9" fill="#56aa4e"/>
<polygon points="867.4,313.6 867.8,312.1 869.5,312.2 870.9,312.4 872.5,312.9 873.0,314.5 871.8,315.6 871.3,317.2 869.4,317.6 867.7,316.7 867.0,315.1" fill="#bcd873"/>
<polygon points="869.4,313.1 870.2,313.2 870.8,313.8 871.1,314.9 870.4,315.8 869.4,315.9 868.9,315.0 868.8,314.0" fill="#dcdf85"/>
<circle cx="869.9" cy="314.4" r="1.4" fill="#f2cf72"/>
<circle cx="869.9" cy="314.4" r="0.8" fill="#e8702e"/>
<polygon points="884.7,318.1 883.2,320.4 880.9,322.6 877.9,322.1 875.9,319.4 876.4,316.0 875.6,311.7 878.9,309.6 882.2,310.1 885.3,311.3 886.7,314.8" fill="#56aa4e"/>
<polygon points="877.9,320.6 878.3,318.3 881.3,317.4 883.7,319.5 887.4,319.7 886.8,322.1 887.2,324.5 883.6,324.4 881.3,325.4 878.0,324.8 878.6,322.3" fill="#bcd873"/>
<polygon points="883.6,319.9 884.7,321.3 884.0,322.8 882.5,323.4 880.8,323.4 879.3,322.4 880.3,320.8 881.7,320.0" fill="#dcdf85"/>
<polygon points="901.8,315.6 904.0,314.0 906.5,313.4 907.9,314.6 909.7,315.8 908.0,317.9 907.4,320.5 904.6,321.7 902.6,320.6 901.5,319.3 900.8,317.7" fill="#56aa4e"/>
<polygon points="905.2,327.5 903.0,328.0 900.5,326.5 899.4,323.2 900.7,320.4 902.5,318.5 904.8,318.8 907.5,318.9 908.0,322.1 909.1,325.0 907.3,327.0" fill="#bcd873"/>
<polygon points="902.8,323.6 902.8,321.7 904.3,320.7 905.8,321.5 907.0,323.0 906.4,325.1 904.7,326.3 903.2,325.2" fill="#dcdf85"/>
<polygon points="918.6,314.0 921.1,318.3 919.2,320.7 916.7,321.2 914.1,319.4 912.4,316.2 909.6,312.4 911.8,310.2 912.9,307.6 915.5,308.8 917.5,311.1" fill="#3a9648"/>
<polygon points="918.3,312.9 919.9,313.3 922.0,313.1 922.4,315.0 923.6,316.8 922.4,318.3 920.5,318.5 918.3,318.6 917.4,316.6 916.1,315.1 917.1,313.7" fill="#8fc65e"/>
<polygon points="921.0,315.7 920.7,316.9 919.6,317.3 918.5,316.4 918.1,315.0 918.8,314.0 919.9,313.7 920.8,314.6" fill="#bcd873"/>
<polygon points="935.2,318.6 935.4,314.6 938.4,311.8 941.7,314.1 944.3,315.8 946.6,318.8 945.5,322.8 942.4,324.1 939.8,326.9 937.5,323.9 934.0,322.5" fill="#56aa4e"/>
<polygon points="949.3,321.2 949.5,318.9 951.8,316.9 954.4,314.9 958.0,314.1 959.0,316.0 959.2,317.5 960.1,319.1 957.4,320.7 954.7,322.0 952.4,321.4" fill="#56aa4e"/>
<polygon points="956.2,317.9 958.4,319.8 960.0,322.7 957.6,323.8 955.1,323.9 952.8,322.2 949.7,321.0 948.2,318.1 949.2,316.0 951.9,316.0 954.2,315.5" fill="#bcd873"/>
<polygon points="969.8,325.3 967.4,325.1 965.3,324.6 964.1,323.0 966.0,320.3 969.5,318.1 973.1,317.6 975.3,318.5 974.9,320.4 974.9,322.2 972.3,323.7" fill="#56aa4e"/>
<polygon points="970.5,315.4 972.6,317.0 974.3,318.7 975.2,320.7 973.8,322.1 971.5,323.4 968.0,322.0 964.7,320.1 965.0,317.6 964.5,315.1 966.9,313.7" fill="#bcd873"/>
<polygon points="981.4,322.9 981.0,326.0 978.4,328.2 975.3,328.7 973.0,327.8 969.0,327.7 968.3,324.3 972.3,322.3 974.0,319.5 977.5,318.8 980.4,320.1" fill="#56aa4e"/>
<polygon points="983.6,321.9 982.0,320.4 980.7,317.6 983.8,316.8 985.6,315.8 987.8,316.0 990.2,317.3 989.8,319.9 989.9,322.5 987.3,323.1 985.2,323.3" fill="#bcd873"/>
<polygon points="999.9,311.4 1001.9,311.5 1001.4,313.3 1001.4,315.0 999.2,315.7 997.6,316.3 996.0,316.2 995.0,315.2 995.0,313.5 996.4,311.9 998.4,311.7" fill="#bcd873"/>
<polygon points="997.6,315.2 996.7,314.4 997.2,313.2 998.0,312.0 999.2,312.4 1000.2,313.1 999.8,314.4 998.8,315.5" fill="#dcdf85"/>
<circle cx="998.4" cy="313.8" r="1.5" fill="#f2cf72"/>
<circle cx="998.4" cy="313.8" r="0.8" fill="#e8702e"/>
<polygon points="775.9,336.3 773.7,334.5 775.2,330.6 776.7,327.3 779.3,326.8 781.8,325.6 784.6,326.2 784.5,330.1 782.4,333.4 780.6,336.6 778.1,336.8" fill="#8fc65e"/>
<polygon points="780.1,331.4 778.7,331.8 778.0,330.8 777.9,329.7 778.9,329.2 780.2,329.1 780.6,330.2" fill="#bcd873"/>
<polygon points="801.9,329.9 803.2,330.2 803.7,331.4 803.5,332.6 802.2,332.9 801.1,331.9 800.8,330.5" fill="#bcd873"/>
<polygon points="824.6,323.4 827.2,321.1 830.3,321.7 833.7,322.4 833.2,326.4 832.8,329.0 832.6,333.2 829.1,334.1 826.2,332.5 824.0,330.2 823.8,326.8" fill="#bcd873"/>
<polygon points="831.7,327.7 831.0,330.0 828.8,330.4 827.2,328.9 826.3,326.9 827.1,324.8 829.1,324.9 831.0,325.6" fill="#dcdf85"/>
<polygon points="834.7,342.6 836.0,338.7 838.5,335.8 841.9,334.5 844.5,337.0 847.0,339.5 847.3,343.6 844.0,345.7 841.9,348.3 838.4,349.1 836.2,346.1" fill="#56aa4e"/>
<polygon points="858.9,329.8 856.7,332.8 853.9,334.2 851.4,335.0 849.8,334.1 848.9,332.6 848.6,330.4 850.8,328.4 853.1,325.7 856.4,325.2 857.5,327.7" fill="#8fc65e"/>
<polygon points="864.7,341.2 861.7,341.3 859.7,340.9 857.9,340.1 858.1,338.3 857.5,336.0 860.8,335.4 863.3,334.4 866.1,334.7 866.7,336.8 865.1,338.7" fill="#dcdf85"/>
<polygon points="872.3,329.6 874.1,325.9 877.9,326.1 881.2,328.3 882.4,332.4 880.3,335.8 878.4,338.0 875.7,339.6 872.2,339.4 871.0,335.6 869.5,332.0" fill="#56aa4e"/>
<polygon points="880.3,337.3 884.0,337.9 886.4,337.6 888.7,339.0 890.0,341.3 890.8,344.2 888.4,345.9 885.5,346.4 883.0,344.9 881.8,342.7 880.5,340.5" fill="#56aa4e"/>
<polygon points="888.3,334.8 889.7,335.0 890.6,336.0 890.7,337.3 891.2,339.5 889.3,340.7 887.3,339.9 885.2,339.6 884.6,337.7 885.6,336.0 886.6,334.6" fill="#bcd873"/>
<polygon points="887.1,336.3 888.2,335.8 889.4,335.6 889.7,336.8 889.5,338.0 888.3,338.3 887.1,338.4 886.9,337.4" fill="#dcdf85"/>
<circle cx="888.2" cy="337.1" r="1.2" fill="#f2cf72"/>
<polygon points="899.5,339.1 897.5,337.5 900.7,335.4 902.8,333.0 906.3,333.2 911.0,332.2 909.8,335.2 911.0,337.2 907.7,339.1 904.5,339.7 901.9,339.7" fill="#56aa4e"/>
<polygon points="914.1,338.6 912.1,339.4 910.1,339.4 908.2,338.9 905.6,338.1 905.1,336.2 906.0,335.0 906.8,333.8 909.0,333.9 911.5,334.6 913.3,336.4" fill="#bcd873"/>
<polygon points="907.3,325.5 909.4,323.6 912.0,324.3 913.7,326.5 915.3,328.4 916.4,331.4 916.1,335.1 912.8,333.8 910.8,333.9 908.2,332.6 908.3,329.2" fill="#3a9648"/>
<polygon points="920.5,329.6 922.1,330.8 923.7,332.5 923.3,333.9 922.1,334.4 921.1,335.7 919.3,333.7 917.5,332.6 916.9,330.9 917.7,329.9 918.9,329.5" fill="#8fc65e"/>
<polygon points="918.2,331.4 919.2,330.2 920.5,330.2 921.6,331.1 921.8,332.6 921.2,333.8 919.8,334.3 918.5,333.2" fill="#bcd873"/>
<circle cx="920.2" cy="332.1" r="1.5" fill="#f2cf72"/>
<circle cx="920.2" cy="332.1" r="0.8" fill="#e8702e"/>
<polygon points="928.0,330.4 929.6,328.6 931.8,329.7 934.3,330.3 934.7,333.0 933.0,334.7 931.8,335.8 930.1,336.4 928.6,335.5 926.2,334.5 927.4,332.3" fill="#bcd873"/>
<polygon points="952.1,330.2 953.2,333.9 951.8,336.6 950.4,338.3 948.7,341.1 946.6,337.8 944.0,336.3 944.6,333.2 943.9,329.3 947.0,329.8 949.4,327.6" fill="#bcd873"/>
<polygon points="969.0,323.6 970.8,323.2 972.4,324.8 974.4,326.7 972.8,328.3 972.1,329.7 970.3,331.1 968.0,329.4 966.7,327.4 966.6,325.4 966.8,323.4" fill="#56aa4e"/>
<polygon points="977.5,337.9 980.1,336.5 981.9,335.4 983.8,335.1 986.7,334.9 986.8,337.6 984.7,340.2 982.4,342.7 979.7,342.8 978.8,341.0 978.1,339.8" fill="#56aa4e"/>
<polygon points="993.0,339.0 995.0,337.0 997.4,335.9 1000.2,334.9 1003.7,336.1 1004.5,338.8 1004.9,341.2 1002.4,342.4 1000.5,344.6 997.5,342.8 995.6,341.1" fill="#56aa4e"/>
<polygon points="796.1,353.2 794.5,354.3 793.7,352.5 794.5,350.2 794.9,348.7 795.6,346.7 796.9,346.6 797.7,347.8 797.9,349.4 798.2,351.3 797.5,353.6" fill="#56aa4e"/>
<polygon points="800.6,343.7 803.4,342.0 805.1,343.1 806.5,343.9 805.2,345.5 804.3,347.0 801.9,348.1 799.8,348.0 796.4,348.6 796.3,346.8 798.6,345.0" fill="#8fc65e"/>
<polygon points="803.6,344.6 803.7,345.9 803.2,347.3 801.4,347.7 800.3,346.5 799.5,345.2 800.8,344.2 802.4,343.4" fill="#bcd873"/>
<polygon points="860.5,339.5 862.7,339.5 864.6,341.1 867.6,342.5 868.2,346.2 866.7,348.5 864.4,349.0 862.4,348.1 860.1,347.2 860.1,344.3 859.3,341.6" fill="#56aa4e"/>
<polygon points="882.6,350.8 881.4,353.4 878.8,355.6 875.5,356.8 874.5,354.2 872.9,352.7 874.8,350.3 876.3,348.3 878.5,347.6 881.9,345.8 883.7,347.7" fill="#8fc65e"/>
<polygon points="875.4,351.1 875.7,348.8 877.7,348.6 879.2,349.4 880.1,351.0 879.8,352.8 878.3,353.3 876.5,353.1" fill="#bcd873"/>
<polygon points="895.4,349.6 895.1,352.2 894.0,353.7 892.7,355.8 890.7,354.4 889.2,351.7 889.0,348.6 889.9,346.3 890.9,343.7 893.0,345.1 894.2,347.4" fill="#3a9648"/>
<polygon points="903.5,357.9 904.9,355.1 904.4,353.0 906.2,350.7 908.9,351.5 912.1,350.3 912.9,352.6 913.8,355.0 911.6,357.5 908.8,359.2 906.0,358.9" fill="#3a9648"/>
<polygon points="908.1,351.1 909.7,353.5 910.8,356.1 908.1,357.1 906.8,359.4 903.6,358.8 902.2,356.1 900.7,354.2 899.2,351.0 902.1,349.7 905.2,348.7" fill="#8fc65e"/>
<polygon points="902.5,355.2 902.7,352.9 904.4,352.2 906.1,352.2 907.3,353.8 907.3,355.7 906.3,357.4 904.2,356.8" fill="#bcd873"/>
<polygon points="929.4,348.5 931.1,350.1 929.9,352.2 928.6,354.4 925.6,354.2 922.2,355.1 921.8,352.5 920.5,350.6 921.4,348.0 924.8,347.7 927.5,347.2" fill="#dcdf85"/>
<polygon points="949.1,366.0 946.0,365.4 943.0,362.3 942.4,357.7 943.5,354.3 945.5,352.5 948.1,352.7 950.7,354.3 951.5,358.0 953.2,361.9 951.5,364.7" fill="#bcd873"/>
<polygon points="949.2,345.5 948.3,342.7 949.9,339.7 950.8,337.3 952.7,335.7 955.2,334.6 956.1,337.3 957.2,339.4 956.2,342.4 954.4,345.3 951.8,345.7" fill="#8fc65e"/>
<polygon points="965.0,358.5 965.7,355.3 965.8,351.9 968.6,351.4 970.5,351.3 972.2,352.2 973.0,354.4 972.5,357.0 971.5,359.9 969.1,361.3 966.8,360.5" fill="#bcd873"/>
<polygon points="980.1,334.4 983.1,335.8 982.8,338.4 982.3,340.5 980.2,341.8 977.5,343.7 974.4,342.1 972.5,339.8 971.5,337.0 972.6,333.8 977.0,334.3" fill="#56aa4e"/>
<polygon points="977.5,350.0 976.1,348.6 976.9,347.0 976.9,345.0 978.5,345.4 979.7,346.1 981.2,346.7 981.9,348.7 981.2,350.3 980.0,350.9 978.8,350.5" fill="#bcd873"/>
<polygon points="986.3,342.8 988.3,341.6 990.8,340.0 994.1,341.9 998.8,343.0 998.2,345.8 996.1,347.4 993.8,348.5 990.2,349.0 987.7,346.7 985.7,344.8" fill="#56aa4e"/>
<polygon points="997.3,354.4 995.2,354.1 993.6,352.5 993.1,350.9 992.2,349.0 993.7,348.3 995.3,347.9 997.0,349.1 998.5,350.3 998.2,351.8 998.7,353.7" fill="#bcd873"/>
<polygon points="994.5,351.9 994.2,350.5 994.8,349.3 996.1,349.2 997.1,350.1 997.4,351.6 996.7,352.7 995.5,352.5" fill="#dcdf85"/>
<circle cx="995.8" cy="351.0" r="1.2" fill="#f2cf72"/>
<polygon points="789.2,370.1 790.2,369.9 791.2,370.6 791.2,372.1 790.1,372.4 789.1,372.0 788.6,371.0" fill="#bcd873"/>
<circle cx="789.8" cy="371.2" r="0.9" fill="#f0a450"/>
<polygon points="795.7,373.7 795.4,371.0 798.3,369.9 800.7,368.5 803.6,368.1 803.6,371.1 804.1,373.6 802.6,377.1 799.2,378.4 796.9,377.3 795.7,375.8" fill="#8fc65e"/>
<polygon points="797.0,371.7 798.6,370.5 800.4,370.8 801.7,372.2 801.7,374.4 800.0,375.4 798.2,375.4 796.8,374.0" fill="#bcd873"/>
<polygon points="824.6,368.7 827.4,371.1 829.1,375.6 826.3,379.4 822.3,379.1 819.4,379.4 814.8,379.2 815.5,374.3 815.2,370.2 818.4,368.2 821.7,365.0" fill="#3a9648"/>
<polygon points="820.0,364.0 822.2,365.9 823.9,368.1 823.7,370.2 822.9,371.5 821.6,372.8 819.4,371.6 818.2,369.4 815.9,367.3 815.8,364.7 817.4,363.2" fill="#8fc65e"/>
<polygon points="843.6,367.1 845.9,369.6 844.0,371.5 841.5,372.3 838.7,372.0 834.7,372.0 833.9,369.1 833.3,366.7 835.4,365.3 837.8,363.9 841.1,365.2" fill="#8fc65e"/>
<polygon points="858.3,364.3 861.0,364.2 861.5,365.9 860.7,367.4 859.6,368.8 857.5,369.3 855.2,369.6 852.7,368.9 853.1,366.9 853.3,365.0 856.2,364.7" fill="#8fc65e"/>
<polygon points="865.9,366.3 864.5,362.9 863.8,359.3 865.7,357.9 867.5,357.5 869.3,359.2 871.5,360.5 872.5,363.7 872.0,366.4 870.8,368.8 868.3,367.9" fill="#3a9648"/>
<polygon points="873.6,369.7 871.1,370.7 868.6,369.5 865.9,368.6 864.5,365.7 867.2,363.8 868.8,362.7 870.7,361.9 873.2,362.3 874.3,364.7 875.2,367.3" fill="#8fc65e"/>
<polygon points="886.8,378.7 886.3,376.5 884.8,374.4 886.8,373.0 888.7,371.5 891.1,373.1 893.8,373.8 893.5,376.0 893.7,378.0 891.6,378.7 889.4,379.5" fill="#3a9648"/>
<polygon points="880.7,367.5 882.6,368.5 885.4,369.1 885.6,371.8 885.2,373.7 884.7,376.3 882.0,376.5 879.8,374.0 878.1,371.9 877.4,369.3 877.9,366.8" fill="#8fc65e"/>
<polygon points="884.1,370.7 884.2,372.5 882.6,373.3 881.0,372.9 879.3,371.8 879.4,369.9 880.8,368.8 882.6,369.6" fill="#bcd873"/>
<polygon points="909.2,366.7 912.9,368.8 911.8,371.5 911.0,374.0 908.1,374.4 904.6,374.1 901.7,371.1 901.9,368.1 900.3,364.2 903.3,362.9 906.9,364.6" fill="#3a9648"/>
<polygon points="896.0,369.2 893.9,367.7 894.8,365.0 896.7,362.5 900.0,361.3 902.5,362.0 905.8,362.2 903.9,365.1 904.8,367.7 901.7,369.8 898.5,369.6" fill="#8fc65e"/>
<polygon points="898.1,366.6 897.6,364.7 898.7,363.1 900.6,362.8 902.0,364.4 902.3,366.5 901.3,368.2 899.4,368.0" fill="#bcd873"/>
<polygon points="908.9,367.8 908.9,365.5 910.8,363.5 913.4,364.1 914.7,366.1 916.8,367.7 917.0,370.5 915.1,372.6 912.3,372.6 910.4,371.4 909.2,369.8" fill="#bcd873"/>
<polygon points="935.4,379.0 934.2,377.0 933.9,374.7 934.4,372.2 935.8,369.8 937.8,369.0 939.8,369.2 940.3,371.5 940.5,373.8 939.4,376.3 937.6,377.8" fill="#8fc65e"/>
<polygon points="935.6,369.3 938.9,369.4 938.8,372.6 941.4,375.2 938.7,376.0 937.3,377.9 934.3,377.0 932.6,374.5 931.0,372.3 930.1,369.2 933.5,369.5" fill="#dcdf85"/>
<polygon points="949.2,358.2 950.9,354.5 953.9,353.8 957.3,352.0 958.4,354.5 957.5,357.9 955.8,360.7 953.7,363.2 950.7,365.4 949.7,362.9 947.8,361.6" fill="#8fc65e"/>
<polygon points="954.9,374.5 953.0,376.3 950.0,376.9 947.0,376.4 946.9,374.1 947.8,372.5 949.0,371.1 951.0,369.6 953.3,370.1 954.7,371.3 955.2,372.7" fill="#dcdf85"/>
<polygon points="987.8,357.7 985.6,360.2 982.9,363.3 979.5,362.2 976.1,361.0 975.4,357.4 977.9,354.2 981.2,353.2 983.7,352.3 986.2,352.9 988.4,354.7" fill="#3a9648"/>
<polygon points="979.8,356.0 982.3,356.8 985.7,358.2 985.9,361.9 983.0,363.9 980.7,365.0 977.5,366.8 975.4,364.0 972.5,361.3 973.8,357.6 977.2,356.4" fill="#8fc65e"/>
<polygon points="753.3,382.7 752.9,379.6 753.4,376.0 756.5,373.9 759.4,376.0 762.2,376.7 763.9,379.5 763.0,382.9 761.4,386.3 757.8,388.2 755.3,384.9" fill="#8fc65e"/>
<polygon points="760.0,382.4 760.8,383.3 760.7,384.7 759.6,385.4 758.6,385.0 758.3,383.8 758.7,382.5" fill="#bcd873"/>
<polygon points="771.8,394.3 768.5,395.1 766.1,391.7 765.9,387.5 766.4,383.1 770.3,383.7 772.7,384.1 776.3,384.2 776.8,388.4 776.9,392.2 774.7,394.7" fill="#8fc65e"/>
<polygon points="819.8,384.7 820.7,383.0 822.3,382.6 824.1,381.1 825.2,383.2 825.4,385.0 826.3,387.0 824.8,388.2 823.2,388.4 821.3,388.6 820.8,386.4" fill="#bcd873"/>
<polygon points="821.6,385.3 822.1,384.1 823.3,383.5 824.5,384.1 824.5,385.3 824.2,386.6 822.9,386.9 821.8,386.4" fill="#dcdf85"/>
<polygon points="822.3,390.8 821.2,391.3 820.0,390.8 819.6,389.7 820.2,388.6 821.6,388.9 822.7,389.6" fill="#bcd873"/>
<circle cx="821.1" cy="390.0" r="0.9" fill="#f0a450"/>
<polygon points="838.2,378.9 840.6,380.2 843.1,381.4 844.0,384.1 841.5,386.6 838.5,388.4 835.9,386.9 833.6,386.4 831.0,384.8 832.8,382.1 835.6,380.8" fill="#3a9648"/>
<polygon points="839.3,381.6 841.2,380.8 842.8,382.1 844.3,383.5 844.2,385.6 842.6,386.7 841.0,387.0 839.5,386.9 838.1,386.0 837.5,384.5 838.0,382.8" fill="#8fc65e"/>
<polygon points="857.2,381.4 854.9,382.9 852.4,383.8 848.9,381.5 845.9,379.3 843.9,376.1 845.4,374.4 845.9,371.7 849.6,373.8 853.3,374.4 853.6,377.9" fill="#3a9648"/>
<polygon points="853.9,390.5 852.7,389.8 851.2,389.1 850.3,387.0 851.2,385.3 851.8,383.5 853.4,384.3 854.6,385.1 856.0,386.4 855.3,388.2 855.6,390.7" fill="#8fc65e"/>
<polygon points="869.1,386.1 869.3,383.6 869.0,381.1 871.0,381.1 872.8,379.9 874.2,382.9 876.5,384.8 875.9,386.9 875.0,388.3 873.4,388.9 871.5,387.6" fill="#8fc65e"/>
<polygon points="895.2,383.7 894.2,385.6 892.9,387.3 891.1,387.8 889.4,387.2 887.5,385.8 888.7,383.2 889.6,380.8 891.8,379.7 893.2,381.2 894.5,382.0" fill="#3a9648"/>
<polygon points="894.5,383.3 895.5,381.6 897.7,381.5 900.0,380.9 901.2,383.6 902.7,385.2 901.9,386.6 900.9,387.5 899.4,388.2 897.4,387.2 895.7,385.6" fill="#56aa4e"/>
<polygon points="902.9,376.1 904.4,377.9 904.5,380.3 902.2,381.3 900.6,382.1 898.4,382.5 896.5,381.1 895.5,378.7 896.3,376.1 898.5,374.4 900.9,375.8" fill="#bcd873"/>
<polygon points="908.9,383.2 910.1,381.1 911.9,379.5 915.6,381.6 919.2,384.3 920.5,387.9 919.9,389.9 920.7,393.8 916.6,390.9 913.4,390.4 910.7,386.8" fill="#56aa4e"/>
<polygon points="918.1,388.2 915.6,388.6 915.7,384.8 915.1,382.5 916.6,380.3 917.6,376.5 919.8,377.4 922.1,377.3 923.0,380.3 921.2,383.5 920.4,386.7" fill="#bcd873"/>
<polygon points="917.1,385.2 915.9,383.5 916.1,381.1 917.9,379.8 919.8,379.6 921.0,381.2 920.1,383.2 919.0,384.5" fill="#dcdf85"/>
<polygon points="952.0,385.3 950.6,383.9 951.1,381.1 951.9,378.7 953.4,377.1 955.2,377.1 957.0,378.2 957.0,381.2 956.7,384.1 954.9,385.3 953.4,386.2" fill="#56aa4e"/>
<polygon points="951.3,387.1 950.3,388.8 948.7,389.6 946.7,389.3 946.5,386.4 946.8,383.8 948.1,381.9 949.7,381.3 951.0,381.9 953.2,382.3 953.4,385.3" fill="#bcd873"/>
<polygon points="951.5,383.7 951.7,385.3 950.9,386.8 949.1,387.6 948.1,386.4 947.4,385.1 948.5,383.8 950.1,383.0" fill="#dcdf85"/>
<polygon points="891.2,406.5 890.1,409.4 886.3,410.2 883.5,408.0 880.9,406.4 881.1,403.8 882.2,401.6 885.2,401.1 887.7,401.3 890.5,401.9 890.6,404.2" fill="#3a9648"/>
<polygon points="894.4,402.7 894.0,405.0 892.0,404.4 890.3,403.2 890.0,400.9 889.7,399.2 889.2,396.1 891.5,397.0 893.2,396.6 894.7,398.7 894.9,401.0" fill="#8fc65e"/>
<polygon points="902.6,404.5 900.6,405.0 900.2,402.3 899.9,400.5 899.8,398.3 901.2,396.9 902.9,397.9 905.0,397.7 905.0,400.4 904.9,402.3 904.5,404.6" fill="#8fc65e"/>
<polygon points="902.1,402.3 900.6,401.9 900.2,400.5 901.3,399.5 902.7,399.2 904.0,400.0 903.9,401.2 903.6,402.4" fill="#bcd873"/>
<circle cx="902.4" cy="400.9" r="1.1" fill="#f2cf72"/>
<circle cx="902.4" cy="400.9" r="0.8" fill="#e8702e"/>
<polygon points="917.2,395.2 919.0,398.2 915.3,401.5 913.8,404.7 910.3,406.3 907.2,405.5 904.9,403.6 906.6,400.2 906.6,396.6 910.2,393.7 914.0,394.2" fill="#3a9648"/>
<polygon points="919.0,394.9 920.9,396.0 921.3,398.1 920.1,398.9 919.7,400.1 918.2,400.4 916.7,398.8 915.8,397.0 916.3,395.7 915.8,393.5 917.6,394.3" fill="#8fc65e"/>
<polygon points="920.3,397.3 919.5,398.4 918.1,398.3 917.0,397.8 916.8,396.8 917.1,395.7 918.5,395.5 919.6,396.3" fill="#bcd873"/>
<polygon points="929.4,396.9 927.5,399.2 924.6,402.1 921.3,401.0 919.3,397.8 921.3,393.8 922.0,390.0 925.1,387.5 927.7,389.8 931.1,390.0 930.4,394.0" fill="#56aa4e"/>
<polygon points="882.4,420.6 886.3,420.6 889.3,421.2 893.8,421.7 893.6,425.4 892.7,428.7 888.9,429.6 885.3,431.5 881.5,429.9 881.6,426.3 880.1,423.4" fill="#3a9648"/>
<polygon points="785.9,396.1 784.8,396.8 783.7,396.5 783.3,395.4 783.6,394.5 784.5,393.8 785.5,394.7" fill="#bcd873"/>
<polygon points="799.3,400.2 797.0,399.5 795.7,398.8 794.2,398.1 795.0,397.0 795.6,395.9 797.5,395.3 799.9,395.2 802.0,396.1 802.0,397.6 800.9,398.9" fill="#8fc65e"/>
<polygon points="799.2,396.4 799.1,397.6 799.0,398.8 797.6,398.8 796.3,398.7 796.3,397.5 796.6,396.4 797.9,395.9" fill="#bcd873"/>
<polygon points="795.7,395.3 794.4,395.1 793.8,394.0 793.7,392.9 794.6,392.2 795.7,392.9 796.1,394.0" fill="#bcd873"/>
<polygon points="852.5,400.1 850.1,397.0 849.2,392.7 852.9,390.8 855.0,388.6 858.9,386.4 860.7,390.9 863.5,394.2 860.2,397.3 859.7,402.2 855.6,403.0" fill="#3a9648"/>
<polygon points="853.4,399.2 853.4,396.5 854.8,394.5 856.4,393.1 858.4,392.9 860.9,393.0 861.1,395.7 861.7,398.1 859.9,400.1 857.7,401.1 855.3,400.9" fill="#8fc65e"/>
<polygon points="856.8,394.7 858.2,394.4 859.0,395.8 859.1,397.3 858.2,398.3 856.9,398.6 856.1,397.5 856.1,396.1" fill="#bcd873"/>
<polygon points="880.8,392.7 878.2,394.4 877.0,391.9 875.5,390.2 876.3,387.1 877.6,383.8 880.1,383.5 881.8,383.8 884.7,383.6 883.3,387.4 882.2,389.8" fill="#3a9648"/>
<polygon points="841.5,416.8 841.7,415.4 842.0,413.8 843.7,414.7 845.4,416.0 846.7,418.0 846.3,419.5 846.6,421.5 845.0,421.1 843.6,419.9 842.6,418.5" fill="#bcd873"/>
<polygon points="846.4,405.5 846.1,406.7 845.3,407.8 844.1,407.4 844.0,406.1 844.5,405.1 845.5,404.8" fill="#bcd873"/>
<polygon points="860.9,420.3 863.0,417.5 864.0,414.9 866.4,414.5 868.5,417.4 870.3,420.1 871.7,423.8 869.8,425.6 868.1,426.4 866.0,425.8 863.3,424.4" fill="#3a9648"/>
<polygon points="879.9,405.1 880.2,407.2 880.5,408.7 880.4,410.6 878.6,411.2 876.6,411.1 874.9,409.8 873.8,408.0 874.1,406.0 876.0,405.2 877.7,404.8" fill="#8fc65e"/>
<polygon points="778.9,431.2 779.9,429.0 782.4,427.5 785.7,426.5 788.1,427.7 789.2,429.7 787.4,431.9 785.3,433.4 782.8,435.4 780.1,434.8 779.9,432.7" fill="#56aa4e"/>
<polygon points="820.3,433.9 822.2,432.7 824.5,433.2 824.5,434.9 825.1,436.3 823.6,437.6 821.6,438.2 819.4,438.5 818.3,437.3 817.8,436.0 818.6,434.7" fill="#8fc65e"/>
<polygon points="821.4,437.6 820.5,436.8 819.7,435.9 820.1,434.5 821.3,434.2 822.3,434.6 822.9,435.6 822.5,436.9" fill="#bcd873"/>
<polygon points="821.5,430.4 822.1,431.3 821.6,432.4 820.5,432.8 819.6,432.3 819.5,431.3 820.3,430.5" fill="#bcd873"/>
<polygon points="859.6,442.3 857.5,442.4 855.3,440.7 854.8,438.0 855.8,436.2 857.0,435.0 858.9,433.6 860.4,436.5 861.9,438.2 862.3,440.4 861.4,442.1" fill="#3a9648"/>
<polygon points="859.9,432.8 858.0,431.9 857.7,429.8 858.3,428.0 859.5,426.7 861.3,424.3 864.0,425.3 864.4,428.1 865.5,430.3 864.4,432.6 861.8,432.7" fill="#8fc65e"/>
<polygon points="862.2,427.9 863.0,429.4 862.5,430.7 861.4,431.5 860.2,430.7 859.0,429.5 859.3,427.9 860.7,427.3" fill="#bcd873"/>
<polygon points="877.1,432.4 879.3,432.5 881.5,433.8 881.1,436.4 880.5,438.5 878.8,439.8 876.7,439.7 874.3,439.5 873.7,437.2 873.6,434.9 874.3,432.2" fill="#bcd873"/>
<polygon points="875.5,435.2 876.9,434.6 878.4,434.9 879.7,435.7 878.9,437.0 877.8,437.9 876.4,437.6 875.5,436.6" fill="#dcdf85"/>
<circle cx="877.4" cy="436.2" r="1.5" fill="#f2cf72"/>
<polygon points="801.0,455.1 800.8,456.4 799.9,457.2 798.7,456.9 798.5,455.6 799.1,454.7 800.1,454.5" fill="#bcd873"/>
<circle cx="799.7" cy="455.7" r="0.9" fill="#f0a450"/>
<polygon points="818.9,451.0 817.7,451.7 816.4,451.3 815.6,450.2 816.5,449.4 817.8,448.8 818.5,449.8" fill="#bcd873"/>
<polygon points="857.0,454.0 857.1,450.5 861.0,449.0 863.0,447.0 866.6,446.5 868.7,448.7 869.4,451.0 871.1,454.2 867.8,456.3 863.9,456.9 859.5,456.9" fill="#bcd873"/>
<polygon points="804.4,467.9 801.2,467.1 797.7,466.3 795.4,463.3 798.2,460.8 798.2,457.2 802.0,457.0 805.1,458.8 807.0,461.0 807.9,463.6 806.5,465.9" fill="#8fc65e"/>
<polygon points="800.1,464.6 799.7,462.6 800.8,461.1 802.5,460.2 804.6,460.8 805.3,462.8 804.3,464.5 802.3,465.2" fill="#bcd873"/>
<polygon points="807.5,464.8 806.6,464.4 806.3,463.2 807.2,462.3 808.2,462.3 809.0,463.2 808.5,464.4" fill="#bcd873"/>
<polygon points="846.3,473.8 844.6,475.2 843.3,477.4 841.8,477.3 840.8,476.6 841.0,475.0 841.6,473.2 843.1,471.7 844.4,471.7 846.3,470.5 846.1,472.4" fill="#8fc65e"/>
<polygon points="843.5,472.5 844.5,472.7 845.1,473.6 845.0,475.0 843.8,475.3 842.8,475.1 842.3,474.3 842.4,473.1" fill="#bcd873"/>
<polygon points="848.5,497.9 847.0,501.3 843.4,500.7 840.0,501.6 837.6,499.1 836.8,495.5 838.3,492.2 841.1,489.9 844.5,490.0 846.7,492.3 848.7,494.6" fill="#8fc65e"/>
<polygon points="841.2,494.7 842.6,493.8 844.8,493.7 845.8,495.5 845.4,497.2 843.8,498.4 841.7,497.9 840.5,496.2" fill="#bcd873"/>
<polygon points="855.6,483.7 858.0,484.7 859.5,485.6 860.0,487.1 860.8,489.2 858.4,490.8 855.6,491.7 854.0,490.0 852.2,489.2 851.3,487.3 853.5,485.5" fill="#bcd873"/>
<polygon points="868.1,495.3 867.9,493.8 869.0,493.0 870.3,492.7 871.6,493.5 872.8,494.6 873.9,496.4 872.6,497.7 871.2,498.3 869.4,498.6 867.8,497.2" fill="#bcd873"/>
<polygon points="852.0,510.4 851.5,514.1 850.7,516.7 849.4,519.6 846.5,521.6 844.3,519.3 842.3,517.2 841.4,513.8 843.2,510.3 846.3,508.5 849.4,508.8" fill="#3a9648"/>
<polygon points="861.2,504.2 863.5,505.4 863.3,508.2 864.7,511.2 862.0,512.2 860.0,512.8 857.5,512.6 855.7,510.4 855.9,507.6 856.0,504.2 859.0,504.2" fill="#8fc65e"/>
<polygon points="858.5,507.2 860.2,506.4 862.0,506.8 862.1,508.4 861.5,509.8 859.9,510.6 858.4,509.9 857.6,508.6" fill="#bcd873"/>
<polygon points="879.4,517.2 877.6,519.1 874.5,517.4 871.1,516.7 870.7,514.8 870.6,512.9 872.8,511.3 876.9,511.2 879.4,513.1 882.2,514.4 881.9,516.3" fill="#3a9648"/>
<polygon points="875.7,518.1 874.8,516.9 876.8,515.5 878.0,514.3 880.2,512.8 881.8,513.7 883.2,514.8 881.4,516.6 880.2,517.9 878.6,518.7 877.1,518.6" fill="#8fc65e"/>
<polygon points="876.8,515.5 878.3,514.7 879.9,514.7 880.5,515.8 880.5,517.1 879.2,517.9 877.7,518.0 876.8,516.9" fill="#bcd873"/>
<circle cx="878.8" cy="516.3" r="1.1" fill="#f2cf72"/>
<circle cx="878.8" cy="516.3" r="0.8" fill="#e8702e"/></g>
<g><polygon points="877.3,259.3 866.7,251.2 859.1,244.4 851.9,236.1 858.0,227.4 868.0,222.5 877.0,213.2 890.4,217.7 902.3,222.2 904.8,231.7 911.8,241.4 905.7,251.7 890.2,253.4" fill="#bcd873"/>
<polygon points="954.0,376.5 941.9,378.0 930.4,376.5 922.7,369.3 917.3,361.0 917.7,351.3 925.2,344.5 932.4,337.1 944.2,334.6 955.5,339.0 966.1,346.2 960.9,357.8 964.3,369.3" fill="#bcd873"/>
<polygon points="917.6,362.3 923.9,354.1 923.4,345.3 933.1,343.0 941.6,341.4 951.7,341.5 957.1,348.7 959.3,356.5 955.4,363.3 951.8,370.6 942.6,371.2 932.6,375.4 927.0,367.5" fill="#dcdf85"/>
<polygon points="884.2,276.8 888.4,280.3 887.3,285.5 889.9,290.9 884.8,293.9 879.5,293.7 874.0,297.5 870.3,293.0 867.1,289.1 867.8,284.3 867.8,278.7 873.0,275.9 878.8,274.4" fill="#bcd873"/>
<polygon points="871.1,284.7 871.9,281.6 875.7,281.4 878.7,279.5 882.3,280.2 884.9,282.6 884.5,285.8 883.4,288.2 882.8,291.6 879.1,292.2 875.4,292.5 873.0,290.0 870.0,287.9" fill="#dcdf85"/>
<polygon points="847.3,299.7 854.5,297.9 859.6,294.4 865.9,297.2 874.4,297.0 877.3,301.5 879.7,306.3 875.4,310.7 867.5,312.0 860.8,311.9 854.4,311.1 849.1,308.3 847.6,304.2" fill="#bcd873"/>
<polygon points="849.6,303.5 854.2,301.4 856.8,299.2 861.6,299.0 867.3,297.7 871.3,300.1 871.9,303.1 873.5,306.0 870.2,308.6 864.5,308.6 859.5,310.9 855.3,308.6 851.2,306.6" fill="#dcdf85"/>
<polygon points="871.2,335.3 868.7,342.6 864.2,346.9 859.9,351.0 854.4,350.1 847.9,348.7 847.9,339.8 843.7,332.2 848.9,326.3 853.6,322.6 859.1,318.6 865.6,320.4 867.6,328.8" fill="#bcd873"/>
<polygon points="849.0,337.1 848.1,330.8 851.5,326.1 855.6,322.0 860.4,324.4 863.6,328.1 867.8,331.5 869.0,338.1 865.5,343.1 862.1,346.8 857.7,350.3 852.5,348.9 849.1,343.6" fill="#dcdf85"/>
<polygon points="855.0,351.6 855.4,355.7 855.1,360.2 851.6,363.8 846.3,363.6 842.2,362.1 836.9,361.1 838.1,356.1 838.1,352.6 838.3,347.7 842.9,345.2 847.7,347.4 851.1,349.4" fill="#bcd873"/>
<polygon points="848.6,348.5 850.8,351.2 852.9,353.4 854.1,356.5 851.5,358.9 848.9,361.0 845.3,361.8 842.2,360.0 839.9,357.9 838.4,355.2 840.8,352.8 841.2,349.4 844.8,348.1" fill="#dcdf85"/>
<polygon points="832.9,380.1 825.1,377.7 822.8,370.8 821.4,364.0 824.0,357.0 832.7,356.1 839.1,355.4 847.1,354.6 853.4,359.3 850.5,366.6 849.8,371.9 848.3,378.9 840.2,379.0" fill="#bcd873"/>
<polygon points="849.1,367.6 846.9,371.6 844.5,376.1 838.6,376.4 833.5,375.1 828.1,373.4 825.0,368.9 825.9,363.8 829.0,359.4 835.1,359.0 840.7,355.3 845.6,359.0 849.1,362.9" fill="#dcdf85"/>
<polygon points="849.9,508.7 836.5,508.8 828.2,504.3 828.6,498.8 831.9,494.1 838.6,489.9 850.9,490.4 862.0,489.4 876.0,490.6 874.2,496.9 882.0,502.2 875.9,507.8 861.3,508.7" fill="#bcd873"/>
<polygon points="836.1,495.7 841.4,492.6 850.1,491.2 859.3,491.8 870.0,492.7 871.6,497.0 869.7,500.5 871.3,505.2 860.4,506.3 850.9,507.9 842.8,505.3 837.4,502.5 834.0,499.2" fill="#dcdf85"/>
<polygon points="878.5,246.3 874.2,248.2 869.5,247.3 867.6,243.3 862.8,240.9 864.9,236.7 867.4,233.5 870.4,230.3 875.0,231.4 878.5,233.0 883.3,234.9 881.2,239.4 879.8,242.4" fill="#f2cf72"/>
<polygon points="878.4,232.4 880.1,235.7 882.3,238.9 880.2,242.0 878.4,245.2 874.7,246.8 870.2,247.2 866.7,244.6 865.7,240.9 867.1,237.7 867.4,234.3 871.1,233.5 874.4,231.6" fill="#f0a450"/>
<polygon points="880.0,236.3 880.1,239.4 879.6,242.3 876.4,243.3 873.9,245.5 870.7,244.7 867.9,243.0 866.8,240.1 865.8,236.8 868.1,234.1 871.5,233.2 874.8,232.8 877.9,233.9" fill="#e8702e"/>
<polygon points="878.4,238.1 876.6,240.5 875.0,242.3 872.2,242.5 869.8,241.1 869.2,238.5 871.1,236.6 873.4,235.9 875.8,236.4" fill="#e0401c"/>
<polygon points="899.2,235.2 902.1,239.2 898.1,242.5 895.4,245.1 892.1,249.0 887.1,247.8 885.2,243.6 882.0,240.9 883.0,237.1 884.2,233.3 887.4,229.9 892.5,229.0 895.7,233.0" fill="#f2cf72"/>
<polygon points="892.8,230.4 896.4,232.8 898.8,235.9 899.9,239.5 897.8,242.8 895.4,245.6 891.5,246.6 887.1,246.7 885.4,242.9 881.5,240.5 882.4,236.5 884.4,233.0 888.9,233.0" fill="#f0a450"/>
<polygon points="894.6,244.6 891.2,244.6 887.7,245.3 886.1,242.3 883.4,240.1 883.7,236.8 885.3,233.6 888.8,232.1 892.3,233.0 894.5,235.1 897.3,236.6 898.6,239.6 897.9,243.0" fill="#e8702e"/>
<polygon points="894.0,241.9 891.2,242.2 888.0,242.6 887.1,239.9 886.4,236.9 888.9,234.5 892.2,235.3 894.2,237.1 895.1,239.4" fill="#e0401c"/>
<polygon points="890.8,229.3 887.4,228.6 883.6,228.4 881.9,226.5 882.3,224.5 881.2,222.0 885.1,220.7 889.0,220.4 892.2,221.6 895.2,222.6 897.5,224.4 897.6,226.9 893.3,227.7" fill="#f2cf72"/>
<polygon points="890.3,221.7 893.7,221.9 895.4,223.6 894.6,225.3 894.0,226.8 892.2,228.1 889.2,228.7 885.8,228.6 883.1,227.4 881.4,225.6 881.7,223.6 884.5,222.3 887.0,221.0" fill="#f0a450"/>
<polygon points="888.9,222.2 891.4,223.3 893.5,224.5 893.0,226.3 890.4,227.2 887.2,227.9 885.9,226.1 884.6,224.6 886.6,223.4" fill="#e8702e"/>
<polygon points="890.7,224.2 891.2,225.0 890.5,225.9 889.3,226.3 887.9,226.2 886.7,225.5 886.8,224.4 888.0,223.8 889.5,223.5" fill="#e0401c"/>
<polygon points="879.7,228.4 875.5,229.7 872.0,227.6 870.2,224.9 872.0,222.0 876.2,221.2 880.2,221.5 881.5,224.0 883.3,226.7" fill="#dcdf85"/>
<polygon points="878.4,226.8 876.3,227.0 874.4,226.3 874.0,224.9 875.0,223.7 876.7,222.9 878.6,223.4 880.1,224.4 879.5,225.7" fill="#f2cf72"/>
<polygon points="893.5,238.6 892.2,235.0 895.1,232.6 898.0,231.7 901.5,231.8 902.5,235.2 901.4,237.9 900.0,241.4 896.5,240.3" fill="#dcdf85"/>
<polygon points="898.7,238.1 897.0,238.5 896.0,237.1 895.4,235.5 896.4,234.0 898.1,233.5 899.5,234.3 900.7,235.6 900.3,237.4" fill="#f0a450"/>
<polygon points="866.1,237.8 865.7,240.0 863.1,241.1 860.5,240.3 858.3,239.3 857.5,237.1 859.3,235.0 862.3,235.5 865.1,235.7" fill="#dcdf85"/>
<polygon points="859.9,237.8 860.7,236.9 861.9,236.4 863.2,236.8 864.1,237.6 863.7,238.7 862.8,239.4 861.4,239.5 860.1,238.9" fill="#f0a450"/>
<polygon points="954.7,363.6 949.2,368.4 942.0,375.4 933.7,370.0 928.2,364.6 924.2,358.5 927.6,352.1 927.9,344.0 935.5,339.6 944.0,342.6 950.8,345.1 958.6,349.2 955.3,356.9" fill="#dcdf85"/>
<polygon points="956.7,356.8 950.6,361.2 949.4,368.4 941.8,367.5 935.2,367.6 930.0,363.7 924.6,358.7 927.1,352.2 932.6,348.6 936.3,342.6 943.2,345.3 951.4,344.1 952.6,351.3" fill="#f2cf72"/>
<polygon points="934.8,364.6 930.2,361.4 930.4,356.2 932.1,352.0 934.9,348.2 939.2,344.2 944.6,346.7 950.6,347.9 950.6,353.6 950.7,358.0 950.5,363.4 944.7,364.4 939.6,368.5" fill="#f0a450"/>
<polygon points="946.1,348.8 948.8,352.0 948.4,355.9 949.0,359.8 946.7,363.6 942.1,363.5 937.6,365.0 935.2,361.0 934.0,357.7 930.4,353.7 933.1,349.6 937.2,347.0 942.1,346.1" fill="#e8702e"/>
<polygon points="946.0,354.3 946.2,357.7 943.9,360.5 940.1,360.7 936.9,359.1 936.5,356.0 937.5,353.4 939.9,350.1 943.9,351.5" fill="#e0401c"/>
<polygon points="934.4,344.2 937.7,345.7 940.8,348.4 939.2,351.9 935.9,354.4 931.9,352.9 929.6,350.8 928.5,347.9 930.5,345.0" fill="#f0a450"/>
<polygon points="934.9,346.6 936.4,347.7 937.4,349.4 935.9,350.8 934.2,352.3 931.6,351.7 930.5,349.6 931.4,347.8 932.8,346.5" fill="#e8702e"/>
<polygon points="942.2,364.3 943.1,361.8 945.1,360.2 948.0,358.8 950.9,360.5 953.1,363.1 951.2,365.9 947.6,366.2 944.3,366.5" fill="#e8702e"/>
<polygon points="946.4,364.9 944.9,364.2 944.8,362.9 945.0,361.4 946.7,361.0 948.4,361.4 949.4,362.5 949.4,363.9 948.1,364.8" fill="#e0401c"/>
<polygon points="939.6,391.3 936.2,388.8 937.0,385.7 939.3,383.0 943.8,383.3 947.2,384.5 948.5,386.9 948.6,389.9 944.5,391.6" fill="#dcdf85"/>
<polygon points="942.0,385.8 943.2,385.5 944.4,385.9 945.1,386.9 944.8,388.0 943.5,388.7 942.1,388.5 941.2,387.7 940.9,386.6" fill="#f0a450"/>
<polygon points="955.6,374.9 952.5,373.9 952.1,371.5 953.8,369.4 956.9,367.9 960.7,368.8 962.8,371.2 961.3,373.6 958.6,374.9" fill="#dcdf85"/>
<polygon points="957.3,373.5 955.9,373.3 955.1,372.5 955.2,371.4 956.1,370.7 957.4,370.7 958.6,371.1 959.1,372.1 958.6,373.1" fill="#f0a450"/>
<polygon points="827.5,363.1 832.4,361.2 837.7,359.8 843.5,361.0 844.2,366.2 847.9,369.7 844.0,373.1 840.8,375.4 837.2,379.7 832.8,376.0 828.6,374.6 824.5,371.6 825.2,367.1" fill="#dcdf85"/>
<polygon points="837.6,362.8 840.4,365.0 842.0,367.3 842.6,369.8 842.4,372.7 839.7,374.6 836.5,377.4 832.8,375.2 829.0,373.9 826.4,370.9 827.4,367.3 829.9,364.5 833.7,363.5" fill="#f2cf72"/>
<polygon points="831.4,373.0 831.2,369.7 831.1,366.4 834.7,364.8 838.4,365.6 841.4,367.6 842.3,371.1 839.7,374.3 835.1,375.4" fill="#f0a450"/>
<polygon points="832.7,370.8 831.5,368.5 833.2,366.1 836.4,365.4 838.9,367.1 839.6,369.2 840.1,371.9 836.9,372.4 834.6,372.1" fill="#e8702e"/>
<polygon points="836.3,367.7 837.9,368.1 838.6,369.4 837.8,370.7 836.5,371.6 834.8,371.3 833.8,370.2 834.0,368.9 834.7,367.8" fill="#e0401c"/>
<polygon points="866.1,329.5 867.5,334.7 868.0,340.9 865.6,345.4 863.3,350.4 860.0,347.2 856.2,348.6 853.9,343.0 855.2,336.4 855.8,331.3 857.4,326.2 860.5,322.7 863.5,326.7" fill="#dcdf85"/>
<polygon points="857.3,345.2 855.8,338.4 856.4,331.2 859.7,328.9 863.3,325.8 864.7,333.1 865.5,338.9 863.6,343.6 860.8,348.6" fill="#f2cf72"/>
<polygon points="858.1,335.7 859.2,332.0 861.1,328.8 863.7,330.1 864.4,335.8 864.6,341.8 862.2,344.8 859.7,344.3 857.2,341.7" fill="#f0a450"/>
<polygon points="859.8,332.1 861.4,330.4 862.8,332.9 863.3,336.8 862.7,340.4 861.4,342.3 860.0,341.7 858.6,339.4 858.5,334.9" fill="#e8702e"/>
<polygon points="859.9,335.0 860.6,333.5 861.5,334.0 862.1,335.5 862.4,337.9 861.7,339.5 860.9,340.1 860.1,339.6 859.7,337.4" fill="#e0401c"/>
<polygon points="854.1,350.9 854.7,348.8 857.4,347.7 859.9,348.7 862.3,349.9 861.1,351.9 860.0,353.8 857.2,353.9 854.2,353.2" fill="#dcdf85"/>
<polygon points="859.7,351.4 859.1,352.3 857.8,352.6 856.7,352.1 856.3,351.1 856.5,350.1 857.5,349.4 858.8,349.6 859.5,350.5" fill="#f0a450"/>
<polygon points="861.7,308.3 859.5,306.9 859.2,305.1 860.0,302.9 864.2,302.0 868.0,303.1 872.7,302.4 874.1,304.5 875.1,306.4 874.0,308.3 871.8,310.1 867.4,309.4 864.4,309.1" fill="#dcdf85"/>
<polygon points="871.1,307.1 869.6,308.9 866.0,308.1 862.8,307.7 861.1,306.0 862.9,304.3 866.2,303.3 869.5,304.3 872.3,305.4" fill="#f2cf72"/>
<polygon points="868.3,304.8 869.5,305.6 869.5,306.8 868.1,307.4 866.5,307.5 864.8,307.3 864.6,306.2 865.0,305.2 866.5,304.8" fill="#f0a450"/>
<polygon points="884.1,292.7 880.2,292.9 877.2,293.0 874.9,290.8 875.6,287.8 876.8,285.1 880.0,284.0 882.2,286.3 884.5,288.8" fill="#dcdf85"/>
<polygon points="878.6,292.0 877.2,290.6 876.6,288.9 876.8,286.8 878.9,286.2 881.0,286.3 882.2,288.1 882.0,290.1 880.5,291.3" fill="#f2cf72"/>
<polygon points="877.7,289.8 877.8,288.6 878.4,287.7 879.4,287.5 880.5,287.8 880.8,288.8 880.9,290.1 879.8,290.6 878.6,290.7" fill="#f0a450"/>
<polygon points="902.1,322.5 905.2,320.3 907.5,318.0 910.3,319.6 913.0,321.3 912.5,324.3 911.0,327.5 907.0,327.8 903.7,325.8" fill="#dcdf85"/>
<polygon points="905.4,322.7 905.9,321.0 907.7,319.9 909.9,320.2 911.1,321.8 911.2,323.7 909.5,324.7 907.6,325.3 905.9,324.3" fill="#f2cf72"/>
<polygon points="908.8,321.3 909.6,322.0 909.6,322.9 909.3,323.9 908.2,324.1 907.0,323.8 906.6,322.9 907.0,322.0 907.7,321.4" fill="#f0a450"/>
<polygon points="571.7,281.2 569.5,282.9 566.8,283.1 562.6,284.3 561.3,279.5 562.1,275.3 561.1,270.2 565.2,269.5 567.9,268.7 570.9,268.5 572.9,271.5 575.8,274.5 573.5,278.5" fill="#dcdf85"/>
<polygon points="568.1,282.8 565.2,281.4 564.6,277.0 565.2,273.8 566.4,270.2 569.4,269.8 571.7,272.6 571.8,276.8 570.5,280.2" fill="#f2cf72"/>
<polygon points="566.2,268.9 565.5,273.3 564.2,276.0 562.3,277.6 559.6,277.2 559.1,272.6 559.1,268.1 561.4,265.4 563.9,266.5" fill="#f0a450"/>
<polygon points="560.5,269.1 561.9,267.5 563.5,267.7 564.7,270.0 564.8,273.3 563.8,275.8 562.3,276.0 561.0,275.0 560.2,272.4" fill="#e8702e"/>
<polygon points="561.8,274.5 561.3,272.9 561.4,270.8 562.0,269.5 562.8,269.2 563.5,270.2 563.6,272.2 563.3,274.0 562.6,274.7" fill="#e0401c"/>
<polygon points="713.3,207.4 714.4,203.5 717.7,201.4 721.9,201.4 724.2,205.2 723.8,209.4 721.9,213.4 717.7,213.6 714.9,210.9" fill="#bcd873"/>
<polygon points="717.0,203.0 719.8,203.1 722.7,204.5 723.8,208.0 721.4,210.5 719.0,211.8 715.9,211.7 715.2,208.3 715.0,205.4" fill="#dcdf85"/>
<polygon points="715.9,207.7 716.8,206.1 718.0,205.0 719.8,204.9 721.3,206.1 721.5,208.1 720.1,209.4 718.5,210.1 716.7,209.4" fill="#f0a450"/>
<polygon points="719.7,208.3 718.9,208.8 718.0,208.5 717.4,207.8 717.4,206.9 718.0,206.2 719.0,206.0 719.7,206.6 720.1,207.4" fill="#e0401c"/>
<polygon points="726.7,141.5 726.1,143.4 723.1,144.0 720.8,143.2 718.1,142.3 718.4,140.3 720.7,139.1 723.4,139.1 725.8,139.9" fill="#dcdf85"/>
<polygon points="724.5,140.8 724.8,141.9 723.9,142.7 722.4,143.2 720.9,142.6 720.2,141.5 720.8,140.4 722.1,139.9 723.7,139.8" fill="#f0a450"/>
<polygon points="721.6,141.8 721.5,141.1 721.9,140.5 722.7,140.3 723.3,140.7 723.8,141.3 723.6,142.0 722.9,142.3 722.1,142.4" fill="#e8702e"/>
<polygon points="715.2,146.6 715.8,145.0 719.5,144.8 723.0,144.0 725.3,145.4 727.5,146.5 728.4,147.9 726.0,149.0 724.0,149.9 721.0,151.2 717.6,150.2 715.6,149.1 712.2,148.0" fill="#8fc65e"/>
<polygon points="716.9,145.7 720.7,145.1 724.5,145.7 726.3,147.0 725.6,148.5 722.6,149.0 719.5,149.4 717.1,148.5 715.9,147.2" fill="#bcd873"/>
<polygon points="714.3,270.2 714.2,273.6 710.3,274.7 705.9,275.8 703.1,272.7 703.6,269.2 705.0,265.6 709.7,265.1 712.9,267.4" fill="#8fc65e"/>
<polygon points="709.3,269.1 710.4,269.6 710.9,270.5 710.6,271.5 709.4,271.9 708.1,271.7 707.2,271.0 707.0,270.0 707.9,269.1" fill="#f0a450"/>
<polygon points="694.8,274.7 696.0,272.8 698.6,272.3 700.9,273.3 702.4,275.1 702.6,277.7 699.4,278.4 696.5,278.4 694.3,276.9" fill="#dcdf85"/>
<polygon points="698.0,273.2 699.8,273.7 700.6,274.9 700.7,276.3 699.4,277.2 697.6,277.5 696.3,276.5 695.7,275.2 696.5,274.0" fill="#f2cf72"/>
<polygon points="697.7,276.3 696.9,275.9 697.1,275.1 697.6,274.5 698.5,274.3 699.2,274.7 699.5,275.4 699.3,276.1 698.5,276.4" fill="#f0a450"/>
<polygon points="788.9,256.7 787.2,254.4 786.7,251.7 788.3,249.3 791.1,248.3 793.0,250.5 794.8,252.5 794.2,255.3 791.6,256.4" fill="#bcd873"/>
<polygon points="791.2,255.7 789.0,255.6 787.8,253.8 788.1,251.8 789.1,250.0 791.3,249.5 792.8,251.1 793.7,252.9 792.9,254.7" fill="#dcdf85"/>
<polygon points="791.8,253.8 790.9,254.2 790.0,254.0 789.2,253.3 789.0,252.2 789.9,251.4 791.0,251.1 791.8,251.9 792.1,252.8" fill="#e8702e"/>
<polygon points="832.8,188.8 835.9,190.5 834.8,193.4 833.0,195.1 830.5,196.0 827.9,195.2 825.7,192.9 826.6,189.8 830.0,189.4" fill="#dcdf85"/>
<polygon points="830.7,195.1 829.3,194.0 828.1,192.7 829.0,191.3 830.2,190.2 831.9,190.5 833.1,191.5 833.3,193.1 832.5,194.6" fill="#f2cf72"/>
<polygon points="832.0,193.1 831.4,193.7 830.5,193.6 829.8,193.1 829.4,192.3 830.1,191.6 830.9,191.2 831.9,191.4 832.4,192.2" fill="#e8702e"/>
<polygon points="766.2,291.4 767.7,293.0 767.9,297.0 767.4,300.7 766.0,302.6 764.5,301.3 763.5,298.4 763.6,294.4 764.7,291.7" fill="#dcdf85"/>
<polygon points="764.7,296.0 765.1,294.4 765.8,293.3 766.4,294.7 766.9,296.4 766.7,298.6 766.0,299.6 765.2,299.8 764.6,298.1" fill="#f0a450"/>
<polygon points="802.3,450.8 801.1,452.7 799.1,452.9 797.2,451.9 796.8,449.0 797.8,446.7 799.4,444.8 801.4,446.2 802.6,448.2" fill="#dcdf85"/>
<polygon points="798.2,450.3 798.1,448.5 798.8,447.2 800.0,447.0 801.0,447.7 801.5,449.2 801.1,450.7 800.2,451.8 799.0,451.6" fill="#e8702e"/>
<polygon points="800.3,448.3 800.8,448.9 800.7,449.9 800.2,450.7 799.5,450.8 799.0,450.0 798.9,449.2 799.0,448.2 799.7,447.8" fill="#e0401c"/>
<polygon points="869.5,439.9 871.0,437.2 874.1,435.3 877.1,437.2 879.7,438.7 879.2,441.3 877.6,443.8 874.2,443.2 870.8,442.7" fill="#dcdf85"/>
<polygon points="876.2,438.0 878.0,438.9 878.0,440.7 876.6,441.9 874.7,442.4 872.7,441.7 872.1,440.2 872.3,438.4 874.2,437.4" fill="#f0a450"/>
<polygon points="873.3,439.7 874.0,438.9 875.1,438.7 876.0,439.1 876.6,439.9 876.5,440.8 875.5,441.3 874.4,441.2 873.4,440.6" fill="#e0401c"/>
<polygon points="841.5,493.6 847.9,493.4 854.1,493.5 859.3,495.5 861.9,498.7 862.1,502.2 859.9,506.0 852.1,505.8 846.1,507.7 841.5,505.0 835.5,503.2 837.9,499.7 835.8,495.8" fill="#dcdf85"/>
<polygon points="858.6,503.7 853.7,505.1 848.8,505.5 843.5,505.6 842.2,502.5 840.3,500.6 841.0,498.4 843.2,496.7 846.3,494.9 850.9,494.9 856.5,495.1 856.2,498.4 857.2,500.5" fill="#f2cf72"/>
<polygon points="854.3,502.8 851.1,503.5 848.0,503.6 844.2,503.9 842.2,502.0 842.7,500.1 843.4,498.5 844.1,496.3 847.6,495.3 851.5,495.6 854.0,497.2 855.6,499.0 854.3,500.7" fill="#f0a450"/>
<polygon points="846.1,501.0 845.4,499.7 846.2,498.3 848.5,497.9 851.2,497.9 852.6,499.4 851.3,500.8 850.1,502.1 847.9,501.7" fill="#e8702e"/>
<polygon points="876.7,502.6 875.0,505.4 872.4,507.3 869.4,508.8 865.8,508.3 861.2,508.1 859.0,505.1 859.4,501.8 862.2,499.6 865.0,497.9 868.4,498.3 872.0,498.0 873.6,500.5" fill="#dcdf85"/>
<polygon points="873.1,504.4 870.2,505.7 866.9,507.4 863.4,505.8 862.6,503.0 864.6,500.9 866.9,498.2 870.7,499.7 873.4,501.6" fill="#f2cf72"/>
<polygon points="867.0,506.0 865.4,504.4 864.4,502.8 865.6,501.3 867.6,500.4 870.2,500.5 871.0,502.3 871.2,504.1 869.6,505.4" fill="#f0a450"/>
<polygon points="866.4,503.6 866.6,502.7 867.2,502.0 868.2,501.7 869.0,502.2 869.4,502.9 869.4,503.8 868.4,504.2 867.3,504.1" fill="#e8702e"/>
<polygon points="834.3,501.2 829.8,501.2 826.0,499.4 827.4,496.5 828.1,494.0 831.9,493.2 836.6,493.3 838.1,496.2 838.0,499.3" fill="#bcd873"/>
<polygon points="835.2,497.4 834.0,498.6 832.0,499.2 830.1,498.5 828.9,497.4 829.6,496.1 831.1,495.3 832.9,495.3 834.4,496.1" fill="#dcdf85"/>
<polygon points="747.1,373.9 749.2,372.6 751.2,372.0 753.6,372.4 754.9,374.8 753.7,377.2 751.6,378.6 749.1,378.4 747.5,376.4" fill="#dcdf85"/>
<polygon points="751.6,373.8 752.4,374.6 752.3,375.7 751.6,376.6 750.4,376.7 749.5,375.9 749.4,374.9 749.7,373.9 750.6,373.3" fill="#f0a450"/>
<polygon points="766.7,404.4 765.1,405.3 763.5,405.3 762.4,403.8 762.0,401.8 763.1,400.2 764.7,399.4 766.4,400.3 766.7,402.3" fill="#dcdf85"/>
<polygon points="764.9,404.2 764.1,403.9 763.4,403.3 763.1,402.2 763.7,401.2 764.6,401.1 765.4,401.4 765.7,402.4 765.7,403.6" fill="#e8702e"/>
<polygon points="891.4,399.5 888.9,400.2 886.4,400.2 883.7,398.8 884.5,396.2 886.3,394.4 888.9,393.8 891.2,395.1 891.5,397.3" fill="#dcdf85"/>
<polygon points="887.3,398.4 886.6,397.6 886.9,396.6 887.7,395.9 888.8,396.1 889.8,396.5 889.8,397.5 889.4,398.4 888.3,398.6" fill="#f0a450"/>
<polygon points="995.6,340.4 996.6,343.5 995.3,346.3 992.9,348.0 990.3,349.6 986.8,350.6 983.4,349.0 982.3,345.9 982.8,343.1 983.2,340.3 986.7,339.8 989.3,337.5 992.7,338.5" fill="#dcdf85"/>
<polygon points="993.9,345.5 991.5,347.5 988.2,347.0 985.1,346.5 984.1,343.9 986.1,342.0 988.2,339.8 991.3,341.1 993.8,342.7" fill="#f2cf72"/>
<polygon points="989.1,346.3 987.3,345.9 986.2,344.5 986.4,342.9 988.0,341.9 989.8,341.8 991.2,342.8 991.5,344.3 990.8,345.7" fill="#f0a450"/>
<polygon points="947.2,256.1 943.8,258.1 939.9,258.9 936.1,257.0 935.3,253.4 936.9,250.1 940.9,248.5 944.2,250.7 946.5,252.8" fill="#dcdf85"/>
<polygon points="944.3,253.8 944.0,255.5 942.3,256.7 940.2,256.2 939.0,254.9 938.9,253.2 940.0,251.9 941.8,251.5 943.6,252.2" fill="#f2cf72"/>
<polygon points="940.0,253.5 940.7,252.8 941.7,252.6 942.6,253.1 943.0,253.8 942.6,254.6 941.9,255.3 940.7,255.2 940.1,254.4" fill="#e8702e"/>
<polygon points="958.1,251.5 955.5,249.3 953.2,247.5 953.4,244.8 956.4,243.5 959.6,243.1 961.4,245.2 963.1,247.5 960.9,249.5" fill="#dcdf85"/>
<polygon points="958.7,248.5 957.0,248.6 955.7,247.7 955.7,246.4 956.6,245.4 958.1,245.0 959.6,245.5 960.5,246.6 959.9,247.8" fill="#f2cf72"/>
<polygon points="959.4,247.1 958.8,247.7 957.9,247.8 957.1,247.5 956.9,246.9 956.9,246.1 957.7,245.7 958.5,245.9 959.3,246.3" fill="#e8702e"/>
<polygon points="935.4,198.6 935.9,201.0 934.6,203.0 932.4,204.8 929.8,203.4 928.5,201.5 927.9,199.0 930.5,197.8 933.1,197.1" fill="#dcdf85"/>
<polygon points="930.4,200.8 930.8,199.9 931.6,199.4 932.7,199.5 933.2,200.2 933.4,201.1 932.8,201.8 931.8,201.9 930.8,201.7" fill="#f0a450"/>
<polygon points="901.8,201.9 899.5,204.1 896.1,204.0 893.0,203.4 892.5,200.9 893.7,199.1 895.7,197.7 898.4,197.8 900.0,199.5" fill="#dcdf85"/>
<polygon points="896.4,201.9 895.5,201.5 895.2,200.7 895.4,199.9 896.3,199.4 897.4,199.6 898.1,200.2 897.9,201.1 897.3,201.7" fill="#f0a450"/>
<polygon points="947.5,220.8 948.3,218.8 950.5,218.1 952.9,218.1 954.9,219.6 954.4,221.9 952.9,223.8 950.4,223.5 948.6,222.5" fill="#dcdf85"/>
<polygon points="952.3,220.2 952.4,221.1 951.8,221.7 950.9,222.0 950.2,221.6 949.6,221.0 949.9,220.2 950.6,219.6 951.6,219.6" fill="#f0a450"/>
<polygon points="970.2,241.8 972.7,241.3 974.9,242.9 974.3,245.2 973.1,247.1 970.7,247.2 968.1,246.8 967.5,244.6 967.9,242.5" fill="#dcdf85"/>
<polygon points="971.3,245.6 970.4,245.4 969.7,244.9 969.8,244.1 970.2,243.3 971.2,243.3 972.2,243.5 972.4,244.4 972.0,245.1" fill="#f0a450"/>
<polygon points="961.6,298.1 957.4,296.7 956.2,293.3 959.4,291.0 962.3,288.8 966.7,289.4 968.7,292.3 968.4,295.4 965.8,297.7" fill="#dcdf85"/>
<polygon points="959.7,293.9 960.4,292.2 962.1,291.1 964.2,291.4 965.7,292.5 965.6,294.1 964.6,295.4 962.8,295.8 961.0,295.2" fill="#f2cf72"/>
<polygon points="961.6,294.0 961.4,293.0 962.3,292.5 963.3,292.3 964.3,292.7 964.8,293.6 964.2,294.5 963.2,294.8 962.2,294.7" fill="#e8702e"/>
<polygon points="963.7,278.5 966.9,278.3 968.6,280.3 969.1,282.2 967.9,283.9 965.5,284.2 963.4,283.7 960.8,282.5 961.4,280.2" fill="#dcdf85"/>
<polygon points="963.9,282.3 964.1,281.4 964.6,280.6 965.6,280.6 966.7,280.9 967.1,281.8 966.5,282.6 965.6,283.0 964.6,283.0" fill="#f0a450"/>
<polygon points="961.0,261.7 959.7,263.0 957.8,263.9 956.1,262.7 954.8,261.3 955.3,259.4 957.2,258.6 959.3,258.5 960.6,259.9" fill="#dcdf85"/>
<polygon points="957.0,261.7 956.7,261.0 957.0,260.2 957.8,259.9 958.7,260.0 959.1,260.7 959.0,261.4 958.5,261.9 957.7,262.2" fill="#f0a450"/>
<polygon points="946.6,269.4 946.0,271.0 944.2,272.1 942.4,271.1 941.1,269.8 941.4,268.2 942.7,266.9 944.6,266.9 946.7,267.6" fill="#dcdf85"/>
<polygon points="944.9,268.9 945.1,269.7 944.5,270.3 943.6,270.3 942.9,269.8 942.6,269.1 943.0,268.4 943.8,268.0 944.6,268.2" fill="#f0a450"/>
<polygon points="975.6,257.1 977.3,257.9 979.1,259.1 978.7,261.0 977.1,262.2 975.0,262.3 973.0,261.4 973.2,259.6 973.7,258.0" fill="#dcdf85"/>
<polygon points="976.0,258.6 976.8,259.0 977.1,259.8 976.7,260.5 976.0,260.8 975.2,260.7 974.7,260.2 974.7,259.4 975.2,258.8" fill="#f0a450"/>
<polygon points="917.6,264.0 915.4,264.6 913.1,264.6 911.6,262.9 912.2,261.0 913.3,259.1 915.9,258.7 917.9,260.1 918.2,262.1" fill="#dcdf85"/>
<polygon points="916.3,262.2 915.8,262.8 915.1,263.0 914.2,262.9 913.7,262.2 913.7,261.4 914.5,261.0 915.4,260.9 916.2,261.4" fill="#f0a450"/>
<polygon points="903.6,273.6 905.8,273.4 907.6,274.4 908.1,276.2 907.3,277.8 905.4,278.7 903.2,278.2 902.0,276.7 902.0,274.9" fill="#dcdf85"/>
<polygon points="906.1,276.3 905.7,276.9 904.9,276.9 904.2,276.6 903.8,276.0 904.0,275.4 904.8,275.1 905.6,275.1 906.2,275.6" fill="#f0a450"/>
<polygon points="928.5,298.9 928.9,301.2 926.7,302.5 924.3,303.4 922.2,302.0 921.5,300.0 921.9,297.8 924.3,296.8 926.8,297.3" fill="#dcdf85"/>
<polygon points="923.9,300.4 923.7,299.6 924.3,299.0 925.2,298.9 926.1,299.2 926.3,300.0 926.1,300.7 925.2,301.0 924.4,300.9" fill="#f0a450"/>
<polygon points="889.9,350.0 887.2,349.3 886.9,347.3 887.1,345.6 888.7,343.9 891.2,344.8 893.0,345.8 894.0,347.6 892.8,349.7" fill="#dcdf85"/>
<polygon points="891.1,346.8 891.2,347.6 890.4,348.0 889.5,348.0 888.9,347.5 888.6,346.8 889.3,346.2 890.0,345.9 890.9,346.1" fill="#f0a450"/>
<polygon points="910.7,374.2 912.2,372.1 915.3,371.7 918.3,372.5 919.3,374.7 918.1,376.5 915.9,377.4 913.6,377.3 910.9,376.5" fill="#dcdf85"/>
<polygon points="916.4,374.4 916.3,375.3 915.9,376.1 914.9,376.1 914.1,375.8 913.6,375.1 913.9,374.3 914.7,373.9 915.5,374.0" fill="#f0a450"/>
<polygon points="849.4,354.4 846.5,354.9 843.6,354.9 841.8,353.1 841.4,350.5 844.4,349.6 846.8,349.1 849.3,350.0 850.1,352.1" fill="#dcdf85"/>
<polygon points="844.4,352.4 844.6,351.5 845.4,351.0 846.3,350.9 847.1,351.4 847.4,352.1 847.1,352.9 846.2,353.2 845.1,353.0" fill="#f0a450"/>
<polygon points="850.6,302.5 849.1,301.1 849.1,299.0 850.6,297.7 852.5,297.1 854.4,298.0 855.2,300.0 854.5,302.1 852.6,303.0" fill="#dcdf85"/>
<polygon points="850.9,299.4 851.5,298.9 852.3,298.9 853.1,299.3 853.2,300.1 852.7,300.8 852.1,301.1 851.3,300.9 850.9,300.3" fill="#f0a450"/>
<circle cx="880.2" cy="236.0" r="0.6" fill="#f0a450"/>
<circle cx="872.8" cy="234.7" r="0.7" fill="#f2cf72"/>
<circle cx="873.0" cy="243.5" r="0.7" fill="#e0401c"/>
<circle cx="872.4" cy="238.1" r="0.8" fill="#f0a450"/>
<circle cx="866.6" cy="236.7" r="0.9" fill="#e0401c"/>
<circle cx="869.4" cy="243.0" r="0.8" fill="#f0a450"/>
<circle cx="872.4" cy="240.5" r="0.6" fill="#e0401c"/>
<circle cx="878.1" cy="237.4" r="0.7" fill="#f2cf72"/>
<circle cx="872.8" cy="232.6" r="1.0" fill="#e0401c"/>
<circle cx="875.6" cy="236.9" r="0.8" fill="#f2cf72"/>
<circle cx="878.2" cy="238.6" r="0.7" fill="#f0a450"/>
<circle cx="867.3" cy="235.3" r="0.6" fill="#f0a450"/>
<circle cx="874.8" cy="239.8" r="0.7" fill="#f0a450"/>
<circle cx="868.4" cy="239.2" r="0.8" fill="#f0a450"/>
<circle cx="874.6" cy="234.7" r="0.9" fill="#f0a450"/>
<circle cx="877.8" cy="235.7" r="0.6" fill="#f0a450"/>
<circle cx="868.6" cy="235.5" r="1.0" fill="#f0a450"/>
<circle cx="896.0" cy="235.2" r="0.7" fill="#f0a450"/>
<circle cx="889.5" cy="239.1" r="1.0" fill="#e0401c"/>
<circle cx="883.8" cy="237.4" r="0.6" fill="#f0a450"/>
<circle cx="895.8" cy="237.0" r="0.7" fill="#f0a450"/>
<circle cx="885.0" cy="234.6" r="1.0" fill="#e0401c"/>
<circle cx="890.5" cy="241.8" r="0.7" fill="#f0a450"/>
<circle cx="893.8" cy="243.5" r="0.9" fill="#f2cf72"/>
<circle cx="888.9" cy="236.5" r="0.8" fill="#f0a450"/>
<circle cx="895.8" cy="243.5" r="1.0" fill="#f0a450"/>
<circle cx="891.3" cy="235.9" r="0.8" fill="#f0a450"/>
<circle cx="895.1" cy="236.9" r="0.7" fill="#f0a450"/>
<circle cx="886.0" cy="234.6" r="0.9" fill="#f2cf72"/>
<circle cx="889.7" cy="241.7" r="0.7" fill="#e0401c"/>
<circle cx="890.3" cy="237.4" r="0.8" fill="#e0401c"/>
<circle cx="894.2" cy="236.4" r="0.8" fill="#e0401c"/>
<circle cx="891.7" cy="240.0" r="0.8" fill="#e0401c"/>
<circle cx="890.1" cy="245.1" r="0.6" fill="#f0a450"/>
<circle cx="888.7" cy="236.0" r="1.0" fill="#f2cf72"/>
<circle cx="886.2" cy="223.9" r="0.8" fill="#f2cf72"/>
<circle cx="887.8" cy="224.5" r="0.6" fill="#f0a450"/>
<circle cx="886.1" cy="226.3" r="0.7" fill="#e0401c"/>
<circle cx="890.0" cy="226.8" r="0.7" fill="#f2cf72"/>
<circle cx="890.0" cy="222.8" r="0.9" fill="#e0401c"/>
<circle cx="936.4" cy="354.8" r="0.7" fill="#f0a450"/>
<circle cx="943.0" cy="354.6" r="0.9" fill="#e0401c"/>
<circle cx="935.3" cy="353.4" r="0.8" fill="#f0a450"/>
<circle cx="939.8" cy="354.2" r="1.0" fill="#f2cf72"/>
<circle cx="939.2" cy="361.0" r="1.0" fill="#e0401c"/>
<circle cx="945.3" cy="353.4" r="0.9" fill="#f0a450"/>
<circle cx="937.3" cy="353.3" r="0.7" fill="#f2cf72"/>
<circle cx="935.3" cy="352.3" r="0.8" fill="#f2cf72"/>
<circle cx="934.7" cy="348.9" r="0.7" fill="#f2cf72"/>
<circle cx="940.1" cy="358.8" r="0.6" fill="#f0a450"/>
<circle cx="939.4" cy="360.2" r="0.7" fill="#f0a450"/>
<circle cx="943.0" cy="352.5" r="0.8" fill="#e0401c"/>
<circle cx="944.4" cy="348.2" r="0.9" fill="#f2cf72"/>
<circle cx="944.7" cy="363.1" r="0.6" fill="#f0a450"/>
<circle cx="942.6" cy="360.0" r="0.6" fill="#f0a450"/>
<circle cx="937.5" cy="360.9" r="1.0" fill="#e0401c"/>
<circle cx="933.8" cy="350.6" r="0.7" fill="#f0a450"/>
<circle cx="937.5" cy="353.1" r="0.9" fill="#f2cf72"/>
<circle cx="946.0" cy="361.6" r="0.9" fill="#f2cf72"/>
<circle cx="938.2" cy="348.6" r="1.0" fill="#e0401c"/>
<circle cx="946.0" cy="356.8" r="0.8" fill="#f0a450"/>
<circle cx="946.0" cy="361.2" r="0.9" fill="#e0401c"/>
<circle cx="933.0" cy="362.0" r="0.8" fill="#e0401c"/>
<circle cx="950.1" cy="355.4" r="0.7" fill="#e0401c"/>
<circle cx="941.1" cy="365.5" r="1.0" fill="#f0a450"/>
<circle cx="938.3" cy="363.1" r="0.9" fill="#f0a450"/>
<circle cx="944.2" cy="359.8" r="0.6" fill="#e0401c"/>
<circle cx="935.3" cy="353.9" r="0.9" fill="#f0a450"/>
<circle cx="949.4" cy="361.0" r="0.9" fill="#f2cf72"/>
<circle cx="938.9" cy="361.4" r="0.7" fill="#f2cf72"/>
<circle cx="942.4" cy="358.4" r="0.6" fill="#f0a450"/>
<circle cx="940.5" cy="352.1" r="0.7" fill="#e0401c"/>
<circle cx="945.1" cy="360.1" r="0.7" fill="#f0a450"/>
<circle cx="946.1" cy="349.8" r="0.9" fill="#e0401c"/>
<circle cx="944.1" cy="365.1" r="0.8" fill="#f0a450"/>
<circle cx="943.8" cy="361.7" r="0.9" fill="#f0a450"/>
<circle cx="944.5" cy="366.1" r="0.9" fill="#e0401c"/>
<circle cx="946.5" cy="365.9" r="0.8" fill="#e0401c"/>
<circle cx="946.0" cy="358.7" r="0.8" fill="#e0401c"/>
<circle cx="942.9" cy="364.1" r="0.7" fill="#f2cf72"/>
<circle cx="952.1" cy="363.6" r="0.7" fill="#e0401c"/>
<circle cx="943.1" cy="364.5" r="0.9" fill="#f0a450"/>
<circle cx="943.7" cy="364.0" r="0.8" fill="#f2cf72"/>
<circle cx="839.2" cy="370.5" r="0.7" fill="#f0a450"/>
<circle cx="839.4" cy="371.0" r="0.8" fill="#e0401c"/>
<circle cx="840.2" cy="367.9" r="0.6" fill="#f0a450"/>
<circle cx="834.4" cy="369.0" r="1.0" fill="#e0401c"/>
<circle cx="834.0" cy="372.8" r="0.8" fill="#f2cf72"/>
<circle cx="839.4" cy="368.4" r="0.7" fill="#f2cf72"/></g>
</g>
<g filter="url(#soft)" fill="none" stroke="#33703a" stroke-width="1.1" stroke-opacity="0.85" stroke-linejoin="round">
<polygon points="712.2,107.6 712.2,89.8 683.3,89.4 682.7,107.6"/>
<polygon points="712.2,107.6 728.9,107.6 728.9,90.0 712.2,89.8"/>
<polygon points="728.9,107.6 746.6,107.6 746.6,90.3 728.9,90.0"/>
<polygon points="746.6,107.6 764.3,107.6 764.3,90.5 746.6,90.3"/>
<polygon points="764.3,107.6 783.0,107.6 783.0,90.8 764.3,90.5"/>
<polygon points="712.2,125.3 712.2,107.6 682.7,107.6 682.1,125.3"/>
<polygon points="712.2,107.6 712.2,125.3 728.9,125.3 728.9,107.6"/>
<polygon points="728.9,107.6 728.9,125.3 746.6,125.3 746.6,107.6"/>
<polygon points="746.6,107.6 746.6,125.3 764.3,125.3 764.3,107.6"/>
<polygon points="764.3,107.6 764.3,125.3 783.1,125.3 783.0,107.6"/>
<polygon points="712.2,142.6 712.2,125.3 682.1,125.3 681.6,142.6"/>
<polygon points="712.2,125.3 712.2,142.6 728.9,142.6 728.9,125.3"/>
<polygon points="728.9,125.3 728.9,142.6 746.6,142.6 746.6,125.3"/>
<polygon points="746.6,125.3 746.6,142.6 764.3,142.6 764.3,125.3"/>
<polygon points="764.3,125.3 764.3,142.6 783.1,142.6 783.1,125.3"/>
<polygon points="703.3,160.3 703.3,142.6 681.6,142.6 681.0,160.3"/>
<polygon points="703.3,142.6 703.3,160.3 712.2,160.3 712.2,142.6"/>
<polygon points="712.2,142.6 712.2,160.3 728.9,160.3 728.9,142.6"/>
<polygon points="728.9,142.6 728.9,160.3 746.6,160.3 746.6,142.6"/>
<polygon points="746.6,142.6 746.6,160.3 764.3,160.3 764.3,142.6"/>
<polygon points="764.3,142.6 764.3,160.3 783.2,160.3 783.1,142.6"/>
<polygon points="698.4,177.8 698.4,160.3 681.0,160.3 680.7,170.0 680.5,177.8"/>
<polygon points="698.4,160.3 698.4,177.8 716.1,177.8 716.1,160.3"/>
<polygon points="716.1,160.3 716.1,177.8 733.2,177.8 733.2,160.3"/>
<polygon points="733.2,160.3 733.2,177.8 750.5,177.8 750.5,160.3"/>
<polygon points="750.5,160.3 750.5,177.8 767.9,177.8 767.9,160.3"/>
<polygon points="767.9,160.3 767.9,177.8 790.0,177.8 790.0,173.7 789.5,173.6 783.2,167.7 783.2,160.3"/>
<polygon points="695.8,196.0 695.8,177.8 680.5,177.8 679.9,196.0"/>
<polygon points="695.8,177.8 695.8,196.0 712.8,196.0 712.8,177.8"/>
<polygon points="712.8,177.8 712.8,196.0 729.9,196.0 729.9,177.8"/>
<polygon points="729.9,177.8 729.9,196.0 747.6,196.0 747.6,177.8"/>
<polygon points="747.6,177.8 747.6,196.0 764.3,196.0 764.3,177.8"/>
<polygon points="764.3,177.8 764.3,196.0 781.0,196.0 781.0,177.8"/>
<polygon points="781.0,177.8 781.0,196.0 799.8,196.0 799.8,177.8"/>
<polygon points="799.8,177.8 799.8,196.0 817.5,196.0 817.5,183.4 816.7,183.1 810.8,181.9 808.7,177.8"/>
<polygon points="695.8,214.3 695.8,196.0 679.9,196.0 679.3,214.3"/>
<polygon points="695.8,196.0 695.8,214.3 712.8,214.3 712.8,196.0"/>
<polygon points="712.8,196.0 712.8,214.3 729.9,214.3 729.9,196.0"/>
<polygon points="729.9,196.0 729.9,214.3 747.6,214.3 747.6,196.0"/>
<polygon points="747.6,196.0 747.6,214.3 764.3,214.3 764.3,196.0"/>
<polygon points="764.3,196.0 764.3,214.3 781.0,214.3 781.0,196.0"/>
<polygon points="781.0,196.0 781.0,214.3 799.8,214.3 799.8,196.0"/>
<polygon points="799.8,196.0 799.8,214.3 817.5,214.3 817.5,196.0"/>
<polygon points="817.5,196.0 817.5,214.3 835.0,214.3 835.0,196.0"/>
<polygon points="695.8,232.0 695.8,214.3 679.3,214.3 678.8,232.0"/>
<polygon points="695.8,214.3 695.8,232.0 712.8,232.0 712.8,214.3"/>
<polygon points="712.8,214.3 712.8,232.0 729.9,232.0 729.9,214.3"/>
<polygon points="729.9,214.3 729.9,232.0 747.6,232.0 747.6,214.3"/>
<polygon points="747.6,214.3 747.6,232.0 764.3,232.0 764.3,214.3"/>
<polygon points="764.3,214.3 764.3,232.0 781.0,232.0 781.0,214.3"/>
<polygon points="781.0,214.3 781.0,232.0 799.8,232.0 799.8,214.3"/>
<polygon points="799.8,214.3 799.8,232.0 817.5,232.0 817.5,214.3"/>
<polygon points="817.5,214.3 817.5,232.0 835.0,232.0 835.0,214.3"/>
<polygon points="707.2,248.7 707.2,232.0 678.8,232.0 678.2,248.7"/>
<polygon points="707.2,232.0 707.2,248.7 725.0,248.7 725.0,232.0"/>
<polygon points="725.0,232.0 725.0,248.7 742.7,248.7 742.7,232.0"/>
<polygon points="742.7,232.0 742.7,248.7 760.4,248.7 760.4,232.0"/>
<polygon points="760.4,232.0 760.4,248.7 778.1,248.7 778.1,232.0"/>
<polygon points="778.1,232.0 778.1,248.7 795.8,248.7 795.8,232.0"/>
<polygon points="795.8,232.0 795.8,248.7 813.5,248.7 813.5,232.0"/>
<polygon points="813.5,232.0 813.5,248.7 831.0,248.7 831.0,232.0"/>
<polygon points="707.2,266.9 707.2,248.7 678.2,248.7 677.7,266.9"/>
<polygon points="707.2,248.7 707.2,266.9 725.0,266.9 725.0,248.7"/>
<polygon points="725.0,248.7 725.0,266.9 742.7,266.9 742.7,248.7"/>
<polygon points="742.7,248.7 742.7,266.9 760.4,266.9 760.4,248.7"/>
<polygon points="760.4,248.7 760.4,266.9 778.1,266.9 778.1,248.7"/>
<polygon points="778.1,248.7 778.1,266.9 795.8,266.9 795.8,248.7"/>
<polygon points="795.8,248.7 795.8,266.9 813.5,266.9 813.5,248.7"/>
<polygon points="813.5,248.7 813.5,266.9 831.0,266.9 831.0,248.7"/>
<polygon points="668.0,284.0 687.7,284.0 687.7,266.9 677.7,266.9 677.6,269.0 668.0,268.7"/>
<polygon points="687.7,266.9 687.7,284.0 704.3,284.0 704.3,266.9"/>
<polygon points="704.3,266.9 704.3,284.0 720.8,284.0 720.8,266.9"/>
<polygon points="720.8,266.9 720.8,284.0 739.7,284.0 739.7,266.9"/>
<polygon points="739.7,266.9 739.7,284.0 753.9,284.0 753.9,266.9"/>
<polygon points="753.9,266.9 753.9,284.0 774.0,284.0 774.0,266.9"/>
<polygon points="774.0,266.9 774.0,284.0 792.0,284.0 792.0,266.9"/>
<polygon points="792.0,266.9 792.0,284.0 810.0,284.0 810.0,266.9"/>
<polygon points="810.0,266.9 810.0,284.0 828.0,284.0 828.0,266.9"/>
<polygon points="687.7,284.0 687.7,307.5 703.1,307.5 703.1,284.0"/>
<polygon points="703.1,284.0 703.1,307.5 721.5,307.5 721.5,284.0"/>
<polygon points="721.5,284.0 721.5,307.5 739.0,307.5 739.0,284.0"/>
<polygon points="739.0,284.0 739.0,307.5 758.6,307.5 758.6,284.0"/>
<polygon points="758.6,284.0 758.6,307.5 778.7,307.5 778.7,284.0"/>
<polygon points="778.7,284.0 778.7,307.5 799.5,307.5 799.5,284.0"/>
<polygon points="799.5,284.0 799.5,307.5 820.0,307.5 820.0,284.0"/>
<polygon points="578.0,265.6 556.1,264.8 559.7,271.7 569.5,286.4 577.4,289.4 577.5,289.5"/>
<polygon points="574.6,288.3 577.4,289.4 587.9,303.3 592.2,297.2 593.1,289.4 598.0,287.4 599.0,277.6 612.8,275.6 613.8,267.0 578.0,265.6"/>
<polygon points="612.8,275.6 599.0,277.6 598.0,287.4 593.1,289.4 592.2,297.2 586.7,301.7 589.2,305.0 597.0,314.0 600.0,314.8 602.9,316.7 613.0,312.0 642.4,305.1 644.3,268.0 613.8,267.0"/>
<polygon points="668.0,284.0 668.0,269.3 644.3,268.0"/>
<polygon points="642.4,305.1 659.0,315.7 672.0,307.5 700.0,307.5 700.0,296.0 687.7,284.0 687.7,269.5 668.0,269.3 668.0,284.0 644.3,268.0"/>
<polygon points="613.0,312.0 606.0,318.0 613.0,323.0 650.0,333.0 659.0,315.7 642.4,305.1"/>
<polygon points="612.8,325.5 614.8,331.5 618.7,339.4 619.7,351.2 625.6,363.0 635.4,372.8 649.1,378.6 650.0,333.0 613.0,323.0"/>
<polygon points="649.1,378.6 649.2,378.7 657.1,384.6 663.0,389.6 668.9,391.0 673.8,388.6 680.7,381.7 684.6,368.9 690.6,362.0 700.4,358.0 701.4,357.6 701.4,338.4 693.5,339.4 692.5,346.3 659.0,315.7 650.0,333.0"/>
<polygon points="692.5,346.3 693.5,339.4 701.4,338.4 701.4,325.6 725.0,324.6 724.5,338.4 747.6,338.4 747.6,307.5 672.0,307.5 659.0,315.7"/>
<polygon points="701.4,357.6 703.3,356.7 710.2,358.7 722.0,359.0 724.5,359.5 725.0,324.6 701.4,325.6"/>
<polygon points="724.5,359.5 731.9,361.0 737.8,367.9 745.7,373.8 754.0,380.5 757.9,374.0 757.9,338.4 724.5,338.4"/>
<polygon points="757.9,365.6 781.5,365.6 781.5,338.4 757.9,338.4"/>
<polygon points="747.6,338.4 778.0,338.4 778.0,307.5 747.6,307.5"/>
<polygon points="778.0,322.6 799.5,322.6 799.5,307.5 778.0,307.5"/>
<polygon points="825.6,428.4 842.0,428.4 842.0,405.3 825.6,405.3"/>
<polygon points="851.8,229.8 870.1,229.8 870.1,212.7 851.8,212.7"/>
<polygon points="870.1,229.8 889.0,229.8 889.0,212.7 870.1,212.7"/>
<polygon points="889.0,229.8 906.7,229.8 906.7,212.7 889.0,212.7"/>
<polygon points="906.7,229.8 921.5,229.8 921.5,212.7 906.7,212.7"/>
<polygon points="849.0,247.6 865.4,247.6 865.4,229.8 849.0,229.8"/>
<polygon points="865.4,247.6 882.5,247.6 882.5,229.8 865.4,229.8"/>
<polygon points="882.5,247.6 900.2,247.6 900.2,229.8 882.5,229.8"/>
<polygon points="900.2,247.6 915.0,247.6 915.0,229.8 900.2,229.8"/>
<polygon points="856.0,262.0 869.0,262.0 869.0,247.6 856.0,247.6"/>
<polygon points="869.0,262.5 886.0,262.5 886.0,247.6 869.0,247.6"/>
<polygon points="886.0,264.0 905.0,264.0 905.0,247.6 886.0,247.6"/>
<polygon points="855.5,485.5 873.0,485.5 871.8,471.9 873.9,462.4 855.5,462.4"/>
<polygon points="798.2,174.7 797.8,174.8 790.0,173.7 790.0,177.8 797.7,177.8"/>
<polygon points="797.7,177.8 808.7,177.8 808.4,177.2 803.7,173.2 798.2,174.7"/>
<polygon points="832.7,195.5 832.4,186.1 828.5,185.0 823.8,185.4 817.5,183.4 817.5,195.9 832.2,195.9"/>
<polygon points="834.6,195.9 835.0,195.9 835.0,196.0 835.0,196.0 835.0,196.0 835.0,196.0 835.0,196.0 835.0,196.0 835.0,196.0 835.0,196.0 835.0,196.0 835.0,196.0 835.0,196.0 835.0,196.0 835.0,196.0 835.0,196.0 835.0,196.0 835.0,196.0 835.0,196.0 848.5,198.9 849.3,198.0 845.5,186.1 845.0,185.4 838.0,185.0 834.4,186.6 832.4,186.1 832.7,195.5"/>
<polygon points="855.8,196.2 857.2,193.5 854.5,194.9 848.6,190.6 845.5,186.1 849.3,198.0"/>
<polygon points="877.6,198.2 874.0,193.6 867.5,194.9 861.6,191.3 857.2,193.5 855.8,196.2 865.6,202.3 876.7,199.3"/>
<polygon points="891.9,202.8 896.2,198.3 893.9,193.6 890.7,194.8 883.6,191.7 878.0,197.9"/>
<polygon points="896.2,198.3 901.4,197.5 895.4,193.0 893.9,193.6"/>
<polygon points="908.3,196.3 912.8,203.6 924.9,200.9 927.2,191.5 919.0,193.0 909.6,194.8 908.3,195.4"/>
<polygon points="938.7,189.8 930.9,190.8 927.2,191.5 924.9,200.9 931.4,205.2 941.6,196.2"/>
<polygon points="946.7,198.2 953.4,194.9 949.8,192.4 941.5,189.4 938.7,189.8 941.6,196.2"/>
<polygon points="976.5,206.5 980.0,202.5 973.4,201.9 969.1,201.2"/>
<polygon points="846.3,210.9 846.7,210.6 848.5,198.9 835.0,196.0 835.0,212.0"/>
<polygon points="865.6,202.3 855.8,196.2 849.3,198.0 848.5,198.9 846.7,210.6 851.8,212.9 851.8,212.7 851.8,212.7 851.8,212.7 851.8,212.7 851.8,212.7 851.8,212.7 851.8,212.7 851.8,212.7 851.8,212.7 851.8,212.7 851.8,212.7 851.8,212.7 851.8,212.7 851.8,212.7 851.8,212.7 851.8,212.7 851.8,212.6 863.3,212.6"/>
<polygon points="876.7,199.3 865.6,202.3 863.3,212.6 876.6,212.6 878.4,212.1"/>
<polygon points="891.9,202.8 878.0,197.9 877.7,198.3 877.6,198.2 876.7,199.3 878.4,212.1 878.9,212.6 893.8,212.6"/>
<polygon points="912.8,203.6 908.3,196.3 905.6,196.8 902.5,198.3 901.4,197.5 896.2,198.3 891.9,202.8 893.8,212.6 910.5,212.6"/>
<polygon points="924.9,200.9 912.8,203.6 910.5,212.6 921.5,212.6 921.5,212.7 921.5,212.7 921.5,212.7 921.5,212.7 921.5,212.7 921.5,212.7 921.5,212.7 921.5,212.7 921.5,212.7 921.5,212.7 921.5,212.7 921.5,212.7 921.5,212.7 921.5,212.7 921.5,212.7 921.5,212.7 921.5,217.9 928.1,219.0 934.9,214.0 931.4,205.2"/>
<polygon points="931.4,205.2 934.9,214.0 944.3,216.8 947.7,212.3 946.7,198.2 941.6,196.2"/>
<polygon points="947.7,212.3 957.4,209.2 959.8,198.3 956.9,197.2 953.4,194.9 946.7,198.2"/>
<polygon points="976.1,208.8 976.5,206.5 969.1,201.2 966.3,200.7 959.8,198.3 957.4,209.2 968.3,215.4 971.3,213.7"/>
<polygon points="982.4,214.1 981.0,202.6 980.0,202.5 976.5,206.5 976.1,208.8"/>
<polygon points="843.8,229.5 846.3,210.9 835.0,212.0 835.0,229.7"/>
<polygon points="843.8,229.5 849.0,233.2 849.0,229.8 849.0,229.8 849.0,229.8 849.0,229.8 849.0,229.8 849.0,229.8 849.0,229.8 849.0,229.8 849.0,229.8 849.0,229.8 849.0,229.8 849.0,229.8 849.0,229.8 849.0,229.8 849.0,229.8 849.0,229.8 849.0,229.8 851.8,229.8 851.8,212.9 846.7,210.6 846.3,210.9"/>
<polygon points="927.6,234.1 928.1,219.0 921.5,217.9 921.5,229.8 921.5,229.8 921.5,229.8 921.5,229.8 921.5,229.8 921.5,229.8 921.5,229.8 921.5,229.8 921.5,229.8 921.5,229.8 921.5,229.8 921.5,229.8 921.5,229.8 921.5,229.8 921.5,229.8 921.5,229.8 921.5,229.9 915.0,229.9 915.0,231.9 926.8,235.0"/>
<polygon points="947.4,229.1 948.5,227.3 944.3,216.8 934.9,214.0 928.1,219.0 927.6,234.1"/>
<polygon points="944.3,216.8 948.5,227.3 958.8,227.7 963.1,225.9 968.3,215.4 957.4,209.2 947.7,212.3"/>
<polygon points="968.3,215.4 963.1,225.9 978.5,236.4 982.8,232.9 971.3,213.7"/>
<polygon points="982.8,232.9 983.2,232.7 982.8,217.0 982.4,214.1 976.1,208.8 971.3,213.7"/>
<polygon points="848.1,245.6 849.0,244.8 849.0,233.2 843.8,229.5 835.0,229.7 835.0,232.0 835.0,232.0 835.0,232.0 835.0,232.0 835.0,232.0 835.0,232.0 835.0,232.0 835.0,232.0 835.0,232.0 835.0,232.0 835.0,232.0 835.0,232.0 835.0,232.0 835.0,232.0 835.0,232.0 835.0,232.0 835.0,232.1 831.0,232.1 831.0,246.8"/>
<polygon points="927.1,245.1 927.9,243.8 926.8,235.0 915.0,231.9 915.0,247.6 915.0,247.6 915.0,247.6 915.0,247.6 915.0,247.6 915.0,247.6 915.0,247.6 915.0,247.6 915.0,247.6 915.0,247.6 915.0,247.6 915.0,247.6 915.0,247.6 915.0,247.6 915.0,247.6 915.0,247.6 915.0,247.7 909.9,247.7 910.7,249.1"/>
<polygon points="947.1,241.5 947.4,229.1 927.6,234.1 926.8,235.0 927.9,243.8 942.7,247.2"/>
<polygon points="961.6,246.9 963.4,246.0 958.8,227.7 948.5,227.3 947.4,229.1 947.1,241.5"/>
<polygon points="975.7,246.1 978.5,236.4 963.1,225.9 958.8,227.7 963.4,246.0 974.9,246.9"/>
<polygon points="982.8,232.9 978.5,236.4 975.7,246.1 983.9,248.0 983.3,238.5 983.2,232.7"/>
<polygon points="845.8,262.1 848.1,245.6 831.0,246.8 831.0,261.4"/>
<polygon points="848.1,245.6 845.8,262.1 846.2,262.5 856.0,261.3 856.0,247.7 849.0,247.7 849.0,247.6 849.0,247.6 849.0,247.6 849.0,247.6 849.0,247.6 849.0,247.6 849.0,247.6 849.0,247.6 849.0,247.6 849.0,247.6 849.0,247.6 849.0,247.6 849.0,247.6 849.0,247.6 849.0,247.6 849.0,247.6 849.0,244.8"/>
<polygon points="909.9,247.7 905.0,247.7 905.0,257.6 909.8,254.9 910.7,249.1"/>
<polygon points="909.8,254.9 921.6,266.0 923.8,266.6 927.5,263.9 927.1,245.1 910.7,249.1"/>
<polygon points="944.8,259.0 942.7,247.2 927.9,243.8 927.1,245.1 927.5,263.9 940.4,263.2"/>
<polygon points="954.7,260.3 961.6,246.9 947.1,241.5 942.7,247.2 944.8,259.0"/>
<polygon points="959.1,264.9 975.1,260.1 975.7,258.8 974.9,246.9 963.4,246.0 961.6,246.9 954.7,260.3"/>
<polygon points="975.7,246.1 974.9,246.9 975.7,258.8 985.5,259.3 984.0,250.3 983.9,248.0"/>
<polygon points="619.5,267.0 602.8,266.4 602.8,266.5 613.8,267.0 619.5,267.1"/>
<polygon points="637.2,267.6 619.5,267.0 619.5,267.1 637.1,267.7"/>
<polygon points="650.8,268.3 668.0,269.2 668.0,268.7 650.8,268.1"/>
<polygon points="845.8,262.1 831.0,261.4 831.0,266.9 831.0,266.9 831.0,266.9 831.0,266.9 831.0,266.9 831.0,266.9 831.0,266.9 831.0,266.9 831.0,266.9 831.0,266.9 831.0,266.9 831.0,266.9 831.0,266.9 831.0,266.9 831.0,266.9 831.0,266.9 831.0,266.9 828.0,266.9 828.0,276.4 830.3,279.2 848.2,278.6 848.8,278.2 846.2,262.5"/>
<polygon points="862.0,278.5 861.6,262.4 861.3,262.1 856.0,262.1 856.0,262.0 856.0,262.0 856.0,262.0 856.0,262.0 856.0,262.0 856.0,262.0 856.0,262.0 856.0,262.0 856.0,262.0 856.0,262.0 856.0,262.0 856.0,262.0 856.0,262.0 856.0,262.0 856.0,262.0 856.0,262.0 856.0,261.3 846.2,262.5 848.8,278.2 860.9,279.6"/>
<polygon points="883.2,262.6 869.0,262.6 869.0,262.5 869.0,262.5 869.0,262.5 869.0,262.5 869.0,262.5 869.0,262.5 869.0,262.5 869.0,262.5 869.0,262.5 869.0,262.5 869.0,262.5 869.0,262.5 869.0,262.5 869.0,262.5 869.0,262.5 869.0,262.5 869.0,262.1 866.5,262.1 861.6,262.4 862.0,278.5 878.9,273.8"/>
<polygon points="881.9,280.2 896.1,282.9 902.3,274.2 896.0,264.1 886.0,264.1 886.0,264.0 886.0,264.0 886.0,264.0 886.0,264.0 886.0,264.0 886.0,264.0 886.0,264.0 886.0,264.0 886.0,264.0 886.0,264.0 886.0,264.0 886.0,264.0 886.0,264.0 886.0,264.0 886.0,264.0 886.0,264.0 886.0,262.6 883.2,262.6 878.9,273.8"/>
<polygon points="905.0,257.6 905.0,264.0 905.0,264.0 905.0,264.0 905.0,264.0 905.0,264.0 905.0,264.0 905.0,264.0 905.0,264.0 905.0,264.0 905.0,264.0 905.0,264.0 905.0,264.0 905.0,264.0 905.0,264.0 905.0,264.0 905.0,264.0 905.0,264.1 896.0,264.1 902.3,274.2 903.6,274.5 921.6,266.0 909.8,254.9"/>
<polygon points="921.6,266.0 903.6,274.5 915.0,287.4 925.1,277.5 923.8,266.6"/>
<polygon points="940.4,263.2 927.5,263.9 923.8,266.6 925.1,277.5 933.2,282.6 945.0,280.4"/>
<polygon points="959.3,271.0 959.1,264.9 954.7,260.3 944.8,259.0 940.4,263.2 945.0,280.4 946.6,281.3"/>
<polygon points="968.5,279.6 972.6,279.4 979.4,273.8 975.1,260.1 959.1,264.9 959.3,271.0"/>
<polygon points="992.5,272.3 991.4,270.0 986.4,264.5 985.5,259.3 975.7,258.8 975.1,260.1 979.4,273.8 986.5,275.3"/>
<polygon points="830.3,279.2 828.0,276.4 828.0,284.0 828.0,284.0 828.0,284.0 828.0,284.0 828.0,284.0 828.0,284.0 828.0,284.0 828.0,284.0 828.0,284.0 828.0,284.0 828.0,284.0 828.0,284.0 828.0,284.0 828.0,284.0 828.0,284.0 828.0,284.0 828.0,284.1 820.0,284.1 820.0,293.1 829.3,292.3"/>
<polygon points="844.6,296.9 848.2,278.6 830.3,279.2 829.3,292.3 830.9,294.6"/>
<polygon points="864.1,292.2 860.9,279.6 848.8,278.2 848.2,278.6 844.6,296.9 846.0,298.4 862.0,297.2"/>
<polygon points="862.0,278.5 860.9,279.6 864.1,292.2 880.3,291.2 881.9,280.2 878.9,273.8"/>
<polygon points="880.3,291.2 885.6,298.8 895.3,297.0 898.1,295.8 896.1,282.9 881.9,280.2"/>
<polygon points="896.1,282.9 898.1,295.8 906.6,298.0 914.4,291.3 915.0,287.4 903.6,274.5 902.3,274.2"/>
<polygon points="925.1,277.5 915.0,287.4 914.4,291.3 930.3,299.5 931.3,298.1 933.2,282.6"/>
<polygon points="945.0,280.4 933.2,282.6 931.3,298.1 951.1,290.7 946.6,281.3"/>
<polygon points="951.1,290.7 955.5,294.5 956.4,294.6 968.5,279.6 959.3,271.0 946.6,281.3"/>
<polygon points="956.4,294.6 959.2,297.3 978.5,295.2 972.6,279.4 968.5,279.6"/>
<polygon points="990.0,294.4 990.2,294.2 986.5,275.3 979.4,273.8 972.6,279.4 978.5,295.2 982.6,297.6"/>
<polygon points="990.2,294.2 999.6,289.7 996.9,284.2 994.5,276.3 992.5,272.3 986.5,275.3"/>
<polygon points="827.2,308.9 830.9,294.6 829.3,292.3 820.0,293.1 820.0,307.5 820.0,307.5 820.0,307.5 820.0,307.5 820.0,307.5 820.0,307.5 820.0,307.5 820.0,307.5 820.0,307.5 820.0,307.5 820.0,307.5 820.0,307.5 820.0,307.5 820.0,307.5 820.0,307.5 820.0,307.5 820.0,307.6 809.8,307.6 810.1,307.8"/>
<polygon points="846.0,298.4 844.6,296.9 830.9,294.6 827.2,308.9 829.4,311.8 844.9,311.1"/>
<polygon points="865.2,305.6 862.0,297.2 846.0,298.4 844.9,311.1 846.0,312.5 863.2,309.5"/>
<polygon points="881.2,307.6 885.6,298.8 880.3,291.2 864.1,292.2 862.0,297.2 865.2,305.6"/>
<polygon points="893.3,319.1 896.0,316.8 895.3,297.0 885.6,298.8 881.2,307.6 881.9,309.7"/>
<polygon points="909.8,310.2 906.6,298.0 898.1,295.8 895.3,297.0 896.0,316.8"/>
<polygon points="931.0,304.7 930.3,299.5 914.4,291.3 906.6,298.0 909.8,310.2 909.8,310.2 924.3,310.9"/>
<polygon points="951.1,290.7 931.3,298.1 930.3,299.5 931.0,304.7 941.5,310.7 955.5,294.5"/>
<polygon points="955.5,294.5 941.5,310.7 944.4,317.7 955.3,315.7 961.5,304.2 959.2,297.3 956.4,294.6"/>
<polygon points="982.6,297.6 978.5,295.2 959.2,297.3 961.5,304.2 976.3,314.9 979.3,312.1"/>
<polygon points="995.3,314.7 1000.1,306.9 990.0,294.4 982.6,297.6 979.3,312.1"/>
<polygon points="1003.6,306.5 1003.9,299.1 1001.6,293.6 999.6,289.7 990.2,294.2 990.0,294.4 1000.1,306.9"/>
<polygon points="612.7,325.4 612.9,323.0 606.0,318.0 606.0,318.0 606.0,318.0 606.0,318.0 606.0,318.0 606.0,318.0 606.0,318.0 606.0,318.0 606.0,318.0 606.0,318.0 606.0,318.0 606.0,318.0 606.0,318.0 606.0,318.0 606.0,318.0 606.0,318.0 606.0,318.0 606.0,318.0 606.0,318.0 612.7,312.2 602.9,316.7 611.8,322.6"/>
<polygon points="780.0,326.3 781.1,322.7 778.0,322.7 778.0,326.0"/>
<polygon points="780.0,326.3 782.2,329.2 796.3,328.7 798.8,325.1 798.7,322.7 781.1,322.7"/>
<polygon points="809.8,307.6 799.5,307.6 799.5,322.6 799.5,322.6 799.5,322.6 799.5,322.6 799.5,322.6 799.5,322.6 799.5,322.6 799.5,322.6 799.5,322.6 799.5,322.6 799.5,322.6 799.5,322.6 799.5,322.6 799.5,322.6 799.5,322.6 799.5,322.6 799.5,322.7 798.7,322.7 798.8,325.1 815.4,329.0 817.4,327.0 810.1,307.8"/>
<polygon points="817.4,327.0 827.9,324.9 829.4,311.8 827.2,308.9 810.1,307.8"/>
<polygon points="844.9,311.1 829.4,311.8 827.9,324.9 833.4,329.4 847.9,326.5 847.9,326.4 846.0,312.5"/>
<polygon points="846.0,312.5 847.9,326.4 864.5,324.5 863.2,309.5"/>
<polygon points="864.5,324.5 865.3,325.0 873.5,323.9 881.9,309.7 881.2,307.6 865.2,305.6 863.2,309.5"/>
<polygon points="873.5,323.9 880.1,328.4 893.4,325.5 893.3,319.1 881.9,309.7"/>
<polygon points="906.9,330.4 912.0,325.5 909.8,310.2 909.8,310.2 896.0,316.8 893.3,319.1 893.4,325.5 898.3,332.5"/>
<polygon points="924.3,310.9 909.8,310.2 912.0,325.5 925.4,327.0 926.2,326.1"/>
<polygon points="942.7,324.0 944.4,317.7 941.5,310.7 931.0,304.7 924.3,310.9 926.2,326.1 942.7,324.1"/>
<polygon points="966.7,324.8 955.3,315.7 944.4,317.7 942.7,324.0 958.3,330.8"/>
<polygon points="961.5,304.2 955.3,315.7 966.7,324.8 973.9,324.3 976.3,314.9"/>
<polygon points="976.3,314.9 973.9,324.3 976.3,328.0 996.9,328.3 999.1,325.9 995.3,314.7 979.3,312.1"/>
<polygon points="999.1,325.9 1000.7,325.8 1001.6,320.4 1003.5,309.4 1003.6,306.5 1000.1,306.9 995.3,314.7"/>
<polygon points="780.0,326.3 778.0,326.0 778.0,338.3 780.5,338.3 782.2,329.2"/>
<polygon points="796.3,328.7 782.2,329.2 780.5,338.3 781.5,338.3 781.5,338.4 781.5,338.4 781.5,338.4 781.5,338.4 781.5,338.4 781.5,338.4 781.5,338.4 781.5,338.4 781.5,338.4 781.5,338.4 781.5,338.4 781.5,338.4 781.5,338.4 781.5,338.4 781.5,338.4 781.5,338.4 781.5,346.2 799.0,342.7 799.1,342.6"/>
<polygon points="796.3,328.7 799.1,342.6 813.7,342.1 815.4,329.0 798.8,325.1"/>
<polygon points="815.4,329.0 813.7,342.1 815.5,344.1 831.5,344.0 833.4,329.4 827.9,324.9 817.4,327.0"/>
<polygon points="831.8,344.3 850.1,344.4 851.0,343.4 847.9,326.5 833.4,329.4 831.5,344.0"/>
<polygon points="847.9,326.4 847.9,326.5 851.0,343.4 867.1,344.0 867.1,344.0 865.3,325.0 864.5,324.5"/>
<polygon points="865.3,325.0 867.1,344.0 879.0,343.7 880.1,328.4 873.5,323.9"/>
<polygon points="898.3,332.5 893.4,325.5 880.1,328.4 879.0,343.7 883.9,346.2 895.6,343.0"/>
<polygon points="915.3,346.5 919.0,343.6 906.9,330.4 898.3,332.5 895.6,343.0 899.1,346.9"/>
<polygon points="912.0,325.5 906.9,330.4 919.0,343.6 925.4,342.5 925.4,327.0"/>
<polygon points="942.7,324.1 926.2,326.1 925.4,327.0 925.4,342.5 928.6,344.7 942.4,340.1"/>
<polygon points="942.9,340.5 956.7,340.1 958.3,330.8 942.7,324.0 942.7,324.1 942.4,340.1"/>
<polygon points="963.4,348.4 971.1,345.9 976.4,337.0 976.3,328.0 973.9,324.3 966.7,324.8 958.3,330.8 956.7,340.1"/>
<polygon points="976.4,337.0 991.1,344.0 996.7,340.8 996.9,328.3 976.3,328.0"/>
<polygon points="996.7,340.8 999.2,342.2 1000.8,336.1 1000.0,329.8 1000.7,325.8 999.1,325.9 996.9,328.3"/>
<polygon points="799.0,342.7 781.5,346.2 781.5,359.3 799.9,359.7"/>
<polygon points="812.7,360.7 814.7,358.5 815.5,344.1 813.7,342.1 799.1,342.6 799.0,342.7 799.9,359.7 801.2,360.9"/>
<polygon points="833.2,359.1 831.8,344.3 831.5,344.0 815.5,344.1 814.7,358.5 831.7,360.1"/>
<polygon points="845.6,362.4 848.5,359.6 850.1,344.4 831.8,344.3 833.2,359.1"/>
<polygon points="851.0,343.4 850.1,344.4 848.5,359.6 864.9,359.8 865.5,359.2 867.1,344.0"/>
<polygon points="879.0,343.7 867.1,344.0 867.1,344.0 865.5,359.2 881.3,363.1 882.3,362.6 883.9,346.2"/>
<polygon points="895.6,343.0 883.9,346.2 882.3,362.6 894.4,367.2 900.6,356.4 899.1,346.9"/>
<polygon points="900.6,356.4 911.6,360.2 914.2,359.4 915.3,346.5 899.1,346.9"/>
<polygon points="924.8,364.7 931.3,359.4 928.6,344.7 925.4,342.5 919.0,343.6 915.3,346.5 914.2,359.4"/>
<polygon points="928.6,344.7 931.3,359.4 943.7,362.7 948.7,358.6 942.9,340.5 942.4,340.1"/>
<polygon points="948.7,358.6 954.0,357.7 961.6,351.8 963.4,348.4 956.7,340.1 942.9,340.5"/>
<polygon points="961.6,351.8 970.7,364.7 975.2,363.7 980.3,355.7 971.1,345.9 963.4,348.4"/>
<polygon points="980.3,355.7 988.2,356.0 991.1,344.0 976.4,337.0 971.1,345.9"/>
<polygon points="988.2,356.0 990.1,358.0 997.0,357.2 995.8,350.0 999.2,342.4 999.2,342.2 996.7,340.8 991.1,344.0"/>
<polygon points="766.5,365.7 757.9,365.7 757.9,374.0 757.9,374.0 757.9,374.0 757.9,374.0 757.9,374.0 757.9,374.0 757.0,375.6 764.8,376.2"/>
<polygon points="781.5,361.5 781.5,365.6 781.5,365.6 781.5,365.6 781.5,365.6 781.5,365.6 781.5,365.6 781.5,365.6 781.5,365.6 781.5,365.6 781.5,365.6 781.5,365.6 781.5,365.6 781.5,365.6 781.5,365.6 781.5,365.6 781.5,365.6 781.5,365.7 766.5,365.7 764.8,376.2 765.9,377.3 779.7,377.8 783.3,373.3"/>
<polygon points="796.6,375.9 798.0,375.0 801.2,360.9 799.9,359.7 781.5,359.3 781.5,361.5 783.3,373.3"/>
<polygon points="812.7,360.7 801.2,360.9 798.0,375.0 814.0,378.0 816.4,375.5"/>
<polygon points="827.0,375.5 831.7,360.1 814.7,358.5 812.7,360.7 816.4,375.5"/>
<polygon points="845.6,362.4 833.2,359.1 831.7,360.1 827.0,375.5 830.1,378.5 844.0,376.7 847.3,372.5"/>
<polygon points="864.9,359.8 848.5,359.6 845.6,362.4 847.3,372.5 863.6,377.8"/>
<polygon points="874.8,378.2 881.3,363.1 865.5,359.2 864.9,359.8 863.6,377.8 863.7,377.9"/>
<polygon points="891.0,377.9 895.9,370.7 894.4,367.2 882.3,362.6 881.3,363.1 874.8,378.2 880.5,383.6"/>
<polygon points="894.4,367.2 895.9,370.7 905.9,375.3 911.6,360.2 900.6,356.4"/>
<polygon points="924.8,364.7 914.2,359.4 911.6,360.2 905.9,375.3 909.8,379.4 923.8,369.9"/>
<polygon points="930.3,378.5 945.2,375.3 943.7,362.7 931.3,359.4 924.8,364.7 923.8,369.9"/>
<polygon points="948.7,358.6 943.7,362.7 945.2,375.3 947.7,378.4 954.5,381.4 956.9,379.6 961.2,368.8 954.0,357.7"/>
<polygon points="961.2,368.8 961.6,367.8 960.4,358.3 964.0,359.5 967.5,365.4 970.7,364.7 961.6,351.8 954.0,357.7"/>
<polygon points="975.2,363.7 978.1,363.1 987.6,358.3 990.1,358.0 988.2,356.0 980.3,355.7"/>
<polygon points="764.8,376.2 757.0,375.6 754.1,380.6 755.5,381.7 758.4,388.3 764.6,388.8 765.9,377.3"/>
<polygon points="779.7,377.8 765.9,377.3 764.6,388.8 768.2,396.5 781.1,387.0"/>
<polygon points="796.6,375.9 783.3,373.3 779.7,377.8 781.1,387.0 788.3,392.0 796.7,387.4"/>
<polygon points="814.0,378.0 798.0,375.0 796.6,375.9 796.7,387.4 811.8,396.0"/>
<polygon points="814.6,399.7 825.2,401.2 830.2,389.8 830.1,378.5 827.0,375.5 816.4,375.5 814.0,378.0 811.8,396.0 812.7,398.1"/>
<polygon points="830.1,378.5 830.2,389.8 845.4,387.5 844.0,376.7"/>
<polygon points="863.7,377.9 863.6,377.8 847.3,372.5 844.0,376.7 845.4,387.5 850.1,394.0 861.1,386.8"/>
<polygon points="880.5,383.6 874.8,378.2 863.7,377.9 861.1,386.8 870.5,398.1 880.6,383.9"/>
<polygon points="890.8,393.5 897.7,390.1 891.0,377.9 880.5,383.6 880.6,383.9 887.7,393.1"/>
<polygon points="905.9,375.3 895.9,370.7 891.0,377.9 897.7,390.1 909.6,390.0 910.5,389.1 909.8,379.4"/>
<polygon points="909.8,379.4 910.5,389.1 922.0,391.6 928.3,388.7 930.3,378.5 923.8,369.9"/>
<polygon points="928.3,388.7 937.2,392.1 947.7,378.4 945.2,375.3 930.3,378.5"/>
<polygon points="947.7,378.4 937.2,392.1 938.1,393.8 947.4,387.9 952.1,383.2 954.5,381.4"/>
<polygon points="881.2,402.8 892.5,416.5 900.7,417.0 890.8,393.5 887.7,393.1"/>
<polygon points="900.7,417.0 901.4,417.2 904.5,415.2 909.6,390.0 897.7,390.1 890.8,393.5"/>
<polygon points="910.5,389.1 909.6,390.0 904.5,415.2 904.9,415.0 909.6,410.3 908.4,403.2 914.3,400.9 923.8,402.0 924.7,401.6 922.0,391.6"/>
<polygon points="924.7,401.6 930.9,398.5 938.0,393.8 938.1,393.8 937.2,392.1 928.3,388.7 922.0,391.6"/>
<polygon points="876.6,423.5 883.9,438.6 888.3,431.6 891.9,424.5 895.4,421.0 901.4,417.2 900.7,417.0 892.5,416.5"/>
<polygon points="764.6,388.8 758.4,388.3 759.4,390.5 763.0,401.3 763.3,401.8 767.6,400.6 768.2,396.5"/>
<polygon points="781.1,387.0 768.2,396.5 767.6,400.6 770.2,403.2 788.1,403.7 788.3,392.0"/>
<polygon points="811.8,396.0 796.7,387.4 788.3,392.0 788.1,403.7 790.3,406.3 812.7,398.1"/>
<polygon points="850.1,394.0 845.4,387.5 830.2,389.8 825.2,401.2 826.0,401.9 847.5,404.9 848.0,404.5"/>
<polygon points="870.9,401.9 870.5,398.1 861.1,386.8 850.1,394.0 848.0,404.5 868.0,405.5"/>
<polygon points="880.6,383.9 870.5,398.1 870.9,401.9 881.2,402.8 887.7,393.1"/>
<polygon points="767.6,400.6 763.3,401.8 769.9,413.5 771.6,415.8 770.2,403.2"/>
<polygon points="790.3,406.3 788.1,403.7 770.2,403.2 771.6,415.8 776.7,423.0 777.3,424.0 789.7,422.5 791.0,421.3"/>
<polygon points="814.6,399.7 812.7,398.1 790.3,406.3 791.0,421.3 806.5,422.1"/>
<polygon points="826.0,401.9 825.2,401.2 814.6,399.7 806.5,422.1 810.9,426.5 825.6,423.6 825.6,405.3 825.6,405.3 825.6,405.3 825.6,405.3 825.6,405.3 825.6,405.3 825.6,405.3 825.6,405.3 825.6,405.3 825.6,405.3 825.6,405.3 825.6,405.3 825.6,405.3 825.6,405.3 825.6,405.3 825.6,405.3 825.6,405.2 826.2,405.2"/>
<polygon points="847.5,404.9 826.0,401.9 826.2,405.2 842.0,405.2 842.0,405.3 842.0,405.3 842.0,405.3 842.0,405.3 842.0,405.3 842.0,405.3 842.0,405.3 842.0,405.3 842.0,405.3 842.0,405.3 842.0,405.3 842.0,405.3 842.0,405.3 842.0,405.3 842.0,405.3 842.0,405.3 842.0,424.8 848.4,423.4"/>
<polygon points="848.0,404.5 847.5,404.9 848.4,423.4 848.7,423.6 870.8,421.5 868.0,405.5"/>
<polygon points="870.8,421.5 873.0,423.2 876.6,423.5 892.5,416.5 881.2,402.8 870.9,401.9 868.0,405.5"/>
<polygon points="789.7,422.5 777.3,424.0 784.8,435.2 791.9,442.3 792.4,441.8"/>
<polygon points="810.9,426.5 806.5,422.1 791.0,421.3 789.7,422.5 792.4,441.8 811.0,442.7"/>
<polygon points="810.9,426.5 811.0,442.7 811.1,442.9 829.1,443.1 830.0,442.1 832.2,428.4 825.6,428.4 825.6,428.4 825.6,428.4 825.6,428.4 825.6,428.4 825.6,428.4 825.6,428.4 825.6,428.4 825.6,428.4 825.6,428.4 825.6,428.4 825.6,428.4 825.6,428.4 825.6,428.4 825.6,428.4 825.6,428.4 825.6,428.4 825.6,423.6"/>
<polygon points="842.0,424.8 842.0,428.4 842.0,428.4 842.0,428.4 842.0,428.4 842.0,428.4 842.0,428.4 842.0,428.4 842.0,428.4 842.0,428.4 842.0,428.4 842.0,428.4 842.0,428.4 842.0,428.4 842.0,428.4 842.0,428.4 842.0,428.4 842.0,428.4 832.2,428.4 830.0,442.1 850.9,444.3 853.3,441.7 848.7,423.6 848.4,423.4"/>
<polygon points="848.7,423.6 853.3,441.7 865.5,443.0 873.0,423.2 870.8,421.5"/>
<polygon points="873.0,423.2 865.5,443.0 871.4,448.8 881.2,444.5 882.4,441.0 883.9,438.6 876.6,423.5"/>
<polygon points="792.4,441.8 791.9,442.3 794.3,444.7 798.4,451.5 801.1,461.0 801.3,461.5 809.2,462.0 809.6,461.8 811.1,442.9 811.0,442.7"/>
<polygon points="811.1,442.9 809.6,461.8 826.1,465.8 831.8,461.4 829.1,443.1"/>
<polygon points="829.1,443.1 831.8,461.4 847.4,462.5 850.9,444.3 830.0,442.1"/>
<polygon points="847.4,462.5 847.8,463.0 855.5,462.8 855.5,462.4 855.5,462.4 855.5,462.4 855.5,462.4 855.5,462.4 855.5,462.4 855.5,462.4 855.5,462.4 855.5,462.4 855.5,462.4 855.5,462.4 855.5,462.4 855.5,462.4 855.5,462.4 855.5,462.4 855.5,462.4 855.5,462.3 871.4,462.3 871.4,448.8 865.5,443.0 853.3,441.7 850.9,444.3"/>
<polygon points="871.4,448.8 871.4,462.3 873.9,462.3 874.5,459.7 877.2,452.0 880.0,448.0 881.2,444.5"/>
<polygon points="801.3,461.5 805.2,471.9 806.7,474.9 809.2,462.0"/>
<polygon points="826.1,465.8 809.6,461.8 809.2,462.0 806.7,474.9 810.7,482.8 812.8,486.5 827.2,483.1"/>
<polygon points="849.4,480.9 847.8,463.0 847.4,462.5 831.8,461.4 826.1,465.8 827.2,483.1 830.2,485.5 845.9,484.2"/>
<polygon points="847.8,463.0 849.4,480.9 855.5,482.1 855.5,462.8"/>
<polygon points="830.2,485.5 827.2,483.1 812.8,486.5 816.1,492.3 824.2,497.2 829.7,499.5"/>
<polygon points="845.9,484.2 830.2,485.5 829.7,499.5 835.1,501.8 839.5,504.0 848.4,505.4 849.1,504.5"/>
<polygon points="868.4,499.8 866.2,485.6 855.5,485.6 855.5,485.5 855.5,485.5 855.5,485.5 855.5,485.5 855.5,485.5 855.5,485.5 855.5,485.5 855.5,485.5 855.5,485.5 855.5,485.5 855.5,485.5 855.5,485.5 855.5,485.5 855.5,485.5 855.5,485.5 855.5,485.5 855.5,482.1 849.4,480.9 845.9,484.2 849.1,504.5"/>
<polygon points="868.4,499.8 873.5,504.2 878.9,503.5 875.9,497.7 873.1,486.8 873.0,485.6 866.2,485.6"/>
<polygon points="839.5,504.0 843.3,505.9 845.0,508.0 840.0,520.0 848.6,520.0 848.4,505.4"/>
<polygon points="848.4,505.4 848.6,520.0 869.6,520.0 873.5,504.2 868.4,499.8 849.1,504.5"/>
<polygon points="873.5,504.2 869.6,520.0 884.0,520.0 881.3,508.0 878.9,503.5"/>
</g>
</g>
<polygon points="683.3,89.4 783.0,90.8 783.2,167.7 789.5,173.6 797.8,174.8 803.7,173.2 808.4,177.2 810.8,181.9 816.7,183.1 823.8,185.4 828.5,185.0 834.4,186.6 838.0,185.0 845.0,185.4 848.6,190.6 854.5,194.9 861.6,191.3 867.5,194.9 874.0,193.6 877.7,198.3 883.6,191.7 890.7,194.8 895.4,193.0 902.5,198.3 909.6,194.8 919.0,193.0 930.9,190.8 941.5,189.4 949.8,192.4 956.9,197.2 966.3,200.7 973.4,201.9 981.0,202.6 982.8,217.0 983.3,238.5 984.0,250.3 986.4,264.5 991.4,270.0 994.5,276.3 996.9,284.2 1001.6,293.6 1003.9,299.1 1003.5,309.4 1001.6,320.4 1000.0,329.8 1000.8,336.1 999.2,342.4 995.8,350.0 997.0,357.2 987.6,358.3 978.1,363.1 967.5,365.4 964.0,359.5 960.4,358.3 961.6,367.8 956.9,379.6 952.1,383.2 947.4,387.9 938.0,393.8 930.9,398.5 923.8,402.0 914.3,400.9 908.4,403.2 909.6,410.3 904.9,415.0 895.4,421.0 891.9,424.5 888.3,431.6 882.4,441.0 880.0,448.0 877.2,452.0 874.5,459.7 871.8,471.9 873.1,486.8 875.9,497.7 881.3,508.0 884.0,520.0 840.0,520.0 845.0,508.0 843.3,505.9 835.1,501.8 824.2,497.2 816.1,492.3 810.7,482.8 805.2,471.9 801.1,461.0 798.4,451.5 794.3,444.7 784.8,435.2 776.7,423.0 769.9,413.5 763.0,401.3 759.4,390.5 755.5,381.7 745.7,373.8 737.8,367.9 731.9,361.0 722.0,359.0 710.2,358.7 703.3,356.7 700.4,358.0 690.6,362.0 684.6,368.9 680.7,381.7 673.8,388.6 668.9,391.0 663.0,389.6 657.1,384.6 649.2,378.7 635.4,372.8 625.6,363.0 619.7,351.2 618.7,339.4 614.8,331.5 611.8,322.6 600.0,314.8 597.0,314.0 589.2,305.0 577.4,289.4 569.5,286.4 559.7,271.7 556.1,264.8 677.6,269.0 680.7,170.0" fill="none" stroke="#3f6b35" stroke-width="0.9" stroke-linejoin="round"/>
<g fill="none" stroke="#7fa183" stroke-width="1.0" stroke-linecap="round" filter="url(#soft)"><polyline points="897.5,420.5 906.0,414.5 911.0,411.0"/><polyline points="890.5,430.0 895.0,423.5"/><polyline points="884.0,441.0 888.5,433.0"/><polyline points="879.5,455.0 882.5,445.0"/><polyline points="876.3,470.0 878.0,459.0"/><polyline points="876.0,488.0 875.8,474.0"/><polyline points="879.0,500.0 877.0,491.0"/><polyline points="955.0,381.0 960.0,377.5 965.0,373.5"/><polyline points="969.0,369.5 978.0,365.5"/><polyline points="940.0,395.0 950.0,388.0"/></g>
<polygon points="884.5,222 825.2,375.9 960.6,375.9" fill="none" stroke="#0a0a0a" stroke-width="4.6" stroke-linejoin="miter" stroke-miterlimit="10"/>
<g>
<rect x="406.6" y="332.6" width="176.6" height="190" rx="2.5" fill="#fdfdfe" stroke="#5b5b5b" stroke-width="1.2"/>
<polygon points="418.2,363.9 450.3,360.2 450.3,372.8 418.2,372.8" fill="#0d6b3a"/>
<polygon points="418.2,379.6 450.3,375.9 450.3,388.5 418.2,388.5" fill="#2e8b4e"/>
<polygon points="418.2,395.3 450.3,391.6 450.3,404.2 418.2,404.2" fill="#5aa650"/>
<polygon points="418.2,411.0 450.3,407.3 450.3,419.9 418.2,419.9" fill="#8cbd5a"/>
<polygon points="418.2,426.7 450.3,423.0 450.3,435.6 418.2,435.6" fill="#bcd77c"/>
<polygon points="418.2,442.4 450.3,438.7 450.3,451.3 418.2,451.3" fill="#dddc80"/>
<polygon points="418.2,458.1 450.3,454.4 450.3,467.0 418.2,467.0" fill="#f3cc6b"/>
<polygon points="418.2,473.8 450.3,470.1 450.3,482.7 418.2,482.7" fill="#f0a04b"/>
<polygon points="418.2,489.5 450.3,485.8 450.3,498.4 418.2,498.4" fill="#e56c2c"/>
<polygon points="418.2,505.2 450.3,501.5 450.3,514.1 418.2,514.1" fill="#dc3d1a"/>
</g>
<text x="454.70" y="354.6" font-family="Liberation Sans, sans-serif" font-weight="normal" font-size="10.4" fill="#151515" textLength="111.67" lengthAdjust="spacingAndGlyphs" stroke="#151515" stroke-width="0.28">Population per sq. mile</text>
<text x="455.40" y="370.6" font-family="Liberation Sans, sans-serif" font-weight="normal" font-size="10.3" fill="#151515" textLength="11.92" lengthAdjust="spacingAndGlyphs" stroke="#151515" stroke-width="0.28">&lt;1</text>
<text x="455.40" y="386.3" font-family="Liberation Sans, sans-serif" font-weight="normal" font-size="10.3" fill="#151515" textLength="26.72" lengthAdjust="spacingAndGlyphs" stroke="#151515" stroke-width="0.28">1...10</text>
<text x="455.40" y="402.0" font-family="Liberation Sans, sans-serif" font-weight="normal" font-size="10.3" fill="#151515" textLength="32.82" lengthAdjust="spacingAndGlyphs" stroke="#151515" stroke-width="0.28">10...25</text>
<text x="455.40" y="417.7" font-family="Liberation Sans, sans-serif" font-weight="normal" font-size="10.3" fill="#151515" textLength="32.82" lengthAdjust="spacingAndGlyphs" stroke="#151515" stroke-width="0.28">25...50</text>
<text x="455.40" y="433.4" font-family="Liberation Sans, sans-serif" font-weight="normal" font-size="10.3" fill="#151515" textLength="38.81" lengthAdjust="spacingAndGlyphs" stroke="#151515" stroke-width="0.28">50...100</text>
<text x="455.40" y="449.1" font-family="Liberation Sans, sans-serif" font-weight="normal" font-size="10.3" fill="#151515" textLength="45.01" lengthAdjust="spacingAndGlyphs" stroke="#151515" stroke-width="0.28">100...250</text>
<text x="455.40" y="464.8" font-family="Liberation Sans, sans-serif" font-weight="normal" font-size="10.3" fill="#151515" textLength="45.01" lengthAdjust="spacingAndGlyphs" stroke="#151515" stroke-width="0.28">250...500</text>
<text x="455.40" y="480.5" font-family="Liberation Sans, sans-serif" font-weight="normal" font-size="10.3" fill="#151515" textLength="51.01" lengthAdjust="spacingAndGlyphs" stroke="#151515" stroke-width="0.28">500...1000</text>
<text x="455.40" y="496.2" font-family="Liberation Sans, sans-serif" font-weight="normal" font-size="10.3" fill="#151515" textLength="57.31" lengthAdjust="spacingAndGlyphs" stroke="#151515" stroke-width="0.28">1000...2500</text>
<text x="455.40" y="511.9" font-family="Liberation Sans, sans-serif" font-weight="normal" font-size="10.3" fill="#151515" textLength="57.31" lengthAdjust="spacingAndGlyphs" stroke="#151515" stroke-width="0.28">2500...5000</text>
<text x="595.90" y="507.5" font-family="Liberation Sans, sans-serif" font-weight="normal" font-size="10.8" fill="#151515" textLength="157.71" lengthAdjust="spacingAndGlyphs" stroke="#151515" stroke-width="0.28">Source: U. S. Census Bureau</text>
</svg>
</body></html>
